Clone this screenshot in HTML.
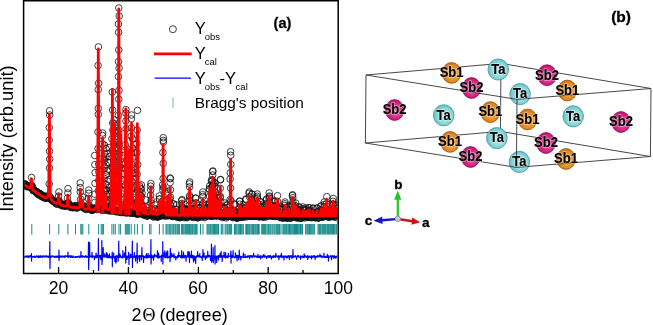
<!DOCTYPE html>
<html><head><meta charset="utf-8"><style>
html,body{margin:0;padding:0;background:#fff;width:653px;height:325px;overflow:hidden}
svg{display:block}
</style></head><body>
<svg width="653" height="325" viewBox="0 0 653 325">
<rect width="653" height="325" fill="#fff"/>
<defs><clipPath id="pc"><rect x="24.3" y="1.3" width="313.2" height="271.5"/></clipPath></defs>
<g style="filter:blur(0.2px)"><g clip-path="url(#pc)">
<g fill="none" stroke="#111" stroke-width="0.8"><circle cx="24.0" cy="184.3" r="3.3"/><circle cx="24.5" cy="183.7" r="3.3"/><circle cx="24.9" cy="184.1" r="3.3"/><circle cx="25.2" cy="184.3" r="3.3"/><circle cx="25.6" cy="185.3" r="3.3"/><circle cx="25.8" cy="185.2" r="3.3"/><circle cx="26.3" cy="186.7" r="3.3"/><circle cx="26.8" cy="185.9" r="3.3"/><circle cx="27.0" cy="185.9" r="3.3"/><circle cx="27.7" cy="186.4" r="3.3"/><circle cx="27.8" cy="186.2" r="3.3"/><circle cx="28.4" cy="186.4" r="3.3"/><circle cx="28.9" cy="186.3" r="3.3"/><circle cx="29.1" cy="186.4" r="3.3"/><circle cx="29.7" cy="186.7" r="3.3"/><circle cx="29.8" cy="187.6" r="3.3"/><circle cx="30.3" cy="186.1" r="3.3"/><circle cx="30.7" cy="185.2" r="3.3"/><circle cx="31.0" cy="186.7" r="3.3"/><circle cx="31.4" cy="186.3" r="3.3"/><circle cx="31.8" cy="185.6" r="3.3"/><circle cx="32.3" cy="186.5" r="3.3"/><circle cx="32.6" cy="188.0" r="3.3"/><circle cx="33.1" cy="190.4" r="3.3"/><circle cx="33.3" cy="190.7" r="3.3"/><circle cx="33.6" cy="189.2" r="3.3"/><circle cx="34.0" cy="190.6" r="3.3"/><circle cx="34.3" cy="190.5" r="3.3"/><circle cx="34.9" cy="191.1" r="3.3"/><circle cx="35.5" cy="191.6" r="3.3"/><circle cx="35.7" cy="191.3" r="3.3"/><circle cx="35.8" cy="191.8" r="3.3"/><circle cx="36.2" cy="192.4" r="3.3"/><circle cx="36.8" cy="191.5" r="3.3"/><circle cx="37.2" cy="192.7" r="3.3"/><circle cx="37.4" cy="193.5" r="3.3"/><circle cx="37.8" cy="194.2" r="3.3"/><circle cx="38.3" cy="194.2" r="3.3"/><circle cx="38.8" cy="193.1" r="3.3"/><circle cx="39.1" cy="193.2" r="3.3"/><circle cx="39.5" cy="195.3" r="3.3"/><circle cx="40.2" cy="193.8" r="3.3"/><circle cx="40.3" cy="194.7" r="3.3"/><circle cx="41.1" cy="194.9" r="3.3"/><circle cx="41.2" cy="194.7" r="3.3"/><circle cx="41.5" cy="196.0" r="3.3"/><circle cx="41.8" cy="196.2" r="3.3"/><circle cx="42.2" cy="196.9" r="3.3"/><circle cx="42.7" cy="196.8" r="3.3"/><circle cx="43.1" cy="195.7" r="3.3"/><circle cx="43.4" cy="196.0" r="3.3"/><circle cx="43.7" cy="197.4" r="3.3"/><circle cx="44.0" cy="196.4" r="3.3"/><circle cx="44.6" cy="197.0" r="3.3"/><circle cx="44.9" cy="198.2" r="3.3"/><circle cx="45.5" cy="196.5" r="3.3"/><circle cx="46.0" cy="197.7" r="3.3"/><circle cx="46.2" cy="198.4" r="3.3"/><circle cx="46.6" cy="197.6" r="3.3"/><circle cx="47.0" cy="197.8" r="3.3"/><circle cx="47.3" cy="196.9" r="3.3"/><circle cx="47.7" cy="195.7" r="3.3"/><circle cx="48.0" cy="197.6" r="3.3"/><circle cx="48.5" cy="197.5" r="3.3"/><circle cx="49.0" cy="196.4" r="3.3"/><circle cx="49.3" cy="197.9" r="3.3"/><circle cx="49.4" cy="197.1" r="3.3"/><circle cx="49.9" cy="197.1" r="3.3"/><circle cx="50.4" cy="198.2" r="3.3"/><circle cx="50.8" cy="197.9" r="3.3"/><circle cx="51.0" cy="199.4" r="3.3"/><circle cx="51.8" cy="200.2" r="3.3"/><circle cx="51.9" cy="199.9" r="3.3"/><circle cx="52.5" cy="200.0" r="3.3"/><circle cx="52.6" cy="200.2" r="3.3"/><circle cx="53.4" cy="201.2" r="3.3"/><circle cx="53.7" cy="201.8" r="3.3"/><circle cx="54.1" cy="201.4" r="3.3"/><circle cx="54.4" cy="201.6" r="3.3"/><circle cx="55.0" cy="201.4" r="3.3"/><circle cx="55.2" cy="201.6" r="3.3"/><circle cx="55.6" cy="202.9" r="3.3"/><circle cx="55.6" cy="202.3" r="3.3"/><circle cx="56.3" cy="203.9" r="3.3"/><circle cx="56.8" cy="203.9" r="3.3"/><circle cx="57.3" cy="203.9" r="3.3"/><circle cx="57.3" cy="202.3" r="3.3"/><circle cx="57.8" cy="201.9" r="3.3"/><circle cx="58.3" cy="200.7" r="3.3"/><circle cx="58.6" cy="201.7" r="3.3"/><circle cx="59.0" cy="201.0" r="3.3"/><circle cx="59.4" cy="201.6" r="3.3"/><circle cx="59.7" cy="204.1" r="3.3"/><circle cx="60.1" cy="204.5" r="3.3"/><circle cx="60.6" cy="204.7" r="3.3"/><circle cx="61.3" cy="205.2" r="3.3"/><circle cx="61.5" cy="204.6" r="3.3"/><circle cx="61.8" cy="204.9" r="3.3"/><circle cx="62.2" cy="205.8" r="3.3"/><circle cx="62.5" cy="205.7" r="3.3"/><circle cx="63.0" cy="204.4" r="3.3"/><circle cx="63.5" cy="204.4" r="3.3"/><circle cx="63.5" cy="204.6" r="3.3"/><circle cx="64.3" cy="205.8" r="3.3"/><circle cx="64.6" cy="205.6" r="3.3"/><circle cx="64.9" cy="205.3" r="3.3"/><circle cx="65.1" cy="205.4" r="3.3"/><circle cx="65.5" cy="206.3" r="3.3"/><circle cx="65.7" cy="205.8" r="3.3"/><circle cx="66.2" cy="206.0" r="3.3"/><circle cx="66.8" cy="205.2" r="3.3"/><circle cx="66.8" cy="203.4" r="3.3"/><circle cx="67.3" cy="203.2" r="3.3"/><circle cx="67.8" cy="203.9" r="3.3"/><circle cx="68.5" cy="202.8" r="3.3"/><circle cx="68.7" cy="204.2" r="3.3"/><circle cx="68.8" cy="204.5" r="3.3"/><circle cx="69.5" cy="205.3" r="3.3"/><circle cx="69.8" cy="206.1" r="3.3"/><circle cx="70.4" cy="207.4" r="3.3"/><circle cx="70.6" cy="205.8" r="3.3"/><circle cx="71.0" cy="206.8" r="3.3"/><circle cx="71.7" cy="207.1" r="3.3"/><circle cx="72.2" cy="206.2" r="3.3"/><circle cx="72.5" cy="207.7" r="3.3"/><circle cx="72.7" cy="207.3" r="3.3"/><circle cx="73.3" cy="207.6" r="3.3"/><circle cx="73.7" cy="206.4" r="3.3"/><circle cx="74.3" cy="206.7" r="3.3"/><circle cx="74.7" cy="206.3" r="3.3"/><circle cx="74.9" cy="206.1" r="3.3"/><circle cx="75.5" cy="206.0" r="3.3"/><circle cx="75.7" cy="205.7" r="3.3"/><circle cx="76.2" cy="207.6" r="3.3"/><circle cx="76.7" cy="208.2" r="3.3"/><circle cx="77.3" cy="206.9" r="3.3"/><circle cx="77.7" cy="207.4" r="3.3"/><circle cx="77.9" cy="206.9" r="3.3"/><circle cx="78.4" cy="206.6" r="3.3"/><circle cx="78.9" cy="206.3" r="3.3"/><circle cx="79.5" cy="205.4" r="3.3"/><circle cx="79.5" cy="204.8" r="3.3"/><circle cx="79.9" cy="206.5" r="3.3"/><circle cx="80.1" cy="205.8" r="3.3"/><circle cx="80.6" cy="205.4" r="3.3"/><circle cx="81.0" cy="206.8" r="3.3"/><circle cx="81.4" cy="205.7" r="3.3"/><circle cx="81.9" cy="205.2" r="3.3"/><circle cx="82.2" cy="205.3" r="3.3"/><circle cx="82.7" cy="206.6" r="3.3"/><circle cx="83.0" cy="206.7" r="3.3"/><circle cx="83.4" cy="206.8" r="3.3"/><circle cx="83.6" cy="208.0" r="3.3"/><circle cx="84.3" cy="208.0" r="3.3"/><circle cx="84.8" cy="208.3" r="3.3"/><circle cx="85.2" cy="207.8" r="3.3"/><circle cx="85.4" cy="208.8" r="3.3"/><circle cx="86.0" cy="209.0" r="3.3"/><circle cx="86.1" cy="209.6" r="3.3"/><circle cx="86.8" cy="208.2" r="3.3"/><circle cx="87.1" cy="207.6" r="3.3"/><circle cx="87.6" cy="208.6" r="3.3"/><circle cx="88.0" cy="207.7" r="3.3"/><circle cx="88.3" cy="206.2" r="3.3"/><circle cx="88.7" cy="208.1" r="3.3"/><circle cx="89.4" cy="208.3" r="3.3"/><circle cx="89.4" cy="207.0" r="3.3"/><circle cx="89.7" cy="208.4" r="3.3"/><circle cx="90.3" cy="208.6" r="3.3"/><circle cx="90.8" cy="208.5" r="3.3"/><circle cx="91.1" cy="209.7" r="3.3"/><circle cx="91.5" cy="210.3" r="3.3"/><circle cx="91.7" cy="209.9" r="3.3"/><circle cx="92.2" cy="209.9" r="3.3"/><circle cx="92.6" cy="210.1" r="3.3"/><circle cx="92.9" cy="209.8" r="3.3"/><circle cx="93.1" cy="209.3" r="3.3"/><circle cx="93.8" cy="208.5" r="3.3"/><circle cx="94.2" cy="209.2" r="3.3"/><circle cx="94.5" cy="209.3" r="3.3"/><circle cx="95.0" cy="208.7" r="3.3"/><circle cx="95.1" cy="208.7" r="3.3"/><circle cx="95.7" cy="208.7" r="3.3"/><circle cx="95.8" cy="207.4" r="3.3"/><circle cx="96.4" cy="208.4" r="3.3"/><circle cx="96.9" cy="208.3" r="3.3"/><circle cx="97.1" cy="209.6" r="3.3"/><circle cx="97.6" cy="208.6" r="3.3"/><circle cx="98.1" cy="209.1" r="3.3"/><circle cx="98.9" cy="208.2" r="3.3"/><circle cx="99.2" cy="209.4" r="3.3"/><circle cx="99.4" cy="208.7" r="3.3"/><circle cx="99.9" cy="207.9" r="3.3"/><circle cx="100.4" cy="209.6" r="3.3"/><circle cx="100.5" cy="209.5" r="3.3"/><circle cx="101.1" cy="208.9" r="3.3"/><circle cx="101.3" cy="209.5" r="3.3"/><circle cx="101.7" cy="209.9" r="3.3"/><circle cx="102.2" cy="209.7" r="3.3"/><circle cx="102.4" cy="208.6" r="3.3"/><circle cx="103.1" cy="209.7" r="3.3"/><circle cx="103.4" cy="209.1" r="3.3"/><circle cx="103.7" cy="208.8" r="3.3"/><circle cx="104.1" cy="210.4" r="3.3"/><circle cx="104.5" cy="208.5" r="3.3"/><circle cx="104.9" cy="209.5" r="3.3"/><circle cx="105.6" cy="209.3" r="3.3"/><circle cx="106.0" cy="208.9" r="3.3"/><circle cx="106.4" cy="209.4" r="3.3"/><circle cx="106.6" cy="208.9" r="3.3"/><circle cx="107.1" cy="209.5" r="3.3"/><circle cx="107.5" cy="210.6" r="3.3"/><circle cx="108.0" cy="209.4" r="3.3"/><circle cx="108.2" cy="209.1" r="3.3"/><circle cx="108.8" cy="209.3" r="3.3"/><circle cx="109.2" cy="209.5" r="3.3"/><circle cx="109.8" cy="210.5" r="3.3"/><circle cx="109.8" cy="211.0" r="3.3"/><circle cx="110.4" cy="210.6" r="3.3"/><circle cx="110.7" cy="210.1" r="3.3"/><circle cx="111.1" cy="209.6" r="3.3"/><circle cx="111.4" cy="210.1" r="3.3"/><circle cx="112.0" cy="210.7" r="3.3"/><circle cx="112.2" cy="211.0" r="3.3"/><circle cx="113.0" cy="210.6" r="3.3"/><circle cx="113.5" cy="210.2" r="3.3"/><circle cx="113.6" cy="209.7" r="3.3"/><circle cx="113.8" cy="209.7" r="3.3"/><circle cx="114.2" cy="210.7" r="3.3"/><circle cx="114.9" cy="209.9" r="3.3"/><circle cx="115.2" cy="211.5" r="3.3"/><circle cx="115.7" cy="210.8" r="3.3"/><circle cx="116.1" cy="211.8" r="3.3"/><circle cx="116.4" cy="210.5" r="3.3"/><circle cx="117.0" cy="210.4" r="3.3"/><circle cx="117.2" cy="210.8" r="3.3"/><circle cx="117.8" cy="210.7" r="3.3"/><circle cx="118.0" cy="210.3" r="3.3"/><circle cx="118.8" cy="211.8" r="3.3"/><circle cx="119.2" cy="212.2" r="3.3"/><circle cx="119.4" cy="211.6" r="3.3"/><circle cx="120.0" cy="211.2" r="3.3"/><circle cx="120.1" cy="210.8" r="3.3"/><circle cx="120.7" cy="211.6" r="3.3"/><circle cx="121.1" cy="211.5" r="3.3"/><circle cx="121.3" cy="212.6" r="3.3"/><circle cx="121.8" cy="211.1" r="3.3"/><circle cx="122.2" cy="211.5" r="3.3"/><circle cx="122.6" cy="212.0" r="3.3"/><circle cx="122.9" cy="212.4" r="3.3"/><circle cx="123.3" cy="212.5" r="3.3"/><circle cx="123.6" cy="211.7" r="3.3"/><circle cx="124.4" cy="211.3" r="3.3"/><circle cx="124.7" cy="211.9" r="3.3"/><circle cx="124.8" cy="211.1" r="3.3"/><circle cx="125.1" cy="212.4" r="3.3"/><circle cx="125.5" cy="212.9" r="3.3"/><circle cx="126.2" cy="211.8" r="3.3"/><circle cx="126.7" cy="212.6" r="3.3"/><circle cx="127.1" cy="212.0" r="3.3"/><circle cx="127.1" cy="211.7" r="3.3"/><circle cx="127.6" cy="213.0" r="3.3"/><circle cx="127.9" cy="211.4" r="3.3"/><circle cx="128.3" cy="212.1" r="3.3"/><circle cx="128.7" cy="212.0" r="3.3"/><circle cx="129.0" cy="211.6" r="3.3"/><circle cx="129.4" cy="212.2" r="3.3"/><circle cx="129.7" cy="212.9" r="3.3"/><circle cx="130.3" cy="212.9" r="3.3"/><circle cx="130.7" cy="211.5" r="3.3"/><circle cx="130.7" cy="212.3" r="3.3"/><circle cx="131.1" cy="212.8" r="3.3"/><circle cx="131.5" cy="212.9" r="3.3"/><circle cx="132.2" cy="212.3" r="3.3"/><circle cx="132.6" cy="213.3" r="3.3"/><circle cx="132.7" cy="212.3" r="3.3"/><circle cx="133.2" cy="212.7" r="3.3"/><circle cx="133.7" cy="212.8" r="3.3"/><circle cx="134.2" cy="212.9" r="3.3"/><circle cx="134.3" cy="213.3" r="3.3"/><circle cx="134.9" cy="212.3" r="3.3"/><circle cx="135.3" cy="213.1" r="3.3"/><circle cx="135.8" cy="213.1" r="3.3"/><circle cx="136.3" cy="213.8" r="3.3"/><circle cx="136.3" cy="212.3" r="3.3"/><circle cx="136.9" cy="214.0" r="3.3"/><circle cx="137.3" cy="213.4" r="3.3"/><circle cx="137.6" cy="214.1" r="3.3"/><circle cx="137.8" cy="212.3" r="3.3"/><circle cx="138.6" cy="213.9" r="3.3"/><circle cx="138.8" cy="213.0" r="3.3"/><circle cx="139.4" cy="212.3" r="3.3"/><circle cx="139.7" cy="213.6" r="3.3"/><circle cx="139.8" cy="212.7" r="3.3"/><circle cx="140.3" cy="212.4" r="3.3"/><circle cx="140.7" cy="213.7" r="3.3"/><circle cx="141.2" cy="212.7" r="3.3"/><circle cx="141.5" cy="213.5" r="3.3"/><circle cx="142.1" cy="213.6" r="3.3"/><circle cx="142.3" cy="213.7" r="3.3"/><circle cx="142.9" cy="213.2" r="3.3"/><circle cx="143.1" cy="213.7" r="3.3"/><circle cx="143.8" cy="214.2" r="3.3"/><circle cx="143.8" cy="215.1" r="3.3"/><circle cx="144.4" cy="215.2" r="3.3"/><circle cx="144.8" cy="214.2" r="3.3"/><circle cx="144.9" cy="213.3" r="3.3"/><circle cx="145.6" cy="212.9" r="3.3"/><circle cx="145.8" cy="213.6" r="3.3"/><circle cx="146.1" cy="213.0" r="3.3"/><circle cx="146.6" cy="214.6" r="3.3"/><circle cx="146.8" cy="216.1" r="3.3"/><circle cx="147.2" cy="216.1" r="3.3"/><circle cx="148.0" cy="215.3" r="3.3"/><circle cx="148.4" cy="215.3" r="3.3"/><circle cx="148.8" cy="215.3" r="3.3"/><circle cx="149.3" cy="214.8" r="3.3"/><circle cx="149.6" cy="213.9" r="3.3"/><circle cx="150.2" cy="214.0" r="3.3"/><circle cx="150.6" cy="215.1" r="3.3"/><circle cx="150.9" cy="214.0" r="3.3"/><circle cx="150.6" cy="186.2" r="3.3"/><circle cx="151.1" cy="214.3" r="3.3"/><circle cx="151.2" cy="200.1" r="3.3"/><circle cx="151.5" cy="213.4" r="3.3"/><circle cx="152.0" cy="215.2" r="3.3"/><circle cx="152.3" cy="215.1" r="3.3"/><circle cx="152.8" cy="216.5" r="3.3"/><circle cx="153.1" cy="215.3" r="3.3"/><circle cx="153.7" cy="215.9" r="3.3"/><circle cx="153.8" cy="217.0" r="3.3"/><circle cx="154.2" cy="215.4" r="3.3"/><circle cx="154.8" cy="214.7" r="3.3"/><circle cx="155.3" cy="215.4" r="3.3"/><circle cx="155.4" cy="209.3" r="3.3"/><circle cx="155.8" cy="215.5" r="3.3"/><circle cx="156.0" cy="216.6" r="3.3"/><circle cx="156.5" cy="215.7" r="3.3"/><circle cx="157.1" cy="216.9" r="3.3"/><circle cx="157.5" cy="217.0" r="3.3"/><circle cx="157.7" cy="216.0" r="3.3"/><circle cx="158.0" cy="217.0" r="3.3"/><circle cx="158.4" cy="215.9" r="3.3"/><circle cx="158.9" cy="215.0" r="3.3"/><circle cx="158.7" cy="211.2" r="3.3"/><circle cx="159.5" cy="213.9" r="3.3"/><circle cx="159.3" cy="199.0" r="3.3"/><circle cx="160.0" cy="215.6" r="3.3"/><circle cx="160.2" cy="215.0" r="3.3"/><circle cx="160.4" cy="216.0" r="3.3"/><circle cx="161.1" cy="215.0" r="3.3"/><circle cx="161.2" cy="215.7" r="3.3"/><circle cx="161.5" cy="215.4" r="3.3"/><circle cx="161.8" cy="211.2" r="3.3"/><circle cx="162.2" cy="214.5" r="3.3"/><circle cx="162.7" cy="214.9" r="3.3"/><circle cx="162.7" cy="189.6" r="3.3"/><circle cx="163.1" cy="215.8" r="3.3"/><circle cx="163.3" cy="140.4" r="3.3"/><circle cx="163.3" cy="215.0" r="3.3"/><circle cx="163.4" cy="187.5" r="3.3"/><circle cx="163.7" cy="214.8" r="3.3"/><circle cx="163.8" cy="204.8" r="3.3"/><circle cx="164.4" cy="215.4" r="3.3"/><circle cx="164.2" cy="209.6" r="3.3"/><circle cx="164.8" cy="215.8" r="3.3"/><circle cx="165.2" cy="215.4" r="3.3"/><circle cx="165.7" cy="214.9" r="3.3"/><circle cx="166.2" cy="216.0" r="3.3"/><circle cx="166.6" cy="215.1" r="3.3"/><circle cx="166.7" cy="211.3" r="3.3"/><circle cx="167.1" cy="214.1" r="3.3"/><circle cx="167.4" cy="214.0" r="3.3"/><circle cx="167.3" cy="194.0" r="3.3"/><circle cx="167.9" cy="215.8" r="3.3"/><circle cx="167.9" cy="208.5" r="3.3"/><circle cx="168.0" cy="214.2" r="3.3"/><circle cx="168.0" cy="211.6" r="3.3"/><circle cx="168.3" cy="214.5" r="3.3"/><circle cx="168.9" cy="215.3" r="3.3"/><circle cx="168.9" cy="212.5" r="3.3"/><circle cx="169.5" cy="215.5" r="3.3"/><circle cx="169.4" cy="209.1" r="3.3"/><circle cx="169.7" cy="214.5" r="3.3"/><circle cx="169.8" cy="198.9" r="3.3"/><circle cx="170.4" cy="215.1" r="3.3"/><circle cx="170.4" cy="178.6" r="3.3"/><circle cx="170.8" cy="215.6" r="3.3"/><circle cx="170.9" cy="205.8" r="3.3"/><circle cx="171.2" cy="214.2" r="3.3"/><circle cx="171.3" cy="210.8" r="3.3"/><circle cx="171.4" cy="215.6" r="3.3"/><circle cx="171.9" cy="216.3" r="3.3"/><circle cx="172.1" cy="216.1" r="3.3"/><circle cx="172.8" cy="216.6" r="3.3"/><circle cx="173.0" cy="215.6" r="3.3"/><circle cx="173.6" cy="215.3" r="3.3"/><circle cx="173.6" cy="204.0" r="3.3"/><circle cx="174.1" cy="214.6" r="3.3"/><circle cx="173.8" cy="211.4" r="3.3"/><circle cx="174.2" cy="215.9" r="3.3"/><circle cx="174.9" cy="215.8" r="3.3"/><circle cx="175.1" cy="216.4" r="3.3"/><circle cx="175.5" cy="216.6" r="3.3"/><circle cx="175.9" cy="214.7" r="3.3"/><circle cx="176.1" cy="215.1" r="3.3"/><circle cx="176.0" cy="209.5" r="3.3"/><circle cx="176.5" cy="215.5" r="3.3"/><circle cx="177.3" cy="216.3" r="3.3"/><circle cx="177.4" cy="215.9" r="3.3"/><circle cx="177.9" cy="217.4" r="3.3"/><circle cx="178.3" cy="217.2" r="3.3"/><circle cx="178.9" cy="216.8" r="3.3"/><circle cx="179.3" cy="216.6" r="3.3"/><circle cx="179.8" cy="217.7" r="3.3"/><circle cx="180.0" cy="216.7" r="3.3"/><circle cx="180.3" cy="216.3" r="3.3"/><circle cx="180.7" cy="217.5" r="3.3"/><circle cx="181.0" cy="215.7" r="3.3"/><circle cx="181.6" cy="216.0" r="3.3"/><circle cx="181.7" cy="210.0" r="3.3"/><circle cx="182.1" cy="215.8" r="3.3"/><circle cx="181.8" cy="200.5" r="3.3"/><circle cx="182.4" cy="214.3" r="3.3"/><circle cx="182.3" cy="208.3" r="3.3"/><circle cx="182.7" cy="215.2" r="3.3"/><circle cx="183.2" cy="216.2" r="3.3"/><circle cx="183.3" cy="216.2" r="3.3"/><circle cx="184.2" cy="217.7" r="3.3"/><circle cx="184.4" cy="216.4" r="3.3"/><circle cx="184.8" cy="216.7" r="3.3"/><circle cx="185.3" cy="214.7" r="3.3"/><circle cx="185.5" cy="208.8" r="3.3"/><circle cx="185.9" cy="215.8" r="3.3"/><circle cx="185.9" cy="209.6" r="3.3"/><circle cx="186.2" cy="216.8" r="3.3"/><circle cx="186.9" cy="216.7" r="3.3"/><circle cx="186.9" cy="217.8" r="3.3"/><circle cx="187.4" cy="216.7" r="3.3"/><circle cx="187.9" cy="216.3" r="3.3"/><circle cx="188.3" cy="216.6" r="3.3"/><circle cx="188.7" cy="214.9" r="3.3"/><circle cx="189.2" cy="214.3" r="3.3"/><circle cx="189.1" cy="205.7" r="3.3"/><circle cx="189.4" cy="215.3" r="3.3"/><circle cx="189.4" cy="183.9" r="3.3"/><circle cx="189.7" cy="214.3" r="3.3"/><circle cx="189.8" cy="197.3" r="3.3"/><circle cx="190.4" cy="215.2" r="3.3"/><circle cx="190.4" cy="209.1" r="3.3"/><circle cx="190.8" cy="215.8" r="3.3"/><circle cx="191.1" cy="216.0" r="3.3"/><circle cx="191.6" cy="217.0" r="3.3"/><circle cx="191.9" cy="215.8" r="3.3"/><circle cx="191.9" cy="211.8" r="3.3"/><circle cx="192.4" cy="215.9" r="3.3"/><circle cx="192.4" cy="206.1" r="3.3"/><circle cx="192.8" cy="214.3" r="3.3"/><circle cx="192.8" cy="209.5" r="3.3"/><circle cx="193.3" cy="215.2" r="3.3"/><circle cx="193.5" cy="217.5" r="3.3"/><circle cx="194.0" cy="217.0" r="3.3"/><circle cx="194.5" cy="215.9" r="3.3"/><circle cx="195.0" cy="216.2" r="3.3"/><circle cx="195.3" cy="212.6" r="3.3"/><circle cx="195.3" cy="215.5" r="3.3"/><circle cx="195.3" cy="208.5" r="3.3"/><circle cx="195.9" cy="215.3" r="3.3"/><circle cx="195.7" cy="198.3" r="3.3"/><circle cx="196.2" cy="215.7" r="3.3"/><circle cx="196.6" cy="215.3" r="3.3"/><circle cx="197.0" cy="216.9" r="3.3"/><circle cx="197.4" cy="217.8" r="3.3"/><circle cx="197.6" cy="217.7" r="3.3"/><circle cx="197.9" cy="216.9" r="3.3"/><circle cx="198.2" cy="217.2" r="3.3"/><circle cx="198.8" cy="216.4" r="3.3"/><circle cx="199.4" cy="214.7" r="3.3"/><circle cx="199.5" cy="207.5" r="3.3"/><circle cx="199.7" cy="214.7" r="3.3"/><circle cx="199.6" cy="208.1" r="3.3"/><circle cx="200.3" cy="216.7" r="3.3"/><circle cx="200.6" cy="216.6" r="3.3"/><circle cx="201.0" cy="216.9" r="3.3"/><circle cx="201.5" cy="215.8" r="3.3"/><circle cx="201.8" cy="215.8" r="3.3"/><circle cx="202.3" cy="214.4" r="3.3"/><circle cx="202.3" cy="210.0" r="3.3"/><circle cx="202.7" cy="215.2" r="3.3"/><circle cx="202.6" cy="194.7" r="3.3"/><circle cx="203.3" cy="215.7" r="3.3"/><circle cx="203.0" cy="203.4" r="3.3"/><circle cx="203.6" cy="215.9" r="3.3"/><circle cx="203.9" cy="215.4" r="3.3"/><circle cx="204.0" cy="216.1" r="3.3"/><circle cx="204.5" cy="217.6" r="3.3"/><circle cx="205.2" cy="216.8" r="3.3"/><circle cx="205.4" cy="214.6" r="3.3"/><circle cx="205.5" cy="213.0" r="3.3"/><circle cx="205.8" cy="214.9" r="3.3"/><circle cx="206.0" cy="207.7" r="3.3"/><circle cx="206.4" cy="215.2" r="3.3"/><circle cx="206.8" cy="215.9" r="3.3"/><circle cx="207.0" cy="215.9" r="3.3"/><circle cx="207.7" cy="215.7" r="3.3"/><circle cx="207.8" cy="215.6" r="3.3"/><circle cx="208.4" cy="215.2" r="3.3"/><circle cx="208.1" cy="213.1" r="3.3"/><circle cx="208.8" cy="215.2" r="3.3"/><circle cx="208.5" cy="211.3" r="3.3"/><circle cx="208.9" cy="215.4" r="3.3"/><circle cx="209.1" cy="204.4" r="3.3"/><circle cx="209.5" cy="215.3" r="3.3"/><circle cx="209.3" cy="188.9" r="3.3"/><circle cx="210.0" cy="216.0" r="3.3"/><circle cx="210.3" cy="215.7" r="3.3"/><circle cx="210.7" cy="215.3" r="3.3"/><circle cx="210.5" cy="206.0" r="3.3"/><circle cx="211.0" cy="216.2" r="3.3"/><circle cx="211.1" cy="201.7" r="3.3"/><circle cx="211.4" cy="215.3" r="3.3"/><circle cx="211.5" cy="181.5" r="3.3"/><circle cx="211.9" cy="216.0" r="3.3"/><circle cx="212.0" cy="216.0" r="3.3"/><circle cx="212.5" cy="214.9" r="3.3"/><circle cx="212.4" cy="186.2" r="3.3"/><circle cx="212.9" cy="215.9" r="3.3"/><circle cx="212.7" cy="171.5" r="3.3"/><circle cx="213.1" cy="215.2" r="3.3"/><circle cx="213.3" cy="183.5" r="3.3"/><circle cx="213.4" cy="215.0" r="3.3"/><circle cx="213.7" cy="196.8" r="3.3"/><circle cx="213.8" cy="215.7" r="3.3"/><circle cx="214.4" cy="214.7" r="3.3"/><circle cx="214.3" cy="204.6" r="3.3"/><circle cx="214.4" cy="215.4" r="3.3"/><circle cx="214.7" cy="199.4" r="3.3"/><circle cx="215.1" cy="214.6" r="3.3"/><circle cx="215.0" cy="183.0" r="3.3"/><circle cx="215.6" cy="215.3" r="3.3"/><circle cx="215.7" cy="201.6" r="3.3"/><circle cx="215.6" cy="215.9" r="3.3"/><circle cx="215.9" cy="208.0" r="3.3"/><circle cx="216.1" cy="215.4" r="3.3"/><circle cx="216.1" cy="209.5" r="3.3"/><circle cx="216.6" cy="216.0" r="3.3"/><circle cx="216.7" cy="209.0" r="3.3"/><circle cx="217.0" cy="215.8" r="3.3"/><circle cx="217.1" cy="204.8" r="3.3"/><circle cx="217.3" cy="215.0" r="3.3"/><circle cx="217.1" cy="198.0" r="3.3"/><circle cx="217.7" cy="214.5" r="3.3"/><circle cx="217.6" cy="196.0" r="3.3"/><circle cx="218.0" cy="215.4" r="3.3"/><circle cx="217.9" cy="205.3" r="3.3"/><circle cx="218.2" cy="215.4" r="3.3"/><circle cx="218.5" cy="209.5" r="3.3"/><circle cx="219.0" cy="215.1" r="3.3"/><circle cx="219.0" cy="211.7" r="3.3"/><circle cx="219.6" cy="214.9" r="3.3"/><circle cx="219.4" cy="211.3" r="3.3"/><circle cx="219.8" cy="214.5" r="3.3"/><circle cx="220.1" cy="216.0" r="3.3"/><circle cx="220.0" cy="197.6" r="3.3"/><circle cx="220.4" cy="216.4" r="3.3"/><circle cx="220.5" cy="179.7" r="3.3"/><circle cx="220.8" cy="216.3" r="3.3"/><circle cx="220.8" cy="201.8" r="3.3"/><circle cx="221.0" cy="216.2" r="3.3"/><circle cx="221.1" cy="210.2" r="3.3"/><circle cx="221.5" cy="216.2" r="3.3"/><circle cx="221.7" cy="216.4" r="3.3"/><circle cx="222.0" cy="215.9" r="3.3"/><circle cx="222.7" cy="217.6" r="3.3"/><circle cx="223.0" cy="216.7" r="3.3"/><circle cx="223.5" cy="216.0" r="3.3"/><circle cx="223.8" cy="215.1" r="3.3"/><circle cx="223.9" cy="212.4" r="3.3"/><circle cx="224.5" cy="216.3" r="3.3"/><circle cx="224.6" cy="216.0" r="3.3"/><circle cx="224.7" cy="208.2" r="3.3"/><circle cx="225.3" cy="216.3" r="3.3"/><circle cx="225.7" cy="216.1" r="3.3"/><circle cx="226.1" cy="217.9" r="3.3"/><circle cx="226.4" cy="216.6" r="3.3"/><circle cx="226.8" cy="216.4" r="3.3"/><circle cx="227.0" cy="215.0" r="3.3"/><circle cx="227.4" cy="215.0" r="3.3"/><circle cx="227.4" cy="204.8" r="3.3"/><circle cx="227.7" cy="215.7" r="3.3"/><circle cx="228.0" cy="211.1" r="3.3"/><circle cx="228.2" cy="215.8" r="3.3"/><circle cx="228.6" cy="216.5" r="3.3"/><circle cx="229.2" cy="215.9" r="3.3"/><circle cx="228.9" cy="212.7" r="3.3"/><circle cx="229.6" cy="214.8" r="3.3"/><circle cx="229.5" cy="210.4" r="3.3"/><circle cx="230.1" cy="214.6" r="3.3"/><circle cx="230.0" cy="205.3" r="3.3"/><circle cx="230.4" cy="216.3" r="3.3"/><circle cx="230.7" cy="214.5" r="3.3"/><circle cx="230.8" cy="164.4" r="3.3"/><circle cx="231.3" cy="216.2" r="3.3"/><circle cx="231.0" cy="200.9" r="3.3"/><circle cx="231.6" cy="216.4" r="3.3"/><circle cx="231.5" cy="210.7" r="3.3"/><circle cx="231.9" cy="215.1" r="3.3"/><circle cx="231.8" cy="212.2" r="3.3"/><circle cx="232.4" cy="216.4" r="3.3"/><circle cx="232.8" cy="217.2" r="3.3"/><circle cx="233.2" cy="217.7" r="3.3"/><circle cx="233.7" cy="215.3" r="3.3"/><circle cx="234.0" cy="214.7" r="3.3"/><circle cx="234.2" cy="211.4" r="3.3"/><circle cx="234.7" cy="216.4" r="3.3"/><circle cx="234.6" cy="204.3" r="3.3"/><circle cx="235.1" cy="215.9" r="3.3"/><circle cx="235.1" cy="212.8" r="3.3"/><circle cx="235.5" cy="216.4" r="3.3"/><circle cx="235.9" cy="216.4" r="3.3"/><circle cx="236.3" cy="217.7" r="3.3"/><circle cx="236.7" cy="217.5" r="3.3"/><circle cx="237.1" cy="218.2" r="3.3"/><circle cx="237.6" cy="217.9" r="3.3"/><circle cx="237.9" cy="217.6" r="3.3"/><circle cx="238.5" cy="217.0" r="3.3"/><circle cx="238.6" cy="216.0" r="3.3"/><circle cx="239.2" cy="215.8" r="3.3"/><circle cx="239.5" cy="214.5" r="3.3"/><circle cx="239.6" cy="201.5" r="3.3"/><circle cx="239.8" cy="214.9" r="3.3"/><circle cx="239.8" cy="207.7" r="3.3"/><circle cx="240.4" cy="214.6" r="3.3"/><circle cx="240.9" cy="216.1" r="3.3"/><circle cx="241.1" cy="217.1" r="3.3"/><circle cx="241.5" cy="216.7" r="3.3"/><circle cx="241.8" cy="217.5" r="3.3"/><circle cx="241.9" cy="216.8" r="3.3"/><circle cx="242.6" cy="214.8" r="3.3"/><circle cx="242.7" cy="215.9" r="3.3"/><circle cx="242.8" cy="207.2" r="3.3"/><circle cx="243.3" cy="215.3" r="3.3"/><circle cx="243.1" cy="208.2" r="3.3"/><circle cx="243.5" cy="216.1" r="3.3"/><circle cx="243.7" cy="212.8" r="3.3"/><circle cx="244.2" cy="216.4" r="3.3"/><circle cx="244.5" cy="215.9" r="3.3"/><circle cx="244.9" cy="217.1" r="3.3"/><circle cx="245.4" cy="215.6" r="3.3"/><circle cx="245.4" cy="212.6" r="3.3"/><circle cx="245.6" cy="216.1" r="3.3"/><circle cx="245.5" cy="208.2" r="3.3"/><circle cx="245.9" cy="214.8" r="3.3"/><circle cx="246.1" cy="199.6" r="3.3"/><circle cx="246.4" cy="215.1" r="3.3"/><circle cx="246.4" cy="210.3" r="3.3"/><circle cx="247.2" cy="215.9" r="3.3"/><circle cx="247.4" cy="216.6" r="3.3"/><circle cx="248.2" cy="214.9" r="3.3"/><circle cx="248.2" cy="212.8" r="3.3"/><circle cx="248.4" cy="216.3" r="3.3"/><circle cx="248.9" cy="215.1" r="3.3"/><circle cx="249.1" cy="216.4" r="3.3"/><circle cx="249.1" cy="193.3" r="3.3"/><circle cx="249.2" cy="215.1" r="3.3"/><circle cx="249.5" cy="205.1" r="3.3"/><circle cx="249.6" cy="214.6" r="3.3"/><circle cx="249.9" cy="211.4" r="3.3"/><circle cx="250.0" cy="215.4" r="3.3"/><circle cx="250.7" cy="216.2" r="3.3"/><circle cx="250.9" cy="214.5" r="3.3"/><circle cx="250.8" cy="213.2" r="3.3"/><circle cx="251.4" cy="215.7" r="3.3"/><circle cx="251.1" cy="211.1" r="3.3"/><circle cx="251.6" cy="215.9" r="3.3"/><circle cx="251.5" cy="205.1" r="3.3"/><circle cx="252.1" cy="215.7" r="3.3"/><circle cx="252.1" cy="194.4" r="3.3"/><circle cx="252.3" cy="216.2" r="3.3"/><circle cx="252.3" cy="202.1" r="3.3"/><circle cx="252.6" cy="215.3" r="3.3"/><circle cx="252.7" cy="210.0" r="3.3"/><circle cx="253.1" cy="216.2" r="3.3"/><circle cx="253.1" cy="212.2" r="3.3"/><circle cx="253.3" cy="215.9" r="3.3"/><circle cx="253.8" cy="215.8" r="3.3"/><circle cx="254.1" cy="216.3" r="3.3"/><circle cx="254.2" cy="211.3" r="3.3"/><circle cx="254.6" cy="214.8" r="3.3"/><circle cx="254.5" cy="205.2" r="3.3"/><circle cx="254.7" cy="215.0" r="3.3"/><circle cx="255.4" cy="216.2" r="3.3"/><circle cx="255.7" cy="214.8" r="3.3"/><circle cx="255.7" cy="212.4" r="3.3"/><circle cx="256.0" cy="216.5" r="3.3"/><circle cx="256.0" cy="212.7" r="3.3"/><circle cx="256.5" cy="215.6" r="3.3"/><circle cx="256.3" cy="212.4" r="3.3"/><circle cx="256.7" cy="215.3" r="3.3"/><circle cx="256.9" cy="209.8" r="3.3"/><circle cx="257.4" cy="215.6" r="3.3"/><circle cx="257.1" cy="196.3" r="3.3"/><circle cx="257.9" cy="216.0" r="3.3"/><circle cx="257.8" cy="203.9" r="3.3"/><circle cx="258.1" cy="215.7" r="3.3"/><circle cx="258.6" cy="216.4" r="3.3"/><circle cx="258.8" cy="216.4" r="3.3"/><circle cx="259.2" cy="217.0" r="3.3"/><circle cx="259.8" cy="216.4" r="3.3"/><circle cx="259.9" cy="215.2" r="3.3"/><circle cx="260.5" cy="215.2" r="3.3"/><circle cx="260.4" cy="201.6" r="3.3"/><circle cx="261.0" cy="216.3" r="3.3"/><circle cx="260.9" cy="208.8" r="3.3"/><circle cx="261.3" cy="215.7" r="3.3"/><circle cx="261.2" cy="212.2" r="3.3"/><circle cx="261.8" cy="216.0" r="3.3"/><circle cx="262.2" cy="217.0" r="3.3"/><circle cx="262.6" cy="216.6" r="3.3"/><circle cx="262.9" cy="214.8" r="3.3"/><circle cx="263.3" cy="215.5" r="3.3"/><circle cx="263.3" cy="206.0" r="3.3"/><circle cx="263.6" cy="216.5" r="3.3"/><circle cx="263.5" cy="205.9" r="3.3"/><circle cx="264.0" cy="216.5" r="3.3"/><circle cx="264.5" cy="217.3" r="3.3"/><circle cx="265.1" cy="216.4" r="3.3"/><circle cx="265.5" cy="215.7" r="3.3"/><circle cx="265.8" cy="215.8" r="3.3"/><circle cx="266.3" cy="216.5" r="3.3"/><circle cx="266.3" cy="206.5" r="3.3"/><circle cx="266.6" cy="215.9" r="3.3"/><circle cx="266.4" cy="200.0" r="3.3"/><circle cx="266.8" cy="214.8" r="3.3"/><circle cx="266.9" cy="208.7" r="3.3"/><circle cx="267.3" cy="215.7" r="3.3"/><circle cx="267.1" cy="212.3" r="3.3"/><circle cx="267.9" cy="215.1" r="3.3"/><circle cx="268.2" cy="215.9" r="3.3"/><circle cx="268.3" cy="215.0" r="3.3"/><circle cx="268.3" cy="212.2" r="3.3"/><circle cx="268.9" cy="214.7" r="3.3"/><circle cx="269.4" cy="215.7" r="3.3"/><circle cx="269.2" cy="198.3" r="3.3"/><circle cx="269.4" cy="215.3" r="3.3"/><circle cx="269.7" cy="196.9" r="3.3"/><circle cx="270.0" cy="214.8" r="3.3"/><circle cx="269.9" cy="208.9" r="3.3"/><circle cx="270.3" cy="215.4" r="3.3"/><circle cx="270.5" cy="212.9" r="3.3"/><circle cx="270.7" cy="216.1" r="3.3"/><circle cx="271.3" cy="215.5" r="3.3"/><circle cx="271.7" cy="215.2" r="3.3"/><circle cx="271.9" cy="212.5" r="3.3"/><circle cx="272.2" cy="215.5" r="3.3"/><circle cx="272.1" cy="208.9" r="3.3"/><circle cx="272.5" cy="215.9" r="3.3"/><circle cx="273.1" cy="215.8" r="3.3"/><circle cx="272.9" cy="210.0" r="3.3"/><circle cx="273.2" cy="216.3" r="3.3"/><circle cx="273.4" cy="213.1" r="3.3"/><circle cx="273.6" cy="215.7" r="3.3"/><circle cx="274.1" cy="214.6" r="3.3"/><circle cx="274.0" cy="213.4" r="3.3"/><circle cx="274.5" cy="215.8" r="3.3"/><circle cx="274.7" cy="209.5" r="3.3"/><circle cx="275.0" cy="215.1" r="3.3"/><circle cx="275.1" cy="201.6" r="3.3"/><circle cx="275.2" cy="215.8" r="3.3"/><circle cx="275.6" cy="216.6" r="3.3"/><circle cx="275.8" cy="215.5" r="3.3"/><circle cx="276.3" cy="216.1" r="3.3"/><circle cx="276.9" cy="216.1" r="3.3"/><circle cx="276.7" cy="212.4" r="3.3"/><circle cx="277.3" cy="214.6" r="3.3"/><circle cx="277.3" cy="208.7" r="3.3"/><circle cx="277.8" cy="214.7" r="3.3"/><circle cx="278.0" cy="215.5" r="3.3"/><circle cx="278.3" cy="215.2" r="3.3"/><circle cx="278.3" cy="211.5" r="3.3"/><circle cx="279.0" cy="215.6" r="3.3"/><circle cx="279.4" cy="216.1" r="3.3"/><circle cx="279.6" cy="216.8" r="3.3"/><circle cx="280.1" cy="217.6" r="3.3"/><circle cx="280.6" cy="214.7" r="3.3"/><circle cx="280.4" cy="212.7" r="3.3"/><circle cx="281.0" cy="215.3" r="3.3"/><circle cx="281.0" cy="208.2" r="3.3"/><circle cx="281.3" cy="214.7" r="3.3"/><circle cx="281.0" cy="209.8" r="3.3"/><circle cx="281.4" cy="215.9" r="3.3"/><circle cx="282.1" cy="217.8" r="3.3"/><circle cx="282.2" cy="217.6" r="3.3"/><circle cx="282.8" cy="218.0" r="3.3"/><circle cx="283.3" cy="216.7" r="3.3"/><circle cx="283.6" cy="217.9" r="3.3"/><circle cx="283.8" cy="217.1" r="3.3"/><circle cx="284.4" cy="215.8" r="3.3"/><circle cx="285.0" cy="215.9" r="3.3"/><circle cx="285.0" cy="203.8" r="3.3"/><circle cx="285.1" cy="215.0" r="3.3"/><circle cx="285.5" cy="207.8" r="3.3"/><circle cx="285.8" cy="215.3" r="3.3"/><circle cx="285.5" cy="213.2" r="3.3"/><circle cx="285.9" cy="217.2" r="3.3"/><circle cx="286.6" cy="218.0" r="3.3"/><circle cx="286.6" cy="217.5" r="3.3"/><circle cx="287.1" cy="218.2" r="3.3"/><circle cx="287.3" cy="217.5" r="3.3"/><circle cx="288.0" cy="216.9" r="3.3"/><circle cx="288.3" cy="215.2" r="3.3"/><circle cx="288.6" cy="214.9" r="3.3"/><circle cx="288.8" cy="207.0" r="3.3"/><circle cx="289.0" cy="215.3" r="3.3"/><circle cx="289.0" cy="213.5" r="3.3"/><circle cx="289.4" cy="216.2" r="3.3"/><circle cx="289.9" cy="218.0" r="3.3"/><circle cx="290.3" cy="218.4" r="3.3"/><circle cx="290.5" cy="216.5" r="3.3"/><circle cx="291.1" cy="217.6" r="3.3"/><circle cx="291.3" cy="217.1" r="3.3"/><circle cx="291.7" cy="216.5" r="3.3"/><circle cx="291.6" cy="212.1" r="3.3"/><circle cx="292.1" cy="215.0" r="3.3"/><circle cx="292.2" cy="205.6" r="3.3"/><circle cx="292.6" cy="215.4" r="3.3"/><circle cx="292.4" cy="195.6" r="3.3"/><circle cx="292.8" cy="216.7" r="3.3"/><circle cx="292.9" cy="202.0" r="3.3"/><circle cx="293.1" cy="214.7" r="3.3"/><circle cx="293.3" cy="211.2" r="3.3"/><circle cx="293.4" cy="216.3" r="3.3"/><circle cx="293.8" cy="217.0" r="3.3"/><circle cx="294.4" cy="216.6" r="3.3"/><circle cx="294.8" cy="216.7" r="3.3"/><circle cx="295.0" cy="216.0" r="3.3"/><circle cx="295.0" cy="210.8" r="3.3"/><circle cx="295.5" cy="215.6" r="3.3"/><circle cx="295.9" cy="214.7" r="3.3"/><circle cx="296.0" cy="209.0" r="3.3"/><circle cx="296.1" cy="216.5" r="3.3"/><circle cx="296.3" cy="212.7" r="3.3"/><circle cx="296.4" cy="217.3" r="3.3"/><circle cx="296.9" cy="216.8" r="3.3"/><circle cx="297.2" cy="218.2" r="3.3"/><circle cx="297.4" cy="217.5" r="3.3"/><circle cx="297.8" cy="216.5" r="3.3"/><circle cx="298.4" cy="216.8" r="3.3"/><circle cx="298.7" cy="215.4" r="3.3"/><circle cx="298.6" cy="209.8" r="3.3"/><circle cx="299.0" cy="215.4" r="3.3"/><circle cx="299.2" cy="207.6" r="3.3"/><circle cx="299.3" cy="215.5" r="3.3"/><circle cx="300.1" cy="217.8" r="3.3"/><circle cx="300.1" cy="217.6" r="3.3"/><circle cx="300.6" cy="218.4" r="3.3"/><circle cx="301.0" cy="218.3" r="3.3"/><circle cx="301.6" cy="217.1" r="3.3"/><circle cx="302.1" cy="216.6" r="3.3"/><circle cx="302.3" cy="215.6" r="3.3"/><circle cx="302.6" cy="213.0" r="3.3"/><circle cx="302.7" cy="216.0" r="3.3"/><circle cx="302.9" cy="209.0" r="3.3"/><circle cx="303.4" cy="215.9" r="3.3"/><circle cx="303.2" cy="209.1" r="3.3"/><circle cx="303.8" cy="215.1" r="3.3"/><circle cx="304.2" cy="216.7" r="3.3"/><circle cx="304.5" cy="217.9" r="3.3"/><circle cx="305.0" cy="216.9" r="3.3"/><circle cx="305.4" cy="216.3" r="3.3"/><circle cx="305.6" cy="215.8" r="3.3"/><circle cx="305.9" cy="210.0" r="3.3"/><circle cx="306.1" cy="215.1" r="3.3"/><circle cx="306.2" cy="209.6" r="3.3"/><circle cx="306.5" cy="215.3" r="3.3"/><circle cx="306.6" cy="213.2" r="3.3"/><circle cx="307.1" cy="216.0" r="3.3"/><circle cx="307.2" cy="217.4" r="3.3"/><circle cx="307.8" cy="217.2" r="3.3"/><circle cx="308.2" cy="217.2" r="3.3"/><circle cx="308.4" cy="215.6" r="3.3"/><circle cx="308.9" cy="215.7" r="3.3"/><circle cx="308.9" cy="211.6" r="3.3"/><circle cx="309.1" cy="216.4" r="3.3"/><circle cx="309.0" cy="207.8" r="3.3"/><circle cx="309.4" cy="216.3" r="3.3"/><circle cx="309.5" cy="210.2" r="3.3"/><circle cx="309.8" cy="216.6" r="3.3"/><circle cx="310.4" cy="217.5" r="3.3"/><circle cx="310.8" cy="216.8" r="3.3"/><circle cx="311.0" cy="217.2" r="3.3"/><circle cx="311.7" cy="216.7" r="3.3"/><circle cx="311.8" cy="217.7" r="3.3"/><circle cx="312.3" cy="216.0" r="3.3"/><circle cx="312.9" cy="216.3" r="3.3"/><circle cx="313.1" cy="208.6" r="3.3"/><circle cx="313.5" cy="215.5" r="3.3"/><circle cx="313.8" cy="215.5" r="3.3"/><circle cx="313.9" cy="217.2" r="3.3"/><circle cx="314.6" cy="217.3" r="3.3"/><circle cx="315.1" cy="217.6" r="3.3"/><circle cx="315.2" cy="217.8" r="3.3"/><circle cx="315.6" cy="217.1" r="3.3"/><circle cx="316.2" cy="216.7" r="3.3"/><circle cx="316.5" cy="215.6" r="3.3"/><circle cx="316.7" cy="212.0" r="3.3"/><circle cx="316.9" cy="215.9" r="3.3"/><circle cx="317.0" cy="208.2" r="3.3"/><circle cx="317.2" cy="215.7" r="3.3"/><circle cx="317.9" cy="216.4" r="3.3"/><circle cx="318.2" cy="218.0" r="3.3"/><circle cx="318.4" cy="218.0" r="3.3"/><circle cx="319.2" cy="217.6" r="3.3"/><circle cx="319.4" cy="217.6" r="3.3"/><circle cx="320.0" cy="217.4" r="3.3"/><circle cx="320.4" cy="214.9" r="3.3"/><circle cx="320.6" cy="215.8" r="3.3"/><circle cx="320.6" cy="209.9" r="3.3"/><circle cx="321.2" cy="215.1" r="3.3"/><circle cx="321.0" cy="206.1" r="3.3"/><circle cx="321.2" cy="216.4" r="3.3"/><circle cx="321.8" cy="215.2" r="3.3"/><circle cx="321.6" cy="213.5" r="3.3"/><circle cx="321.9" cy="216.9" r="3.3"/><circle cx="322.7" cy="217.2" r="3.3"/><circle cx="323.1" cy="216.8" r="3.3"/><circle cx="323.5" cy="214.9" r="3.3"/><circle cx="323.6" cy="211.6" r="3.3"/><circle cx="323.6" cy="216.1" r="3.3"/><circle cx="324.0" cy="215.7" r="3.3"/><circle cx="324.3" cy="204.4" r="3.3"/><circle cx="324.6" cy="215.7" r="3.3"/><circle cx="324.5" cy="211.0" r="3.3"/><circle cx="325.1" cy="216.3" r="3.3"/><circle cx="324.8" cy="213.3" r="3.3"/><circle cx="325.2" cy="215.4" r="3.3"/><circle cx="325.7" cy="215.7" r="3.3"/><circle cx="325.8" cy="212.0" r="3.3"/><circle cx="326.4" cy="214.9" r="3.3"/><circle cx="326.4" cy="206.4" r="3.3"/><circle cx="326.8" cy="215.7" r="3.3"/><circle cx="326.9" cy="215.9" r="3.3"/><circle cx="327.5" cy="216.3" r="3.3"/><circle cx="327.9" cy="216.4" r="3.3"/><circle cx="328.2" cy="216.8" r="3.3"/><circle cx="328.4" cy="217.2" r="3.3"/><circle cx="329.1" cy="216.7" r="3.3"/><circle cx="329.3" cy="216.6" r="3.3"/><circle cx="329.5" cy="215.3" r="3.3"/><circle cx="329.9" cy="216.7" r="3.3"/><circle cx="329.8" cy="204.5" r="3.3"/><circle cx="330.5" cy="215.2" r="3.3"/><circle cx="330.6" cy="216.6" r="3.3"/><circle cx="330.9" cy="215.6" r="3.3"/><circle cx="331.4" cy="216.5" r="3.3"/><circle cx="331.9" cy="216.3" r="3.3"/><circle cx="332.6" cy="216.5" r="3.3"/><circle cx="332.5" cy="212.3" r="3.3"/><circle cx="332.6" cy="216.0" r="3.3"/><circle cx="332.6" cy="208.7" r="3.3"/><circle cx="333.0" cy="215.3" r="3.3"/><circle cx="333.3" cy="215.5" r="3.3"/><circle cx="333.3" cy="204.5" r="3.3"/><circle cx="333.8" cy="215.3" r="3.3"/><circle cx="333.8" cy="212.0" r="3.3"/><circle cx="334.3" cy="217.0" r="3.3"/><circle cx="334.5" cy="215.6" r="3.3"/><circle cx="334.9" cy="215.6" r="3.3"/><circle cx="335.2" cy="216.6" r="3.3"/><circle cx="335.2" cy="212.2" r="3.3"/><circle cx="335.8" cy="214.9" r="3.3"/><circle cx="335.8" cy="205.6" r="3.3"/><circle cx="336.1" cy="215.1" r="3.3"/><circle cx="336.4" cy="208.1" r="3.3"/><circle cx="336.5" cy="215.1" r="3.3"/><circle cx="336.6" cy="212.3" r="3.3"/><circle cx="336.8" cy="217.7" r="3.3"/><circle cx="31.6" cy="177.5" r="3.3"/><circle cx="30.9" cy="185.2" r="3.3"/><circle cx="49.5" cy="110.8" r="3.3"/><circle cx="49.7" cy="115.0" r="3.3"/><circle cx="49.3" cy="127.6" r="3.3"/><circle cx="49.2" cy="140.2" r="3.3"/><circle cx="49.5" cy="151.2" r="3.3"/><circle cx="49.7" cy="159.1" r="3.3"/><circle cx="49.5" cy="168.1" r="3.3"/><circle cx="49.2" cy="184.0" r="3.3"/><circle cx="58.9" cy="192.0" r="3.3"/><circle cx="58.6" cy="196.1" r="3.3"/><circle cx="68.0" cy="188.6" r="3.3"/><circle cx="67.9" cy="193.0" r="3.3"/><circle cx="67.5" cy="198.1" r="3.3"/><circle cx="80.2" cy="183.0" r="3.3"/><circle cx="80.2" cy="187.6" r="3.3"/><circle cx="80.3" cy="192.0" r="3.3"/><circle cx="80.7" cy="199.3" r="3.3"/><circle cx="82.6" cy="197.0" r="3.3"/><circle cx="88.8" cy="190.0" r="3.3"/><circle cx="88.8" cy="193.3" r="3.3"/><circle cx="88.3" cy="198.4" r="3.3"/><circle cx="88.3" cy="204.7" r="3.3"/><circle cx="98.4" cy="46.9" r="3.3"/><circle cx="98.1" cy="65.5" r="3.3"/><circle cx="98.6" cy="83.3" r="3.3"/><circle cx="98.3" cy="89.6" r="3.3"/><circle cx="98.3" cy="108.4" r="3.3"/><circle cx="98.3" cy="114.4" r="3.3"/><circle cx="98.0" cy="131.9" r="3.3"/><circle cx="98.1" cy="148.5" r="3.3"/><circle cx="98.7" cy="164.2" r="3.3"/><circle cx="98.8" cy="171.7" r="3.3"/><circle cx="98.7" cy="180.5" r="3.3"/><circle cx="98.3" cy="190.7" r="3.3"/><circle cx="102.7" cy="133.0" r="3.3"/><circle cx="102.5" cy="135.5" r="3.3"/><circle cx="102.6" cy="144.0" r="3.3"/><circle cx="102.3" cy="158.7" r="3.3"/><circle cx="102.8" cy="169.7" r="3.3"/><circle cx="102.7" cy="182.4" r="3.3"/><circle cx="102.5" cy="198.6" r="3.3"/><circle cx="102.7" cy="204.0" r="3.3"/><circle cx="106.1" cy="190.0" r="3.3"/><circle cx="106.2" cy="194.3" r="3.3"/><circle cx="106.4" cy="202.4" r="3.3"/><circle cx="106.3" cy="206.3" r="3.3"/><circle cx="112.3" cy="92.0" r="3.3"/><circle cx="112.6" cy="110.1" r="3.3"/><circle cx="112.7" cy="123.2" r="3.3"/><circle cx="112.9" cy="130.1" r="3.3"/><circle cx="111.9" cy="138.8" r="3.3"/><circle cx="112.3" cy="150.6" r="3.3"/><circle cx="112.6" cy="167.3" r="3.3"/><circle cx="112.4" cy="173.9" r="3.3"/><circle cx="112.5" cy="188.6" r="3.3"/><circle cx="112.5" cy="196.9" r="3.3"/><circle cx="112.3" cy="203.7" r="3.3"/><circle cx="114.4" cy="120.0" r="3.3"/><circle cx="114.0" cy="123.1" r="3.3"/><circle cx="114.3" cy="131.7" r="3.3"/><circle cx="114.0" cy="143.5" r="3.3"/><circle cx="114.3" cy="148.5" r="3.3"/><circle cx="113.9" cy="160.3" r="3.3"/><circle cx="113.9" cy="170.0" r="3.3"/><circle cx="114.0" cy="175.8" r="3.3"/><circle cx="114.0" cy="190.9" r="3.3"/><circle cx="118.8" cy="8.0" r="3.3"/><circle cx="119.2" cy="16.0" r="3.3"/><circle cx="118.4" cy="24.0" r="3.3"/><circle cx="118.6" cy="32.3" r="3.3"/><circle cx="118.8" cy="50.0" r="3.3"/><circle cx="118.5" cy="61.6" r="3.3"/><circle cx="119.1" cy="68.1" r="3.3"/><circle cx="118.4" cy="76.6" r="3.3"/><circle cx="119.0" cy="90.3" r="3.3"/><circle cx="118.8" cy="99.2" r="3.3"/><circle cx="118.4" cy="115.4" r="3.3"/><circle cx="118.6" cy="130.3" r="3.3"/><circle cx="118.8" cy="141.4" r="3.3"/><circle cx="119.2" cy="153.3" r="3.3"/><circle cx="118.3" cy="159.5" r="3.3"/><circle cx="118.9" cy="166.3" r="3.3"/><circle cx="118.7" cy="174.9" r="3.3"/><circle cx="118.9" cy="187.7" r="3.3"/><circle cx="118.4" cy="197.2" r="3.3"/><circle cx="125.9" cy="109.6" r="3.3"/><circle cx="125.9" cy="113.0" r="3.3"/><circle cx="125.9" cy="121.0" r="3.3"/><circle cx="126.1" cy="128.8" r="3.3"/><circle cx="125.4" cy="144.9" r="3.3"/><circle cx="125.5" cy="163.4" r="3.3"/><circle cx="125.6" cy="169.2" r="3.3"/><circle cx="125.4" cy="185.3" r="3.3"/><circle cx="125.7" cy="203.7" r="3.3"/><circle cx="131.5" cy="115.0" r="3.3"/><circle cx="131.4" cy="118.9" r="3.3"/><circle cx="131.3" cy="127.8" r="3.3"/><circle cx="131.3" cy="136.2" r="3.3"/><circle cx="131.4" cy="153.0" r="3.3"/><circle cx="131.8" cy="170.1" r="3.3"/><circle cx="132.0" cy="181.3" r="3.3"/><circle cx="131.4" cy="188.6" r="3.3"/><circle cx="131.0" cy="199.7" r="3.3"/><circle cx="132.0" cy="205.3" r="3.3"/><circle cx="137.5" cy="110.4" r="3.3"/><circle cx="137.2" cy="130.2" r="3.3"/><circle cx="136.8" cy="143.6" r="3.3"/><circle cx="136.9" cy="152.5" r="3.3"/><circle cx="137.7" cy="164.7" r="3.3"/><circle cx="137.2" cy="174.3" r="3.3"/><circle cx="137.4" cy="190.5" r="3.3"/><circle cx="137.2" cy="202.7" r="3.3"/><circle cx="141.4" cy="185.0" r="3.3"/><circle cx="141.3" cy="189.2" r="3.3"/><circle cx="142.0" cy="193.0" r="3.3"/><circle cx="141.6" cy="197.0" r="3.3"/><circle cx="141.1" cy="204.5" r="3.3"/><circle cx="145.6" cy="200.0" r="3.3"/><circle cx="145.5" cy="206.7" r="3.3"/><circle cx="145.6" cy="210.3" r="3.3"/><circle cx="150.9" cy="183.5" r="3.3"/><circle cx="150.7" cy="189.9" r="3.3"/><circle cx="150.6" cy="195.1" r="3.3"/><circle cx="151.0" cy="202.8" r="3.3"/><circle cx="155.0" cy="205.0" r="3.3"/><circle cx="155.2" cy="208.9" r="3.3"/><circle cx="159.3" cy="196.0" r="3.3"/><circle cx="159.6" cy="199.0" r="3.3"/><circle cx="159.7" cy="207.4" r="3.3"/><circle cx="163.3" cy="137.7" r="3.3"/><circle cx="163.4" cy="142.2" r="3.3"/><circle cx="162.9" cy="152.6" r="3.3"/><circle cx="163.3" cy="163.4" r="3.3"/><circle cx="163.1" cy="178.6" r="3.3"/><circle cx="162.6" cy="185.0" r="3.3"/><circle cx="163.3" cy="200.5" r="3.3"/><circle cx="163.5" cy="209.6" r="3.3"/><circle cx="167.4" cy="192.0" r="3.3"/><circle cx="167.5" cy="195.7" r="3.3"/><circle cx="167.6" cy="200.7" r="3.3"/><circle cx="167.1" cy="207.4" r="3.3"/><circle cx="170.1" cy="178.0" r="3.3"/><circle cx="170.1" cy="182.6" r="3.3"/><circle cx="170.5" cy="189.8" r="3.3"/><circle cx="170.5" cy="197.2" r="3.3"/><circle cx="169.9" cy="204.1" r="3.3"/><circle cx="170.6" cy="208.8" r="3.3"/><circle cx="173.6" cy="204.0" r="3.3"/><circle cx="176.6" cy="205.0" r="3.3"/><circle cx="177.0" cy="209.2" r="3.3"/><circle cx="182.0" cy="199.6" r="3.3"/><circle cx="181.7" cy="203.6" r="3.3"/><circle cx="182.1" cy="207.3" r="3.3"/><circle cx="185.5" cy="205.0" r="3.3"/><circle cx="185.2" cy="209.5" r="3.3"/><circle cx="189.7" cy="182.0" r="3.3"/><circle cx="189.6" cy="186.9" r="3.3"/><circle cx="189.6" cy="195.7" r="3.3"/><circle cx="189.6" cy="199.9" r="3.3"/><circle cx="189.3" cy="208.3" r="3.3"/><circle cx="192.3" cy="204.0" r="3.3"/><circle cx="192.5" cy="208.7" r="3.3"/><circle cx="195.7" cy="198.0" r="3.3"/><circle cx="196.1" cy="202.7" r="3.3"/><circle cx="195.9" cy="210.3" r="3.3"/><circle cx="199.4" cy="205.0" r="3.3"/><circle cx="199.5" cy="208.8" r="3.3"/><circle cx="202.8" cy="192.0" r="3.3"/><circle cx="202.9" cy="196.5" r="3.3"/><circle cx="202.5" cy="205.3" r="3.3"/><circle cx="206.2" cy="205.0" r="3.3"/><circle cx="206.1" cy="208.5" r="3.3"/><circle cx="209.6" cy="186.0" r="3.3"/><circle cx="209.5" cy="189.4" r="3.3"/><circle cx="209.5" cy="196.3" r="3.3"/><circle cx="209.3" cy="202.7" r="3.3"/><circle cx="209.7" cy="207.0" r="3.3"/><circle cx="211.5" cy="180.0" r="3.3"/><circle cx="211.8" cy="186.8" r="3.3"/><circle cx="211.4" cy="194.3" r="3.3"/><circle cx="212.0" cy="201.6" r="3.3"/><circle cx="211.9" cy="209.6" r="3.3"/><circle cx="212.9" cy="171.0" r="3.3"/><circle cx="212.7" cy="175.0" r="3.3"/><circle cx="212.5" cy="180.4" r="3.3"/><circle cx="212.7" cy="185.3" r="3.3"/><circle cx="213.1" cy="193.3" r="3.3"/><circle cx="213.3" cy="199.4" r="3.3"/><circle cx="213.0" cy="207.0" r="3.3"/><circle cx="213.1" cy="210.7" r="3.3"/><circle cx="214.9" cy="183.0" r="3.3"/><circle cx="215.0" cy="186.3" r="3.3"/><circle cx="215.2" cy="192.4" r="3.3"/><circle cx="215.2" cy="201.3" r="3.3"/><circle cx="215.3" cy="206.4" r="3.3"/><circle cx="215.3" cy="210.6" r="3.3"/><circle cx="217.3" cy="195.0" r="3.3"/><circle cx="217.2" cy="197.6" r="3.3"/><circle cx="217.0" cy="206.4" r="3.3"/><circle cx="218.0" cy="210.1" r="3.3"/><circle cx="220.5" cy="179.6" r="3.3"/><circle cx="220.3" cy="188.4" r="3.3"/><circle cx="220.4" cy="196.5" r="3.3"/><circle cx="219.9" cy="204.8" r="3.3"/><circle cx="224.6" cy="203.0" r="3.3"/><circle cx="224.3" cy="207.9" r="3.3"/><circle cx="227.5" cy="205.0" r="3.3"/><circle cx="227.7" cy="207.5" r="3.3"/><circle cx="230.6" cy="151.7" r="3.3"/><circle cx="230.7" cy="155.3" r="3.3"/><circle cx="230.3" cy="172.8" r="3.3"/><circle cx="230.1" cy="179.1" r="3.3"/><circle cx="230.6" cy="188.2" r="3.3"/><circle cx="230.1" cy="199.6" r="3.3"/><circle cx="234.7" cy="204.0" r="3.3"/><circle cx="234.1" cy="211.1" r="3.3"/><circle cx="239.8" cy="201.0" r="3.3"/><circle cx="239.8" cy="204.2" r="3.3"/><circle cx="239.8" cy="211.0" r="3.3"/><circle cx="242.9" cy="205.0" r="3.3"/><circle cx="243.2" cy="208.6" r="3.3"/><circle cx="245.8" cy="199.0" r="3.3"/><circle cx="246.0" cy="207.9" r="3.3"/><circle cx="249.2" cy="192.0" r="3.3"/><circle cx="249.4" cy="196.7" r="3.3"/><circle cx="249.2" cy="205.3" r="3.3"/><circle cx="252.0" cy="194.0" r="3.3"/><circle cx="251.5" cy="199.9" r="3.3"/><circle cx="252.4" cy="204.8" r="3.3"/><circle cx="251.6" cy="211.3" r="3.3"/><circle cx="254.8" cy="198.0" r="3.3"/><circle cx="254.6" cy="201.1" r="3.3"/><circle cx="254.5" cy="207.3" r="3.3"/><circle cx="257.3" cy="194.0" r="3.3"/><circle cx="257.4" cy="198.0" r="3.3"/><circle cx="257.5" cy="203.5" r="3.3"/><circle cx="257.4" cy="210.6" r="3.3"/><circle cx="260.4" cy="202.0" r="3.3"/><circle cx="260.4" cy="206.9" r="3.3"/><circle cx="263.4" cy="204.0" r="3.3"/><circle cx="263.6" cy="207.5" r="3.3"/><circle cx="263.2" cy="211.9" r="3.3"/><circle cx="266.5" cy="199.0" r="3.3"/><circle cx="266.2" cy="203.3" r="3.3"/><circle cx="266.2" cy="207.6" r="3.3"/><circle cx="269.2" cy="193.0" r="3.3"/><circle cx="269.3" cy="196.1" r="3.3"/><circle cx="269.4" cy="202.6" r="3.3"/><circle cx="269.0" cy="207.1" r="3.3"/><circle cx="272.7" cy="201.0" r="3.3"/><circle cx="272.1" cy="205.7" r="3.3"/><circle cx="272.7" cy="211.5" r="3.3"/><circle cx="275.2" cy="201.0" r="3.3"/><circle cx="274.9" cy="205.9" r="3.3"/><circle cx="275.4" cy="211.6" r="3.3"/><circle cx="277.5" cy="195.7" r="3.3"/><circle cx="277.5" cy="201.5" r="3.3"/><circle cx="278.0" cy="207.4" r="3.3"/><circle cx="280.8" cy="207.0" r="3.3"/><circle cx="280.8" cy="209.6" r="3.3"/><circle cx="285.0" cy="202.0" r="3.3"/><circle cx="284.9" cy="205.5" r="3.3"/><circle cx="284.7" cy="212.0" r="3.3"/><circle cx="288.5" cy="206.0" r="3.3"/><circle cx="288.4" cy="210.2" r="3.3"/><circle cx="292.6" cy="194.8" r="3.3"/><circle cx="292.8" cy="197.7" r="3.3"/><circle cx="292.5" cy="204.4" r="3.3"/><circle cx="292.1" cy="208.8" r="3.3"/><circle cx="295.6" cy="203.0" r="3.3"/><circle cx="295.4" cy="205.9" r="3.3"/><circle cx="295.3" cy="212.2" r="3.3"/><circle cx="299.0" cy="206.8" r="3.3"/><circle cx="299.3" cy="210.4" r="3.3"/><circle cx="302.9" cy="207.0" r="3.3"/><circle cx="303.0" cy="210.5" r="3.3"/><circle cx="306.0" cy="208.0" r="3.3"/><circle cx="306.3" cy="212.9" r="3.3"/><circle cx="309.1" cy="207.7" r="3.3"/><circle cx="309.4" cy="211.1" r="3.3"/><circle cx="313.0" cy="208.0" r="3.3"/><circle cx="313.2" cy="213.0" r="3.3"/><circle cx="317.1" cy="208.0" r="3.3"/><circle cx="316.8" cy="212.0" r="3.3"/><circle cx="321.0" cy="206.0" r="3.3"/><circle cx="320.9" cy="210.8" r="3.3"/><circle cx="324.2" cy="202.0" r="3.3"/><circle cx="324.0" cy="207.0" r="3.3"/><circle cx="326.8" cy="196.6" r="3.3"/><circle cx="326.5" cy="203.9" r="3.3"/><circle cx="327.1" cy="211.0" r="3.3"/><circle cx="329.8" cy="204.0" r="3.3"/><circle cx="330.1" cy="210.0" r="3.3"/><circle cx="333.3" cy="198.5" r="3.3"/><circle cx="333.0" cy="201.3" r="3.3"/><circle cx="333.0" cy="205.4" r="3.3"/><circle cx="333.3" cy="209.8" r="3.3"/><circle cx="335.9" cy="205.0" r="3.3"/><circle cx="336.0" cy="208.6" r="3.3"/><circle cx="94.7" cy="155.5" r="3.3"/><circle cx="94.8" cy="164.7" r="3.3"/><circle cx="95.1" cy="172.7" r="3.3"/><circle cx="95.0" cy="183.4" r="3.3"/><circle cx="94.8" cy="194.2" r="3.3"/><circle cx="94.8" cy="202.5" r="3.3"/><circle cx="104.5" cy="145.1" r="3.3"/><circle cx="104.5" cy="153.8" r="3.3"/><circle cx="104.6" cy="160.7" r="3.3"/><circle cx="104.4" cy="168.4" r="3.3"/><circle cx="104.4" cy="178.4" r="3.3"/><circle cx="104.5" cy="188.7" r="3.3"/><circle cx="104.5" cy="198.2" r="3.3"/><circle cx="104.1" cy="207.9" r="3.3"/><circle cx="106.0" cy="148.5" r="3.3"/><circle cx="106.0" cy="157.0" r="3.3"/><circle cx="106.2" cy="164.9" r="3.3"/><circle cx="105.9" cy="174.6" r="3.3"/><circle cx="105.8" cy="184.1" r="3.3"/><circle cx="105.9" cy="190.5" r="3.3"/><circle cx="105.9" cy="200.9" r="3.3"/><circle cx="106.2" cy="207.4" r="3.3"/><circle cx="107.7" cy="153.6" r="3.3"/><circle cx="107.7" cy="162.1" r="3.3"/><circle cx="107.2" cy="171.0" r="3.3"/><circle cx="107.3" cy="181.1" r="3.3"/><circle cx="107.6" cy="191.0" r="3.3"/><circle cx="107.7" cy="200.6" r="3.3"/><circle cx="107.3" cy="207.2" r="3.3"/><circle cx="109.1" cy="147.5" r="3.3"/><circle cx="109.4" cy="156.6" r="3.3"/><circle cx="109.0" cy="162.7" r="3.3"/><circle cx="109.1" cy="169.9" r="3.3"/><circle cx="109.1" cy="179.7" r="3.3"/><circle cx="109.2" cy="187.7" r="3.3"/><circle cx="109.5" cy="194.0" r="3.3"/><circle cx="109.2" cy="203.1" r="3.3"/><circle cx="122.5" cy="152.2" r="3.3"/><circle cx="122.1" cy="162.6" r="3.3"/><circle cx="122.7" cy="173.5" r="3.3"/><circle cx="122.6" cy="184.1" r="3.3"/><circle cx="122.1" cy="193.9" r="3.3"/><circle cx="122.7" cy="203.2" r="3.3"/><circle cx="124.2" cy="155.4" r="3.3"/><circle cx="123.9" cy="164.5" r="3.3"/><circle cx="123.8" cy="173.8" r="3.3"/><circle cx="124.2" cy="181.0" r="3.3"/><circle cx="124.0" cy="191.1" r="3.3"/><circle cx="124.2" cy="199.0" r="3.3"/><circle cx="124.2" cy="208.0" r="3.3"/><circle cx="132.6" cy="138.9" r="3.3"/><circle cx="132.3" cy="148.4" r="3.3"/><circle cx="132.4" cy="158.4" r="3.3"/><circle cx="132.2" cy="164.6" r="3.3"/><circle cx="132.6" cy="173.5" r="3.3"/><circle cx="132.2" cy="182.5" r="3.3"/><circle cx="132.6" cy="188.6" r="3.3"/><circle cx="132.3" cy="198.8" r="3.3"/><circle cx="132.7" cy="205.7" r="3.3"/><circle cx="134.5" cy="144.6" r="3.3"/><circle cx="134.2" cy="152.3" r="3.3"/><circle cx="134.2" cy="162.2" r="3.3"/><circle cx="134.6" cy="172.7" r="3.3"/><circle cx="134.6" cy="179.6" r="3.3"/><circle cx="134.3" cy="187.6" r="3.3"/><circle cx="134.1" cy="197.9" r="3.3"/><circle cx="134.0" cy="207.2" r="3.3"/><circle cx="139.6" cy="185.8" r="3.3"/><circle cx="139.6" cy="191.9" r="3.3"/><circle cx="139.7" cy="199.4" r="3.3"/><circle cx="139.4" cy="208.1" r="3.3"/><circle cx="140.7" cy="188.2" r="3.3"/><circle cx="140.7" cy="195.5" r="3.3"/><circle cx="140.9" cy="202.2" r="3.3"/><circle cx="141.2" cy="209.7" r="3.3"/><circle cx="116.0" cy="131.1" r="3.3"/><circle cx="116.3" cy="139.9" r="3.3"/><circle cx="116.1" cy="147.4" r="3.3"/><circle cx="116.0" cy="156.5" r="3.3"/><circle cx="116.1" cy="163.4" r="3.3"/><circle cx="116.1" cy="171.1" r="3.3"/><circle cx="116.3" cy="177.8" r="3.3"/><circle cx="115.9" cy="186.9" r="3.3"/><circle cx="115.8" cy="193.1" r="3.3"/><circle cx="115.9" cy="199.2" r="3.3"/><circle cx="115.9" cy="207.0" r="3.3"/><circle cx="117.1" cy="132.7" r="3.3"/><circle cx="117.5" cy="142.4" r="3.3"/><circle cx="117.0" cy="150.7" r="3.3"/><circle cx="117.1" cy="161.2" r="3.3"/><circle cx="117.6" cy="168.0" r="3.3"/><circle cx="117.2" cy="178.9" r="3.3"/><circle cx="117.2" cy="186.4" r="3.3"/><circle cx="117.0" cy="193.3" r="3.3"/><circle cx="117.6" cy="201.4" r="3.3"/></g>
<g fill="#f00"><polygon points="165.04,213.2 165.12,213.3 165.20,213.3 165.28,213.4 165.36,213.5 165.44,213.5 165.52,213.5 165.60,213.6 165.68,213.6 165.76,213.5 165.84,213.5 165.92,213.5 166.00,213.4 166.08,213.3 166.16,213.2 166.24,213.1 166.32,212.9 166.40,212.7 166.48,212.4 166.56,212.0 166.64,211.4 166.72,210.7 166.80,209.8 166.88,208.5 166.96,206.7 167.04,204.3 167.12,201.3 167.20,200.1 167.28,200.0 167.36,200.1 167.44,200.1 167.52,202.8 167.60,205.5 167.68,207.6 167.76,209.2 167.84,210.3 167.92,211.1 168.00,211.7 168.08,212.1 168.16,212.5 168.24,212.7 168.32,212.9 168.40,213.0 168.48,213.1 168.56,213.2 168.64,213.2 168.72,213.2 168.80,213.2 168.88,213.1 168.96,213.0 169.04,212.8 169.12,212.6 169.20,212.4 169.28,212.0 169.36,211.6 169.44,211.0 169.52,210.3 169.60,209.3 169.68,207.9 169.76,206.1 169.84,203.5 169.92,200.1 170.00,195.8 170.08,192.0 170.16,192.0 170.24,192.0 170.32,192.0 170.40,195.8 170.48,200.2 170.56,203.6 170.64,206.2 170.72,208.1 170.80,209.5 170.88,210.5 170.96,211.3 171.04,211.9 171.12,212.3 171.20,212.7 171.28,213.0 171.36,213.3 171.44,213.5 171.52,213.6 171.60,213.8 171.68,213.9 171.76,214.0 171.84,214.0 171.92,214.1 172.00,214.1 172.08,214.2 172.16,214.2 172.24,214.2 172.32,214.2 172.40,214.2 172.48,214.2 172.56,214.1 172.64,214.0 172.72,213.9 172.80,213.7 172.88,213.5 172.96,213.2 173.04,212.8 173.12,212.2 173.20,211.4 173.28,210.4 173.36,209.6 173.44,209.6 173.52,209.6 173.60,209.6 173.68,209.9 173.76,211.0 173.84,212.0 173.92,212.7 174.00,213.2 174.08,213.5 174.16,213.8 174.24,214.0 174.32,214.2 174.40,214.3 174.48,214.4 174.56,214.5 174.64,214.6 174.72,214.6 174.80,214.6 174.88,214.7 174.96,214.7 175.04,214.7 175.12,214.7 175.20,214.7 175.28,214.7 175.36,214.6 175.44,214.6 175.52,214.5 175.60,214.5 175.68,214.4 175.76,214.2 175.84,214.1 175.92,213.8 176.00,213.5 176.08,213.1 176.16,212.4 176.24,211.6 176.32,210.6 176.40,210.3 176.48,210.3 176.56,210.3 176.64,210.3 176.72,211.2 176.80,212.1 176.88,212.8 176.96,213.4 177.04,213.8 177.12,214.0 177.20,214.3 177.28,214.4 177.36,214.5 177.44,214.6 177.52,214.7 177.60,214.8 177.68,214.8 177.76,214.9 177.84,214.9 177.92,215.0 178.00,215.0 178.08,215.0 178.16,215.0 178.24,215.0 178.32,215.1 178.40,215.1 178.48,215.1 178.56,215.1 178.64,215.1 178.72,215.1 178.80,215.1 178.88,215.1 178.96,215.1 179.04,215.1 179.12,215.1 179.20,215.1 179.28,215.1 179.36,215.1 179.44,215.1 179.52,215.1 179.60,215.1 179.68,215.1 179.76,215.0 179.84,215.0 179.92,215.0 180.00,215.0 180.08,215.0 180.16,214.9 180.24,214.9 180.32,214.9 180.40,214.8 180.48,214.8 180.56,214.7 180.64,214.7 180.72,214.6 180.80,214.5 180.88,214.4 180.96,214.2 181.04,214.1 181.12,213.8 181.20,213.6 181.28,213.2 181.36,212.8 181.44,212.1 181.52,211.3 181.60,210.2 181.68,208.6 181.76,206.6 181.84,204.2 181.92,203.4 182.00,203.4 182.08,203.4 182.16,204.2 182.24,206.6 182.32,208.6 182.40,210.2 182.48,211.3 182.56,212.1 182.64,212.7 182.72,213.2 182.80,213.5 182.88,213.8 182.96,214.0 183.04,214.2 183.12,214.3 183.20,214.4 183.28,214.5 183.36,214.6 183.44,214.7 183.52,214.7 183.60,214.7 183.68,214.8 183.76,214.8 183.84,214.8 183.92,214.8 184.00,214.8 184.08,214.8 184.16,214.8 184.24,214.8 184.32,214.8 184.40,214.7 184.48,214.7 184.56,214.6 184.64,214.5 184.72,214.4 184.80,214.2 184.88,214.0 184.96,213.7 185.04,213.4 185.12,212.8 185.20,212.1 185.28,211.2 185.36,210.4 185.44,210.3 185.52,210.3 185.60,210.4 185.68,210.6 185.76,211.7 185.84,212.5 185.92,213.1 186.00,213.6 186.08,213.9 186.16,214.1 186.24,214.3 186.32,214.4 186.40,214.6 186.48,214.6 186.56,214.7 186.64,214.7 186.72,214.8 186.80,214.8 186.88,214.8 186.96,214.8 187.04,214.8 187.12,214.8 187.20,214.8 187.28,214.8 187.36,214.8 187.44,214.8 187.52,214.7 187.60,214.7 187.68,214.7 187.76,214.6 187.84,214.6 187.92,214.5 188.00,214.4 188.08,214.3 188.16,214.2 188.24,214.1 188.32,213.9 188.40,213.8 188.48,213.5 188.56,213.3 188.64,212.9 188.72,212.5 188.80,212.0 188.88,211.3 188.96,210.5 189.04,209.3 189.12,207.7 189.20,205.5 189.28,202.6 189.36,198.7 189.44,194.1 189.52,192.4 189.60,192.4 189.68,192.4 189.76,194.1 189.84,198.7 189.92,202.6 190.00,205.5 190.08,207.7 190.16,209.2 190.24,210.4 190.32,211.3 190.40,211.9 190.48,212.5 190.56,212.9 190.64,213.2 190.72,213.4 190.80,213.6 190.88,213.8 190.96,213.9 191.04,214.0 191.12,214.1 191.20,214.2 191.28,214.2 191.36,214.2 191.44,214.2 191.52,214.2 191.60,214.1 191.68,214.1 191.76,213.9 191.84,213.7 191.92,213.5 192.00,213.1 192.08,212.6 192.16,211.9 192.24,211.0 192.32,209.9 192.40,209.7 192.48,209.7 192.56,209.7 192.64,209.7 192.72,210.5 192.80,211.6 192.88,212.4 192.96,213.0 193.04,213.5 193.12,213.8 193.20,214.1 193.28,214.2 193.36,214.4 193.44,214.5 193.52,214.6 193.60,214.6 193.68,214.7 193.76,214.7 193.84,214.7 193.92,214.8 194.00,214.8 194.08,214.8 194.16,214.7 194.24,214.7 194.32,214.7 194.40,214.6 194.48,214.6 194.56,214.5 194.64,214.4 194.72,214.3 194.80,214.2 194.88,214.0 194.96,213.7 195.04,213.4 195.12,213.0 195.20,212.5 195.28,211.8 195.36,210.9 195.44,209.6 195.52,207.8 195.60,205.6 195.68,203.7 195.76,203.7 195.84,203.7 195.92,203.7 196.00,205.6 196.08,207.8 196.16,209.6 196.24,210.9 196.32,211.9 196.40,212.6 196.48,213.1 196.56,213.5 196.64,213.8 196.72,214.0 196.80,214.2 196.88,214.4 196.96,214.5 197.04,214.6 197.12,214.7 197.20,214.7 197.28,214.8 197.36,214.9 197.44,214.9 197.52,214.9 197.60,214.9 197.68,215.0 197.76,215.0 197.84,215.0 197.92,215.0 198.00,215.0 198.08,215.0 198.16,214.9 198.24,214.9 198.32,214.9 198.40,214.8 198.48,214.8 198.56,214.7 198.64,214.6 198.72,214.5 198.80,214.3 198.88,214.1 198.96,213.8 199.04,213.4 199.12,212.9 199.20,212.2 199.28,211.2 199.36,210.4 199.44,210.4 199.52,210.4 199.60,210.4 199.68,210.7 199.76,211.7 199.84,212.5 199.92,213.2 200.00,213.6 200.08,213.9 200.16,214.2 200.24,214.4 200.32,214.5 200.40,214.6 200.48,214.7 200.56,214.7 200.64,214.8 200.72,214.8 200.80,214.8 200.88,214.8 200.96,214.8 201.04,214.8 201.12,214.8 201.20,214.7 201.28,214.7 201.36,214.6 201.44,214.6 201.52,214.5 201.60,214.4 201.68,214.2 201.76,214.1 201.84,213.9 201.92,213.6 202.00,213.3 202.08,212.9 202.16,212.4 202.24,211.7 202.32,210.7 202.40,209.4 202.48,207.6 202.56,205.3 202.64,202.5 202.72,201.8 202.80,201.7 202.88,201.8 202.96,202.5 203.04,205.3 203.12,207.6 203.20,209.4 203.28,210.7 203.36,211.6 203.44,212.3 203.52,212.9 203.60,213.3 203.68,213.6 203.76,213.8 203.84,214.0 203.92,214.1 204.00,214.3 204.08,214.4 204.16,214.4 204.24,214.5 204.32,214.5 204.40,214.6 204.48,214.6 204.56,214.6 204.64,214.6 204.72,214.6 204.80,214.6 204.88,214.6 204.96,214.5 205.04,214.5 205.12,214.4 205.20,214.3 205.28,214.1 205.36,213.9 205.44,213.7 205.52,213.3 205.60,212.9 205.68,212.2 205.76,211.4 205.84,210.8 205.92,210.7 206.00,210.7 206.08,210.7 206.16,210.8 206.24,211.3 206.32,212.1 206.40,212.8 206.48,213.2 206.56,213.5 206.64,213.8 206.72,213.9 206.80,214.1 206.88,214.1 206.96,214.2 207.04,214.2 207.12,214.3 207.20,214.3 207.28,214.3 207.36,214.2 207.44,214.2 207.52,214.2 207.60,214.1 207.68,214.1 207.76,214.0 207.84,213.9 207.92,213.8 208.00,213.7 208.08,213.6 208.16,213.5 208.24,213.3 208.32,213.1 208.40,212.8 208.48,212.6 208.56,212.2 208.64,211.8 208.72,211.3 208.80,210.7 208.88,209.9 208.96,209.0 209.04,207.7 209.12,206.1 209.20,203.9 209.28,201.2 209.36,197.9 209.44,195.7 209.52,195.6 209.60,195.6 209.68,195.6 209.76,195.7 209.84,197.2 209.92,200.3 210.00,202.8 210.08,204.6 210.16,206.0 210.24,206.9 210.32,207.5 210.40,207.9 210.48,208.0 210.56,208.0 210.64,207.7 210.72,207.2 210.80,206.5 210.88,205.5 210.96,204.2 211.04,202.3 211.12,199.9 211.20,196.7 211.28,194.4 211.36,194.3 211.44,194.2 211.52,194.2 211.60,193.8 211.68,192.9 211.76,192.4 211.84,195.0 211.92,196.8 212.00,197.9 212.08,198.2 212.16,197.9 212.24,196.9 212.32,195.4 212.40,193.4 212.48,190.7 212.56,187.5 212.64,185.6 212.72,185.4 212.80,185.2 212.88,185.2 212.96,185.2 213.04,185.3 213.12,185.5 213.20,186.8 213.28,190.5 213.36,193.8 213.44,196.6 213.52,199.0 213.60,200.9 213.68,202.5 213.76,203.7 213.84,204.7 213.92,205.4 214.00,205.9 214.08,206.1 214.16,206.2 214.24,206.1 214.32,205.6 214.40,204.9 214.48,203.8 214.56,202.2 214.64,200.0 214.72,197.1 214.80,194.9 214.88,194.8 214.96,194.8 215.04,194.8 215.12,194.8 215.20,194.9 215.28,198.0 215.36,201.1 215.44,203.6 215.52,205.5 215.60,206.9 215.68,208.0 215.76,208.9 215.84,209.5 215.92,210.0 216.00,210.3 216.08,210.6 216.16,210.7 216.24,210.8 216.32,210.8 216.40,210.8 216.48,210.6 216.56,210.4 216.64,210.0 216.72,209.6 216.80,209.0 216.88,208.3 216.96,207.4 217.04,206.3 217.12,205.1 217.20,203.8 217.28,203.7 217.36,203.7 217.44,203.6 217.52,203.6 217.60,203.6 217.68,203.7 217.76,203.8 217.84,204.6 217.92,206.1 218.00,207.3 218.08,208.4 218.16,209.3 218.24,210.0 218.32,210.6 218.40,211.1 218.48,211.5 218.56,211.8 218.64,212.0 218.72,212.2 218.80,212.4 218.88,212.5 218.96,212.5 219.04,212.5 219.12,212.5 219.20,212.4 219.28,212.3 219.36,212.1 219.44,211.9 219.52,211.5 219.60,211.0 219.68,210.4 219.76,209.5 219.84,208.4 219.92,206.8 220.00,204.6 220.08,201.5 220.16,197.5 220.24,192.7 220.32,191.7 220.40,191.7 220.48,191.7 220.56,192.9 220.64,197.7 220.72,201.7 220.80,204.8 220.88,207.1 220.96,208.8 221.04,210.0 221.12,210.9 221.20,211.6 221.28,212.2 221.36,212.6 221.44,213.0 221.52,213.3 221.60,213.5 221.68,213.7 221.76,213.9 221.84,214.0 221.92,214.2 222.00,214.3 222.08,214.3 222.16,214.4 222.24,214.5 222.32,214.5 222.40,214.6 222.48,214.6 222.56,214.7 222.64,214.7 222.72,214.7 222.80,214.7 222.88,214.7 222.96,214.7 223.04,214.7 223.12,214.7 223.20,214.7 223.28,214.6 223.36,214.6 223.44,214.5 223.52,214.5 223.60,214.4 223.68,214.2 223.76,214.0 223.84,213.8 223.92,213.5 224.00,213.1 224.08,212.5 224.16,211.6 224.24,210.5 224.32,209.2 224.40,208.9 224.48,208.9 224.56,208.9 224.64,208.9 224.72,209.9 224.80,211.1 224.88,212.1 224.96,212.8 225.04,213.3 225.12,213.7 225.20,214.0 225.28,214.2 225.36,214.4 225.44,214.5 225.52,214.6 225.60,214.6 225.68,214.7 225.76,214.7 225.84,214.8 225.92,214.8 226.00,214.8 226.08,214.8 226.16,214.8 226.24,214.8 226.32,214.7 226.40,214.7 226.48,214.7 226.56,214.6 226.64,214.5 226.72,214.4 226.80,214.2 226.88,214.0 226.96,213.7 227.04,213.3 227.12,212.8 227.20,212.1 227.28,211.2 227.36,210.1 227.44,209.2 227.52,209.0 227.60,209.6 227.68,210.5 227.76,211.5 227.84,212.3 227.92,212.9 228.00,213.3 228.08,213.5 228.16,213.7 228.24,213.9 228.32,213.9 228.40,214.0 228.48,214.0 228.56,214.0 228.64,213.9 228.72,213.9 228.80,213.8 228.88,213.7 228.96,213.5 229.04,213.4 229.12,213.2 229.20,212.9 229.28,212.7 229.36,212.3 229.44,211.9 229.52,211.4 229.60,210.8 229.68,210.0 229.76,209.0 229.84,207.8 229.92,206.2 230.00,204.1 230.08,201.2 230.16,197.3 230.24,192.0 230.32,184.8 230.40,175.7 230.48,167.1 230.56,167.0 230.64,167.0 230.72,167.1 230.80,175.7 230.88,184.8 230.96,192.0 231.04,197.3 231.12,201.2 231.20,204.1 231.28,206.2 231.36,207.9 231.44,209.1 231.52,210.1 231.60,210.9 231.68,211.5 231.76,212.0 231.84,212.4 231.92,212.8 232.00,213.1 232.08,213.3 232.16,213.5 232.24,213.7 232.32,213.9 232.40,214.0 232.48,214.1 232.56,214.2 232.64,214.3 232.72,214.4 232.80,214.4 232.88,214.5 232.96,214.5 233.04,214.6 233.12,214.6 233.20,214.6 233.28,214.6 233.36,214.6 233.44,214.5 233.52,214.5 233.60,214.4 233.68,214.3 233.76,214.2 233.84,214.0 233.92,213.7 234.00,213.3 234.08,212.8 234.16,212.1 234.24,211.1 234.32,209.9 234.40,209.7 234.48,209.7 234.56,209.7 234.64,209.7 234.72,210.6 234.80,211.7 234.88,212.6 234.96,213.2 235.04,213.7 235.12,214.1 235.20,214.3 235.28,214.5 235.36,214.7 235.44,214.8 235.52,214.9 235.60,215.0 235.68,215.0 235.76,215.1 235.84,215.1 235.92,215.2 236.00,215.2 236.08,215.2 236.16,215.3 236.24,215.3 236.32,215.3 236.40,215.3 236.48,215.3 236.56,215.3 236.64,215.3 236.72,215.4 236.80,215.4 236.88,215.4 236.96,215.4 237.04,215.4 237.12,215.3 237.20,215.3 237.28,215.3 237.36,215.3 237.44,215.3 237.52,215.3 237.60,215.3 237.68,215.3 237.76,215.2 237.84,215.2 237.92,215.2 238.00,215.1 238.08,215.1 238.16,215.0 238.24,215.0 238.32,214.9 238.40,214.8 238.48,214.7 238.56,214.6 238.64,214.4 238.72,214.2 238.80,213.9 238.88,213.6 238.96,213.2 239.04,212.7 239.12,211.9 239.20,211.0 239.28,209.8 239.36,208.4 239.44,207.0 239.52,206.9 239.60,206.9 239.68,206.9 239.76,207.0 239.84,208.4 239.92,209.8 240.00,211.0 240.08,211.9 240.16,212.6 240.24,213.1 240.32,213.6 240.40,213.9 240.48,214.1 240.56,214.3 240.64,214.5 240.72,214.6 240.80,214.7 240.88,214.8 240.96,214.8 241.04,214.9 241.12,214.9 241.20,215.0 241.28,215.0 241.36,215.0 241.44,215.0 241.52,215.0 241.60,215.0 241.68,215.0 241.76,214.9 241.84,214.9 241.92,214.8 242.00,214.7 242.08,214.6 242.16,214.5 242.24,214.3 242.32,214.1 242.40,213.8 242.48,213.5 242.56,213.0 242.64,212.3 242.72,211.5 242.80,210.6 242.88,210.5 242.96,210.5 243.04,210.5 243.12,210.5 243.20,210.6 243.28,211.5 243.36,212.3 243.44,212.9 243.52,213.4 243.60,213.7 243.68,214.0 243.76,214.2 243.84,214.4 243.92,214.5 244.00,214.6 244.08,214.6 244.16,214.7 244.24,214.7 244.32,214.7 244.40,214.7 244.48,214.7 244.56,214.6 244.64,214.6 244.72,214.5 244.80,214.4 244.88,214.3 244.96,214.2 245.04,214.0 245.12,213.7 245.20,213.4 245.28,213.1 245.36,212.6 245.44,212.0 245.52,211.1 245.60,210.1 245.68,208.7 245.76,207.0 245.84,205.5 245.92,205.4 246.00,205.4 246.08,205.4 246.16,205.5 246.24,206.9 246.32,208.6 246.40,210.0 246.48,211.0 246.56,211.8 246.64,212.4 246.72,212.9 246.80,213.2 246.88,213.5 246.96,213.7 247.04,213.8 247.12,213.9 247.20,214.0 247.28,214.1 247.36,214.1 247.44,214.1 247.52,214.0 247.60,214.0 247.68,213.9 247.76,213.8 247.84,213.6 247.92,213.4 248.00,213.2 248.08,212.9 248.16,212.5 248.24,212.0 248.32,211.3 248.40,210.4 248.48,209.3 248.56,207.9 248.64,206.0 248.72,203.6 248.80,200.8 248.88,199.6 248.96,199.5 249.04,199.5 249.12,199.6 249.20,200.8 249.28,203.5 249.36,205.9 249.44,207.8 249.52,209.3 249.60,210.4 249.68,211.2 249.76,211.9 249.84,212.4 249.92,212.7 250.00,213.0 250.08,213.3 250.16,213.5 250.24,213.6 250.32,213.7 250.40,213.7 250.48,213.8 250.56,213.8 250.64,213.8 250.72,213.7 250.80,213.6 250.88,213.5 250.96,213.3 251.04,213.1 251.12,212.8 251.20,212.4 251.28,211.9 251.36,211.2 251.44,210.4 251.52,209.3 251.60,207.8 251.68,205.9 251.76,203.5 251.84,201.4 251.92,201.3 252.00,201.3 252.08,201.3 252.16,201.4 252.24,203.5 252.32,205.9 252.40,207.8 252.48,209.3 252.56,210.4 252.64,211.3 252.72,211.9 252.80,212.4 252.88,212.8 252.96,213.1 253.04,213.3 253.12,213.5 253.20,213.6 253.28,213.7 253.36,213.8 253.44,213.8 253.52,213.8 253.60,213.8 253.68,213.7 253.76,213.6 253.84,213.4 253.92,213.2 254.00,212.9 254.08,212.6 254.16,212.1 254.24,211.4 254.32,210.6 254.40,209.5 254.48,208.0 254.56,206.2 254.64,204.8 254.72,204.8 254.80,204.8 254.88,204.8 254.96,204.8 255.04,206.2 255.12,208.0 255.20,209.4 255.28,210.5 255.36,211.4 255.44,212.0 255.52,212.5 255.60,212.9 255.68,213.1 255.76,213.3 255.84,213.5 255.92,213.6 256.00,213.6 256.08,213.6 256.16,213.6 256.24,213.5 256.32,213.4 256.40,213.2 256.48,212.9 256.56,212.6 256.64,212.2 256.72,211.6 256.80,210.9 256.88,209.9 256.96,208.6 257.04,206.9 257.12,204.8 257.20,202.3 257.28,201.3 257.36,201.2 257.44,201.2 257.52,201.3 257.60,202.3 257.68,204.8 257.76,207.0 257.84,208.7 257.92,210.0 258.00,211.0 258.08,211.8 258.16,212.4 258.24,212.9 258.32,213.2 258.40,213.5 258.48,213.7 258.56,213.9 258.64,214.1 258.72,214.2 258.80,214.3 258.88,214.4 258.96,214.4 259.04,214.4 259.12,214.4 259.20,214.4 259.28,214.4 259.36,214.4 259.44,214.3 259.52,214.2 259.60,214.0 259.68,213.9 259.76,213.6 259.84,213.3 259.92,212.9 260.00,212.3 260.08,211.5 260.16,210.6 260.24,209.3 260.32,208.0 260.40,208.0 260.48,208.0 260.56,208.0 260.64,208.0 260.72,208.7 260.80,210.0 260.88,211.1 260.96,212.0 261.04,212.7 261.12,213.2 261.20,213.6 261.28,213.9 261.36,214.1 261.44,214.3 261.52,214.4 261.60,214.6 261.68,214.6 261.76,214.7 261.84,214.8 261.92,214.8 262.00,214.8 262.08,214.8 262.16,214.8 262.24,214.8 262.32,214.7 262.40,214.7 262.48,214.6 262.56,214.5 262.64,214.4 262.72,214.2 262.80,214.0 262.88,213.7 262.96,213.3 263.04,212.7 263.12,212.1 263.20,211.2 263.28,210.1 263.36,209.7 263.44,209.7 263.52,209.7 263.60,209.7 263.68,209.7 263.76,210.7 263.84,211.6 263.92,212.4 264.00,213.0 264.08,213.4 264.16,213.8 264.24,214.0 264.32,214.2 264.40,214.4 264.48,214.5 264.56,214.6 264.64,214.6 264.72,214.7 264.80,214.7 264.88,214.7 264.96,214.7 265.04,214.7 265.12,214.6 265.20,214.6 265.28,214.5 265.36,214.4 265.44,214.2 265.52,214.1 265.60,213.8 265.68,213.6 265.76,213.2 265.84,212.8 265.92,212.2 266.00,211.4 266.08,210.4 266.16,209.1 266.24,207.5 266.32,205.6 266.40,205.5 266.48,205.5 266.56,205.5 266.64,205.5 266.72,206.5 266.80,208.2 266.88,209.7 266.96,210.8 267.04,211.7 267.12,212.3 267.20,212.8 267.28,213.2 267.36,213.5 267.44,213.7 267.52,213.9 267.60,214.0 267.68,214.1 267.76,214.1 267.84,214.1 267.92,214.1 268.00,214.1 268.08,214.0 268.16,213.9 268.24,213.8 268.32,213.6 268.40,213.4 268.48,213.1 268.56,212.7 268.64,212.2 268.72,211.6 268.80,210.8 268.88,209.7 268.96,208.3 269.04,206.5 269.12,204.2 269.20,201.6 269.28,200.3 269.36,200.3 269.44,200.3 269.52,200.3 269.60,201.6 269.68,204.2 269.76,206.5 269.84,208.4 269.92,209.8 270.00,210.8 270.08,211.7 270.16,212.3 270.24,212.8 270.32,213.2 270.40,213.5 270.48,213.7 270.56,213.9 270.64,214.0 270.72,214.2 270.80,214.3 270.88,214.3 270.96,214.4 271.04,214.4 271.12,214.4 271.20,214.4 271.28,214.4 271.36,214.3 271.44,214.2 271.52,214.1 271.60,213.9 271.68,213.7 271.76,213.4 271.84,213.1 271.92,212.6 272.00,212.0 272.08,211.1 272.16,210.1 272.24,208.7 272.32,207.3 272.40,207.2 272.48,207.2 272.56,207.2 272.64,207.3 272.72,207.9 272.80,209.4 272.88,210.6 272.96,211.6 273.04,212.3 273.12,212.8 273.20,213.2 273.28,213.5 273.36,213.8 273.44,213.9 273.52,214.1 273.60,214.1 273.68,214.2 273.76,214.2 273.84,214.2 273.92,214.1 274.00,214.0 274.08,213.9 274.16,213.7 274.24,213.5 274.32,213.1 274.40,212.7 274.48,212.1 274.56,211.3 274.64,210.3 274.72,209.1 274.80,207.6 274.88,207.3 274.96,207.2 275.04,207.2 275.12,207.3 275.20,207.6 275.28,209.0 275.36,210.3 275.44,211.3 275.52,212.1 275.60,212.7 275.68,213.1 275.76,213.4 275.84,213.7 275.92,213.9 276.00,214.0 276.08,214.1 276.16,214.1 276.24,214.1 276.32,214.1 276.40,214.1 276.48,214.0 276.56,213.9 276.64,213.7 276.72,213.5 276.80,213.3 276.88,212.9 276.96,212.5 277.04,211.9 277.12,211.1 277.20,210.1 277.28,208.8 277.36,207.0 277.44,204.9 277.52,202.5 277.60,202.0 277.68,201.9 277.76,201.9 277.84,202.0 277.92,203.7 278.00,206.1 278.08,208.1 278.16,209.6 278.24,210.8 278.32,211.7 278.40,212.4 278.48,212.9 278.56,213.3 278.64,213.7 278.72,214.0 278.80,214.2 278.88,214.4 278.96,214.5 279.04,214.6 279.12,214.7 279.20,214.8 279.28,214.9 279.36,214.9 279.44,215.0 279.52,215.0 279.60,215.0 279.68,215.0 279.76,215.0 279.84,215.0 279.92,214.9 280.00,214.9 280.08,214.8 280.16,214.7 280.24,214.6 280.32,214.4 280.40,214.2 280.48,213.8 280.56,213.4 280.64,212.9 280.72,212.2 280.80,211.4 280.88,211.3 280.96,211.3 281.04,211.3 281.12,211.3 281.20,211.4 281.28,212.2 281.36,212.9 281.44,213.5 281.52,213.9 281.60,214.3 281.68,214.5 281.76,214.7 281.84,214.9 281.92,215.0 282.00,215.1 282.08,215.2 282.16,215.2 282.24,215.3 282.32,215.3 282.40,215.4 282.48,215.4 282.56,215.4 282.64,215.4 282.72,215.4 282.80,215.4 282.88,215.4 282.96,215.4 283.04,215.4 283.12,215.4 283.20,215.4 283.28,215.3 283.36,215.3 283.44,215.3 283.52,215.2 283.60,215.2 283.68,215.1 283.76,215.0 283.84,214.9 283.92,214.8 284.00,214.7 284.08,214.5 284.16,214.2 284.24,213.9 284.32,213.6 284.40,213.1 284.48,212.5 284.56,211.6 284.64,210.6 284.72,209.2 284.80,207.7 284.88,206.9 284.96,206.9 285.04,206.9 285.12,206.9 285.20,207.7 285.28,209.2 285.36,210.6 285.44,211.6 285.52,212.5 285.60,213.1 285.68,213.6 285.76,213.9 285.84,214.2 285.92,214.4 286.00,214.6 286.08,214.8 286.16,214.9 286.24,215.0 286.32,215.1 286.40,215.1 286.48,215.2 286.56,215.2 286.64,215.2 286.72,215.3 286.80,215.3 286.88,215.3 286.96,215.3 287.04,215.3 287.12,215.2 287.20,215.2 287.28,215.2 287.36,215.1 287.44,215.0 287.52,215.0 287.60,214.8 287.68,214.7 287.76,214.5 287.84,214.3 287.92,214.0 288.00,213.5 288.08,213.0 288.16,212.3 288.24,211.4 288.32,210.4 288.40,210.4 288.48,210.4 288.56,210.4 288.64,210.4 288.72,210.9 288.80,211.9 288.88,212.7 288.96,213.3 289.04,213.8 289.12,214.1 289.20,214.4 289.28,214.6 289.36,214.8 289.44,214.9 289.52,215.0 289.60,215.1 289.68,215.1 289.76,215.2 289.84,215.2 289.92,215.2 290.00,215.3 290.08,215.3 290.16,215.3 290.24,215.3 290.32,215.3 290.40,215.2 290.48,215.2 290.56,215.2 290.64,215.2 290.72,215.1 290.80,215.1 290.88,215.0 290.96,214.9 291.04,214.8 291.12,214.7 291.20,214.6 291.28,214.4 291.36,214.2 291.44,214.0 291.52,213.7 291.60,213.4 291.68,213.0 291.76,212.4 291.84,211.7 291.92,210.8 292.00,209.7 292.08,208.1 292.16,206.2 292.24,203.7 292.32,201.0 292.40,200.2 292.48,200.1 292.56,200.1 292.64,200.2 292.72,202.3 292.80,205.0 292.88,207.2 292.96,208.9 293.04,210.2 293.12,211.2 293.20,212.0 293.28,212.6 293.36,213.1 293.44,213.4 293.52,213.7 293.60,214.0 293.68,214.1 293.76,214.3 293.84,214.4 293.92,214.5 294.00,214.5 294.08,214.6 294.16,214.6 294.24,214.6 294.32,214.6 294.40,214.5 294.48,214.4 294.56,214.3 294.64,214.1 294.72,213.9 294.80,213.6 294.88,213.3 294.96,212.8 295.04,212.1 295.12,211.2 295.20,210.1 295.28,208.7 295.36,207.9 295.44,207.9 295.52,207.9 295.60,207.9 295.68,208.1 295.76,209.5 295.84,210.8 295.92,211.8 296.00,212.6 296.08,213.2 296.16,213.7 296.24,214.0 296.32,214.3 296.40,214.5 296.48,214.7 296.56,214.8 296.64,215.0 296.72,215.0 296.80,215.1 296.88,215.2 296.96,215.2 297.04,215.3 297.12,215.3 297.20,215.3 297.28,215.3 297.36,215.3 297.44,215.3 297.52,215.3 297.60,215.3 297.68,215.3 297.76,215.2 297.84,215.2 297.92,215.1 298.00,215.0 298.08,214.9 298.16,214.8 298.24,214.6 298.32,214.4 298.40,214.1 298.48,213.7 298.56,213.2 298.64,212.5 298.72,211.7 298.80,210.7 298.88,210.4 298.96,210.3 299.04,210.3 299.12,210.4 299.20,210.7 299.28,211.7 299.36,212.6 299.44,213.2 299.52,213.8 299.60,214.2 299.68,214.5 299.76,214.7 299.84,214.9 299.92,215.0 300.00,215.1 300.08,215.2 300.16,215.3 300.24,215.4 300.32,215.4 300.40,215.5 300.48,215.5 300.56,215.5 300.64,215.6 300.72,215.6 300.80,215.6 300.88,215.6 300.96,215.6 301.04,215.6 301.12,215.6 301.20,215.6 301.28,215.6 301.36,215.5 301.44,215.5 301.52,215.5 301.60,215.5 301.68,215.4 301.76,215.4 301.84,215.3 301.92,215.2 302.00,215.1 302.08,215.0 302.16,214.8 302.24,214.6 302.32,214.4 302.40,214.1 302.48,213.7 302.56,213.3 302.64,212.7 302.72,212.0 302.80,211.2 302.88,211.2 302.96,211.2 303.04,211.2 303.12,211.2 303.20,211.2 303.28,211.9 303.36,212.6 303.44,213.2 303.52,213.7 303.60,214.1 303.68,214.4 303.76,214.6 303.84,214.8 303.92,214.9 304.00,215.0 304.08,215.1 304.16,215.2 304.24,215.2 304.32,215.3 304.40,215.3 304.48,215.3 304.56,215.3 304.64,215.3 304.72,215.3 304.80,215.3 304.88,215.2 304.96,215.2 305.04,215.1 305.12,215.0 305.20,214.9 305.28,214.7 305.36,214.5 305.44,214.2 305.52,213.9 305.60,213.4 305.68,212.9 305.76,212.3 305.84,212.1 305.92,212.1 306.00,212.0 306.08,212.1 306.16,212.1 306.24,212.3 306.32,212.9 306.40,213.4 306.48,213.9 306.56,214.2 306.64,214.5 306.72,214.7 306.80,214.9 306.88,215.0 306.96,215.1 307.04,215.2 307.12,215.3 307.20,215.3 307.28,215.4 307.36,215.4 307.44,215.4 307.52,215.4 307.60,215.4 307.68,215.4 307.76,215.4 307.84,215.4 307.92,215.3 308.00,215.3 308.08,215.2 308.16,215.1 308.24,215.0 308.32,214.9 308.40,214.7 308.48,214.5 308.56,214.3 308.64,213.9 308.72,213.5 308.80,213.0 308.88,212.3 308.96,211.6 309.04,211.2 309.12,211.2 309.20,211.1 309.28,211.2 309.36,211.2 309.44,211.6 309.52,212.3 309.60,213.0 309.68,213.5 309.76,214.0 309.84,214.3 309.92,214.6 310.00,214.8 310.08,214.9 310.16,215.1 310.24,215.2 310.32,215.3 310.40,215.4 310.48,215.4 310.56,215.5 310.64,215.5 310.72,215.5 310.80,215.6 310.88,215.6 310.96,215.6 311.04,215.6 311.12,215.6 311.20,215.6 311.28,215.6 311.36,215.6 311.44,215.6 311.52,215.6 311.60,215.5 311.68,215.5 311.76,215.5 311.84,215.4 311.92,215.3 312.00,215.3 312.08,215.2 312.16,215.0 312.24,214.9 312.32,214.7 312.40,214.4 312.48,214.1 312.56,213.7 312.64,213.2 312.72,212.6 312.80,212.0 312.88,212.0 312.96,212.0 313.04,212.0 313.12,212.0 313.20,212.0 313.28,212.6 313.36,213.2 313.44,213.7 313.52,214.1 313.60,214.5 313.68,214.7 313.76,214.9 313.84,215.1 313.92,215.2 314.00,215.3 314.08,215.4 314.16,215.4 314.24,215.5 314.32,215.5 314.40,215.6 314.48,215.6 314.56,215.6 314.64,215.7 314.72,215.7 314.80,215.7 314.88,215.7 314.96,215.7 315.04,215.7 315.12,215.7 315.20,215.7 315.28,215.7 315.36,215.7 315.44,215.6 315.52,215.6 315.60,215.6 315.68,215.5 315.76,215.5 315.84,215.4 315.92,215.4 316.00,215.3 316.08,215.2 316.16,215.1 316.24,214.9 316.32,214.7 316.40,214.5 316.48,214.1 316.56,213.7 316.64,213.2 316.72,212.6 316.80,212.0 316.88,212.0 316.96,212.0 317.04,212.0 317.12,212.0 317.20,212.0 317.28,212.6 317.36,213.2 317.44,213.7 317.52,214.1 317.60,214.4 317.68,214.7 317.76,214.9 317.84,215.0 317.92,215.2 318.00,215.3 318.08,215.3 318.16,215.4 318.24,215.4 318.32,215.5 318.40,215.5 318.48,215.5 318.56,215.6 318.64,215.6 318.72,215.6 318.80,215.6 318.88,215.6 318.96,215.6 319.04,215.6 319.12,215.6 319.20,215.6 319.28,215.5 319.36,215.5 319.44,215.5 319.52,215.4 319.60,215.4 319.68,215.3 319.76,215.3 319.84,215.2 319.92,215.1 320.00,215.0 320.08,214.8 320.16,214.6 320.24,214.4 320.32,214.1 320.40,213.8 320.48,213.3 320.56,212.8 320.64,212.1 320.72,211.3 320.80,210.5 320.88,210.4 320.96,210.4 321.04,210.4 321.12,210.4 321.20,210.5 321.28,211.2 321.36,212.0 321.44,212.7 321.52,213.2 321.60,213.6 321.68,214.0 321.76,214.2 321.84,214.4 321.92,214.5 322.00,214.7 322.08,214.7 322.16,214.8 322.24,214.8 322.32,214.8 322.40,214.8 322.48,214.8 322.56,214.8 322.64,214.7 322.72,214.7 322.80,214.6 322.88,214.5 322.96,214.3 323.04,214.1 323.12,213.9 323.20,213.6 323.28,213.2 323.36,212.7 323.44,212.1 323.52,211.3 323.60,210.4 323.68,209.2 323.76,207.9 323.84,207.3 323.92,207.2 324.00,207.2 324.08,207.2 324.16,207.3 324.24,207.8 324.32,209.1 324.40,210.2 324.48,211.1 324.56,211.9 324.64,212.4 324.72,212.9 324.80,213.2 324.88,213.4 324.96,213.6 325.04,213.8 325.12,213.8 325.20,213.9 325.28,213.9 325.36,213.8 325.44,213.7 325.52,213.6 325.60,213.5 325.68,213.2 325.76,212.9 325.84,212.6 325.92,212.1 326.00,211.5 326.08,210.7 326.16,209.7 326.24,208.5 326.32,206.9 326.40,205.0 326.48,202.9 326.56,202.1 326.64,202.0 326.72,202.0 326.80,202.0 326.88,202.1 326.96,204.0 327.04,206.0 327.12,207.8 327.20,209.2 327.28,210.4 327.36,211.3 327.44,212.0 327.52,212.5 327.60,213.0 327.68,213.3 327.76,213.6 327.84,213.9 327.92,214.1 328.00,214.2 328.08,214.3 328.16,214.4 328.24,214.5 328.32,214.6 328.40,214.6 328.48,214.6 328.56,214.6 328.64,214.6 328.72,214.6 328.80,214.5 328.88,214.5 328.96,214.4 329.04,214.2 329.12,214.1 329.20,213.8 329.28,213.5 329.36,213.2 329.44,212.7 329.52,212.1 329.60,211.3 329.68,210.4 329.76,209.3 329.84,208.9 329.92,208.9 330.00,208.9 330.08,208.9 330.16,208.9 330.24,209.3 330.32,210.4 330.40,211.3 330.48,212.1 330.56,212.7 330.64,213.2 330.72,213.6 330.80,213.9 330.88,214.1 330.96,214.3 331.04,214.4 331.12,214.5 331.20,214.6 331.28,214.6 331.36,214.7 331.44,214.7 331.52,214.7 331.60,214.7 331.68,214.6 331.76,214.5 331.84,214.5 331.92,214.4 332.00,214.2 332.08,214.1 332.16,213.8 332.24,213.6 332.32,213.2 332.40,212.8 332.48,212.3 332.56,211.7 332.64,210.8 332.72,209.8 332.80,208.4 332.88,206.8 332.96,204.9 333.04,203.7 333.12,203.7 333.20,203.6 333.28,203.7 333.36,203.7 333.44,204.9 333.52,206.8 333.60,208.4 333.68,209.8 333.76,210.8 333.84,211.7 333.92,212.3 334.00,212.8 334.08,213.2 334.16,213.6 334.24,213.8 334.32,214.0 334.40,214.2 334.48,214.3 334.56,214.4 334.64,214.4 334.72,214.5 334.80,214.5 334.88,214.5 334.96,214.4 335.04,214.3 335.12,214.2 335.20,214.0 335.28,213.8 335.36,213.5 335.44,213.0 335.52,212.5 335.60,211.8 335.68,211.0 335.76,210.0 335.84,209.6 335.92,209.6 336.00,209.6 336.08,209.6 336.16,209.6 336.24,210.1 336.32,211.1 336.40,212.0 336.48,212.7 336.56,213.3 336.64,213.8 336.72,214.1 336.80,214.4 336.88,214.7 336.96,214.9 337.04,215.0 337.12,215.2 337.20,215.3 337.28,215.4 337.36,215.4 337.44,215.5 337.44,217.3 337.36,217.3 337.28,217.3 337.20,217.3 337.12,217.3 337.04,217.3 336.96,217.3 336.88,217.3 336.80,217.3 336.72,217.3 336.64,217.3 336.56,217.3 336.48,217.3 336.40,217.3 336.32,217.3 336.24,217.3 336.16,217.3 336.08,217.3 336.00,217.3 335.92,217.3 335.84,217.3 335.76,217.3 335.68,217.3 335.60,217.3 335.52,217.3 335.44,217.3 335.36,217.3 335.28,217.3 335.20,217.3 335.12,217.3 335.04,217.3 334.96,217.3 334.88,217.3 334.80,217.3 334.72,217.3 334.64,217.3 334.56,217.3 334.48,217.3 334.40,217.3 334.32,217.3 334.24,217.3 334.16,217.3 334.08,217.3 334.00,217.3 333.92,217.3 333.84,217.3 333.76,217.3 333.68,217.3 333.60,217.3 333.52,217.3 333.44,217.3 333.36,217.3 333.28,217.3 333.20,217.3 333.12,217.3 333.04,217.3 332.96,217.3 332.88,217.3 332.80,217.3 332.72,217.3 332.64,217.3 332.56,217.3 332.48,217.3 332.40,217.3 332.32,217.3 332.24,217.3 332.16,217.3 332.08,217.3 332.00,217.3 331.92,217.3 331.84,217.3 331.76,217.3 331.68,217.3 331.60,217.3 331.52,217.3 331.44,217.3 331.36,217.3 331.28,217.3 331.20,217.3 331.12,217.3 331.04,217.3 330.96,217.3 330.88,217.3 330.80,217.3 330.72,217.3 330.64,217.3 330.56,217.3 330.48,217.3 330.40,217.3 330.32,217.3 330.24,217.3 330.16,217.3 330.08,217.3 330.00,217.3 329.92,217.3 329.84,217.3 329.76,217.3 329.68,217.3 329.60,217.3 329.52,217.3 329.44,217.3 329.36,217.3 329.28,217.3 329.20,217.3 329.12,217.3 329.04,217.3 328.96,217.3 328.88,217.3 328.80,217.3 328.72,217.3 328.64,217.3 328.56,217.3 328.48,217.3 328.40,217.3 328.32,217.3 328.24,217.3 328.16,217.3 328.08,217.3 328.00,217.3 327.92,217.3 327.84,217.3 327.76,217.3 327.68,217.3 327.60,217.3 327.52,217.3 327.44,217.3 327.36,217.3 327.28,217.3 327.20,217.3 327.12,217.3 327.04,217.3 326.96,217.3 326.88,217.3 326.80,217.3 326.72,217.3 326.64,217.3 326.56,217.3 326.48,217.3 326.40,217.3 326.32,217.3 326.24,217.3 326.16,217.3 326.08,217.3 326.00,217.3 325.92,217.3 325.84,217.3 325.76,217.3 325.68,217.3 325.60,217.3 325.52,217.3 325.44,217.3 325.36,217.3 325.28,217.3 325.20,217.3 325.12,217.3 325.04,217.3 324.96,217.3 324.88,217.3 324.80,217.3 324.72,217.3 324.64,217.3 324.56,217.3 324.48,217.3 324.40,217.3 324.32,217.3 324.24,217.3 324.16,217.3 324.08,217.3 324.00,217.3 323.92,217.3 323.84,217.3 323.76,217.3 323.68,217.3 323.60,217.3 323.52,217.3 323.44,217.3 323.36,217.3 323.28,217.3 323.20,217.3 323.12,217.3 323.04,217.3 322.96,217.3 322.88,217.3 322.80,217.3 322.72,217.3 322.64,217.3 322.56,217.3 322.48,217.3 322.40,217.3 322.32,217.3 322.24,217.3 322.16,217.3 322.08,217.3 322.00,217.3 321.92,217.3 321.84,217.3 321.76,217.3 321.68,217.3 321.60,217.3 321.52,217.3 321.44,217.3 321.36,217.3 321.28,217.3 321.20,217.3 321.12,217.3 321.04,217.3 320.96,217.3 320.88,217.3 320.80,217.3 320.72,217.3 320.64,217.3 320.56,217.3 320.48,217.3 320.40,217.3 320.32,217.3 320.24,217.3 320.16,217.3 320.08,217.3 320.00,217.2 319.92,217.2 319.84,217.2 319.76,217.2 319.68,217.2 319.60,217.2 319.52,217.2 319.44,217.2 319.36,217.2 319.28,217.2 319.20,217.2 319.12,217.2 319.04,217.2 318.96,217.2 318.88,217.2 318.80,217.2 318.72,217.2 318.64,217.2 318.56,217.2 318.48,217.2 318.40,217.2 318.32,217.2 318.24,217.2 318.16,217.2 318.08,217.2 318.00,217.2 317.92,217.2 317.84,217.2 317.76,217.2 317.68,217.2 317.60,217.2 317.52,217.2 317.44,217.2 317.36,217.2 317.28,217.2 317.20,217.2 317.12,217.2 317.04,217.2 316.96,217.2 316.88,217.2 316.80,217.2 316.72,217.2 316.64,217.2 316.56,217.2 316.48,217.2 316.40,217.2 316.32,217.2 316.24,217.2 316.16,217.2 316.08,217.2 316.00,217.2 315.92,217.2 315.84,217.2 315.76,217.2 315.68,217.2 315.60,217.2 315.52,217.2 315.44,217.2 315.36,217.2 315.28,217.2 315.20,217.2 315.12,217.2 315.04,217.2 314.96,217.2 314.88,217.2 314.80,217.2 314.72,217.2 314.64,217.2 314.56,217.2 314.48,217.2 314.40,217.2 314.32,217.2 314.24,217.2 314.16,217.2 314.08,217.2 314.00,217.2 313.92,217.2 313.84,217.2 313.76,217.2 313.68,217.2 313.60,217.2 313.52,217.2 313.44,217.2 313.36,217.2 313.28,217.2 313.20,217.2 313.12,217.2 313.04,217.2 312.96,217.2 312.88,217.2 312.80,217.2 312.72,217.2 312.64,217.2 312.56,217.2 312.48,217.2 312.40,217.2 312.32,217.2 312.24,217.2 312.16,217.2 312.08,217.2 312.00,217.2 311.92,217.2 311.84,217.2 311.76,217.2 311.68,217.2 311.60,217.2 311.52,217.2 311.44,217.2 311.36,217.2 311.28,217.2 311.20,217.2 311.12,217.2 311.04,217.2 310.96,217.2 310.88,217.2 310.80,217.2 310.72,217.2 310.64,217.2 310.56,217.2 310.48,217.2 310.40,217.2 310.32,217.2 310.24,217.2 310.16,217.2 310.08,217.2 310.00,217.2 309.92,217.2 309.84,217.2 309.76,217.2 309.68,217.2 309.60,217.2 309.52,217.2 309.44,217.2 309.36,217.2 309.28,217.2 309.20,217.2 309.12,217.2 309.04,217.2 308.96,217.2 308.88,217.2 308.80,217.2 308.72,217.2 308.64,217.2 308.56,217.2 308.48,217.2 308.40,217.2 308.32,217.2 308.24,217.2 308.16,217.2 308.08,217.2 308.00,217.2 307.92,217.2 307.84,217.2 307.76,217.2 307.68,217.2 307.60,217.2 307.52,217.2 307.44,217.2 307.36,217.2 307.28,217.2 307.20,217.2 307.12,217.2 307.04,217.2 306.96,217.2 306.88,217.2 306.80,217.2 306.72,217.2 306.64,217.2 306.56,217.2 306.48,217.2 306.40,217.2 306.32,217.2 306.24,217.2 306.16,217.2 306.08,217.2 306.00,217.2 305.92,217.2 305.84,217.2 305.76,217.2 305.68,217.2 305.60,217.2 305.52,217.2 305.44,217.2 305.36,217.2 305.28,217.2 305.20,217.2 305.12,217.2 305.04,217.2 304.96,217.2 304.88,217.2 304.80,217.2 304.72,217.2 304.64,217.2 304.56,217.2 304.48,217.2 304.40,217.2 304.32,217.2 304.24,217.2 304.16,217.2 304.08,217.2 304.00,217.2 303.92,217.2 303.84,217.2 303.76,217.2 303.68,217.2 303.60,217.2 303.52,217.2 303.44,217.2 303.36,217.2 303.28,217.2 303.20,217.2 303.12,217.2 303.04,217.2 302.96,217.2 302.88,217.2 302.80,217.2 302.72,217.2 302.64,217.2 302.56,217.2 302.48,217.2 302.40,217.2 302.32,217.2 302.24,217.2 302.16,217.2 302.08,217.2 302.00,217.2 301.92,217.2 301.84,217.2 301.76,217.2 301.68,217.2 301.60,217.2 301.52,217.2 301.44,217.2 301.36,217.2 301.28,217.2 301.20,217.2 301.12,217.2 301.04,217.2 300.96,217.2 300.88,217.2 300.80,217.2 300.72,217.2 300.64,217.2 300.56,217.2 300.48,217.2 300.40,217.2 300.32,217.2 300.24,217.2 300.16,217.2 300.08,217.2 300.00,217.2 299.92,217.2 299.84,217.2 299.76,217.2 299.68,217.2 299.60,217.2 299.52,217.2 299.44,217.2 299.36,217.2 299.28,217.2 299.20,217.2 299.12,217.2 299.04,217.2 298.96,217.2 298.88,217.2 298.80,217.2 298.72,217.2 298.64,217.2 298.56,217.2 298.48,217.2 298.40,217.2 298.32,217.2 298.24,217.2 298.16,217.2 298.08,217.2 298.00,217.2 297.92,217.2 297.84,217.2 297.76,217.2 297.68,217.2 297.60,217.2 297.52,217.2 297.44,217.2 297.36,217.2 297.28,217.2 297.20,217.2 297.12,217.2 297.04,217.2 296.96,217.2 296.88,217.2 296.80,217.2 296.72,217.2 296.64,217.2 296.56,217.2 296.48,217.2 296.40,217.2 296.32,217.2 296.24,217.2 296.16,217.2 296.08,217.2 296.00,217.2 295.92,217.2 295.84,217.2 295.76,217.2 295.68,217.2 295.60,217.2 295.52,217.2 295.44,217.2 295.36,217.2 295.28,217.2 295.20,217.2 295.12,217.2 295.04,217.2 294.96,217.2 294.88,217.2 294.80,217.2 294.72,217.2 294.64,217.2 294.56,217.2 294.48,217.2 294.40,217.2 294.32,217.2 294.24,217.2 294.16,217.2 294.08,217.2 294.00,217.2 293.92,217.2 293.84,217.2 293.76,217.2 293.68,217.2 293.60,217.2 293.52,217.2 293.44,217.2 293.36,217.2 293.28,217.2 293.20,217.2 293.12,217.2 293.04,217.2 292.96,217.2 292.88,217.2 292.80,217.2 292.72,217.2 292.64,217.2 292.56,217.2 292.48,217.2 292.40,217.2 292.32,217.2 292.24,217.2 292.16,217.2 292.08,217.2 292.00,217.2 291.92,217.2 291.84,217.2 291.76,217.2 291.68,217.2 291.60,217.2 291.52,217.2 291.44,217.2 291.36,217.2 291.28,217.2 291.20,217.2 291.12,217.2 291.04,217.2 290.96,217.2 290.88,217.2 290.80,217.2 290.72,217.2 290.64,217.2 290.56,217.2 290.48,217.2 290.40,217.2 290.32,217.2 290.24,217.2 290.16,217.2 290.08,217.2 290.00,217.2 289.92,217.2 289.84,217.2 289.76,217.2 289.68,217.2 289.60,217.2 289.52,217.2 289.44,217.2 289.36,217.2 289.28,217.2 289.20,217.2 289.12,217.2 289.04,217.2 288.96,217.2 288.88,217.2 288.80,217.2 288.72,217.2 288.64,217.2 288.56,217.2 288.48,217.2 288.40,217.2 288.32,217.2 288.24,217.2 288.16,217.2 288.08,217.2 288.00,217.2 287.92,217.2 287.84,217.2 287.76,217.2 287.68,217.2 287.60,217.2 287.52,217.2 287.44,217.1 287.36,217.1 287.28,217.1 287.20,217.1 287.12,217.1 287.04,217.1 286.96,217.1 286.88,217.1 286.80,217.1 286.72,217.1 286.64,217.1 286.56,217.1 286.48,217.1 286.40,217.1 286.32,217.1 286.24,217.1 286.16,217.1 286.08,217.1 286.00,217.1 285.92,217.1 285.84,217.1 285.76,217.1 285.68,217.1 285.60,217.1 285.52,217.1 285.44,217.1 285.36,217.1 285.28,217.1 285.20,217.1 285.12,217.1 285.04,217.1 284.96,217.1 284.88,217.1 284.80,217.1 284.72,217.1 284.64,217.1 284.56,217.1 284.48,217.1 284.40,217.1 284.32,217.1 284.24,217.1 284.16,217.1 284.08,217.1 284.00,217.1 283.92,217.1 283.84,217.1 283.76,217.1 283.68,217.1 283.60,217.1 283.52,217.1 283.44,217.1 283.36,217.1 283.28,217.1 283.20,217.1 283.12,217.1 283.04,217.1 282.96,217.1 282.88,217.1 282.80,217.1 282.72,217.1 282.64,217.1 282.56,217.1 282.48,217.1 282.40,217.1 282.32,217.1 282.24,217.1 282.16,217.1 282.08,217.1 282.00,217.1 281.92,217.1 281.84,217.1 281.76,217.1 281.68,217.1 281.60,217.1 281.52,217.1 281.44,217.1 281.36,217.1 281.28,217.1 281.20,217.1 281.12,217.1 281.04,217.1 280.96,217.1 280.88,217.1 280.80,217.1 280.72,217.1 280.64,217.1 280.56,217.1 280.48,217.1 280.40,217.1 280.32,217.1 280.24,217.1 280.16,217.1 280.08,217.1 280.00,217.1 279.92,217.1 279.84,217.1 279.76,217.1 279.68,217.1 279.60,217.1 279.52,217.1 279.44,217.1 279.36,217.1 279.28,217.1 279.20,217.1 279.12,217.1 279.04,217.1 278.96,217.1 278.88,217.1 278.80,217.1 278.72,217.1 278.64,217.1 278.56,217.1 278.48,217.1 278.40,217.1 278.32,217.1 278.24,217.1 278.16,217.1 278.08,217.1 278.00,217.1 277.92,217.1 277.84,217.1 277.76,217.1 277.68,217.1 277.60,217.1 277.52,217.1 277.44,217.1 277.36,217.1 277.28,217.1 277.20,217.1 277.12,217.1 277.04,217.1 276.96,217.1 276.88,217.1 276.80,217.1 276.72,217.1 276.64,217.1 276.56,217.1 276.48,217.1 276.40,217.1 276.32,217.1 276.24,217.1 276.16,217.1 276.08,217.1 276.00,217.1 275.92,217.1 275.84,217.1 275.76,217.1 275.68,217.1 275.60,217.1 275.52,217.1 275.44,217.1 275.36,217.1 275.28,217.1 275.20,217.1 275.12,217.1 275.04,217.1 274.96,217.1 274.88,217.1 274.80,217.1 274.72,217.1 274.64,217.1 274.56,217.1 274.48,217.1 274.40,217.1 274.32,217.1 274.24,217.1 274.16,217.1 274.08,217.1 274.00,217.1 273.92,217.1 273.84,217.1 273.76,217.1 273.68,217.1 273.60,217.1 273.52,217.1 273.44,217.1 273.36,217.1 273.28,217.1 273.20,217.1 273.12,217.1 273.04,217.1 272.96,217.1 272.88,217.1 272.80,217.1 272.72,217.1 272.64,217.1 272.56,217.1 272.48,217.1 272.40,217.1 272.32,217.1 272.24,217.1 272.16,217.1 272.08,217.1 272.00,217.1 271.92,217.1 271.84,217.1 271.76,217.1 271.68,217.1 271.60,217.1 271.52,217.1 271.44,217.1 271.36,217.1 271.28,217.1 271.20,217.1 271.12,217.1 271.04,217.1 270.96,217.1 270.88,217.1 270.80,217.1 270.72,217.1 270.64,217.1 270.56,217.1 270.48,217.1 270.40,217.1 270.32,217.1 270.24,217.1 270.16,217.1 270.08,217.1 270.00,217.1 269.92,217.1 269.84,217.1 269.76,217.1 269.68,217.1 269.60,217.1 269.52,217.1 269.44,217.1 269.36,217.1 269.28,217.1 269.20,217.1 269.12,217.1 269.04,217.1 268.96,217.1 268.88,217.1 268.80,217.1 268.72,217.1 268.64,217.1 268.56,217.1 268.48,217.1 268.40,217.1 268.32,217.1 268.24,217.1 268.16,217.1 268.08,217.1 268.00,217.1 267.92,217.1 267.84,217.1 267.76,217.1 267.68,217.1 267.60,217.1 267.52,217.1 267.44,217.1 267.36,217.1 267.28,217.1 267.20,217.1 267.12,217.1 267.04,217.1 266.96,217.1 266.88,217.1 266.80,217.1 266.72,217.1 266.64,217.1 266.56,217.1 266.48,217.1 266.40,217.1 266.32,217.1 266.24,217.1 266.16,217.1 266.08,217.1 266.00,217.1 265.92,217.1 265.84,217.1 265.76,217.1 265.68,217.1 265.60,217.1 265.52,217.1 265.44,217.1 265.36,217.1 265.28,217.1 265.20,217.1 265.12,217.1 265.04,217.1 264.96,217.1 264.88,217.1 264.80,217.1 264.72,217.1 264.64,217.1 264.56,217.1 264.48,217.1 264.40,217.1 264.32,217.1 264.24,217.1 264.16,217.1 264.08,217.1 264.00,217.1 263.92,217.1 263.84,217.1 263.76,217.1 263.68,217.1 263.60,217.1 263.52,217.1 263.44,217.1 263.36,217.1 263.28,217.1 263.20,217.1 263.12,217.1 263.04,217.1 262.96,217.1 262.88,217.1 262.80,217.1 262.72,217.1 262.64,217.1 262.56,217.1 262.48,217.0 262.40,217.0 262.32,217.0 262.24,217.0 262.16,217.0 262.08,217.0 262.00,217.0 261.92,217.0 261.84,217.0 261.76,217.0 261.68,217.0 261.60,217.0 261.52,217.0 261.44,217.0 261.36,217.0 261.28,217.0 261.20,217.0 261.12,217.0 261.04,217.0 260.96,217.0 260.88,217.0 260.80,217.0 260.72,217.0 260.64,217.0 260.56,217.0 260.48,217.0 260.40,217.0 260.32,217.0 260.24,217.0 260.16,217.0 260.08,217.0 260.00,217.0 259.92,217.0 259.84,217.0 259.76,217.0 259.68,217.0 259.60,217.0 259.52,217.0 259.44,217.0 259.36,217.0 259.28,217.0 259.20,217.0 259.12,217.0 259.04,217.0 258.96,217.0 258.88,217.0 258.80,217.0 258.72,217.0 258.64,217.0 258.56,217.0 258.48,217.0 258.40,217.0 258.32,217.0 258.24,217.0 258.16,217.0 258.08,217.0 258.00,217.0 257.92,217.0 257.84,217.0 257.76,217.0 257.68,217.0 257.60,217.0 257.52,217.0 257.44,217.0 257.36,217.0 257.28,217.0 257.20,217.0 257.12,217.0 257.04,217.0 256.96,217.0 256.88,217.0 256.80,217.0 256.72,217.0 256.64,217.0 256.56,217.0 256.48,217.0 256.40,217.0 256.32,217.0 256.24,217.0 256.16,217.0 256.08,217.0 256.00,217.0 255.92,217.0 255.84,217.0 255.76,217.0 255.68,217.0 255.60,217.0 255.52,217.0 255.44,217.0 255.36,217.0 255.28,217.0 255.20,217.0 255.12,217.0 255.04,217.0 254.96,217.0 254.88,217.0 254.80,217.0 254.72,217.0 254.64,217.0 254.56,217.0 254.48,217.0 254.40,217.0 254.32,217.0 254.24,217.0 254.16,217.0 254.08,217.0 254.00,217.0 253.92,217.0 253.84,217.0 253.76,217.0 253.68,217.0 253.60,217.0 253.52,217.0 253.44,217.0 253.36,217.0 253.28,217.0 253.20,217.0 253.12,217.0 253.04,217.0 252.96,217.0 252.88,217.0 252.80,217.0 252.72,217.0 252.64,217.0 252.56,217.0 252.48,217.0 252.40,217.0 252.32,217.0 252.24,217.0 252.16,217.0 252.08,217.0 252.00,217.0 251.92,217.0 251.84,217.0 251.76,217.0 251.68,217.0 251.60,217.0 251.52,217.0 251.44,217.0 251.36,217.0 251.28,217.0 251.20,217.0 251.12,217.0 251.04,217.0 250.96,217.0 250.88,217.0 250.80,217.0 250.72,217.0 250.64,217.0 250.56,217.0 250.48,217.0 250.40,217.0 250.32,217.0 250.24,217.0 250.16,217.0 250.08,217.0 250.00,217.0 249.92,217.0 249.84,217.0 249.76,217.0 249.68,217.0 249.60,217.0 249.52,217.0 249.44,217.0 249.36,217.0 249.28,217.0 249.20,217.0 249.12,217.0 249.04,217.0 248.96,217.0 248.88,217.0 248.80,217.0 248.72,217.0 248.64,217.0 248.56,217.0 248.48,217.0 248.40,217.0 248.32,217.0 248.24,217.0 248.16,217.0 248.08,217.0 248.00,217.0 247.92,217.0 247.84,217.0 247.76,217.0 247.68,217.0 247.60,217.0 247.52,217.0 247.44,217.0 247.36,217.0 247.28,217.0 247.20,217.0 247.12,217.0 247.04,217.0 246.96,217.0 246.88,217.0 246.80,217.0 246.72,217.0 246.64,217.0 246.56,217.0 246.48,217.0 246.40,217.0 246.32,217.0 246.24,217.0 246.16,217.0 246.08,217.0 246.00,217.0 245.92,217.0 245.84,217.0 245.76,217.0 245.68,217.0 245.60,217.0 245.52,217.0 245.44,217.0 245.36,217.0 245.28,217.0 245.20,217.0 245.12,217.0 245.04,217.0 244.96,217.0 244.88,217.0 244.80,217.0 244.72,217.0 244.64,217.0 244.56,217.0 244.48,217.0 244.40,217.0 244.32,217.0 244.24,217.0 244.16,217.0 244.08,217.0 244.00,217.0 243.92,217.0 243.84,217.0 243.76,217.0 243.68,217.0 243.60,217.0 243.52,217.0 243.44,217.0 243.36,217.0 243.28,217.0 243.20,217.0 243.12,217.0 243.04,217.0 242.96,217.0 242.88,217.0 242.80,217.0 242.72,217.0 242.64,217.0 242.56,217.0 242.48,217.0 242.40,217.0 242.32,217.0 242.24,217.0 242.16,217.0 242.08,217.0 242.00,217.0 241.92,217.0 241.84,217.0 241.76,217.0 241.68,217.0 241.60,217.0 241.52,217.0 241.44,217.0 241.36,217.0 241.28,217.0 241.20,217.0 241.12,217.0 241.04,217.0 240.96,217.0 240.88,217.0 240.80,217.0 240.72,217.0 240.64,217.0 240.56,217.0 240.48,217.0 240.40,217.0 240.32,217.0 240.24,217.0 240.16,217.0 240.08,217.0 240.00,217.0 239.92,217.0 239.84,217.0 239.76,217.0 239.68,217.0 239.60,217.0 239.52,217.0 239.44,217.0 239.36,217.0 239.28,217.0 239.20,217.0 239.12,217.0 239.04,217.0 238.96,217.0 238.88,217.0 238.80,217.0 238.72,217.0 238.64,217.0 238.56,217.0 238.48,217.0 238.40,217.0 238.32,217.0 238.24,217.0 238.16,217.0 238.08,217.0 238.00,217.0 237.92,217.0 237.84,217.0 237.76,217.0 237.68,217.0 237.60,217.0 237.52,217.0 237.44,216.9 237.36,216.9 237.28,216.9 237.20,216.9 237.12,216.9 237.04,216.9 236.96,216.9 236.88,216.9 236.80,216.9 236.72,216.9 236.64,216.9 236.56,216.9 236.48,216.9 236.40,216.9 236.32,216.9 236.24,216.9 236.16,216.9 236.08,216.9 236.00,216.9 235.92,216.9 235.84,216.9 235.76,216.9 235.68,216.9 235.60,216.9 235.52,216.9 235.44,216.9 235.36,216.9 235.28,216.9 235.20,216.9 235.12,216.9 235.04,216.9 234.96,216.9 234.88,216.9 234.80,216.9 234.72,216.9 234.64,216.9 234.56,216.9 234.48,216.9 234.40,216.9 234.32,216.9 234.24,216.9 234.16,216.9 234.08,216.9 234.00,216.9 233.92,216.9 233.84,216.9 233.76,216.9 233.68,216.9 233.60,216.9 233.52,216.9 233.44,216.9 233.36,216.9 233.28,216.9 233.20,216.9 233.12,216.9 233.04,216.9 232.96,216.9 232.88,216.9 232.80,216.9 232.72,216.9 232.64,216.9 232.56,216.9 232.48,216.9 232.40,216.9 232.32,216.9 232.24,216.9 232.16,216.9 232.08,216.9 232.00,216.9 231.92,216.9 231.84,216.9 231.76,216.9 231.68,216.9 231.60,216.9 231.52,216.9 231.44,216.9 231.36,216.9 231.28,216.9 231.20,216.9 231.12,216.9 231.04,216.9 230.96,216.9 230.88,216.9 230.80,216.9 230.72,216.9 230.64,216.9 230.56,216.9 230.48,216.9 230.40,216.9 230.32,216.9 230.24,216.9 230.16,216.9 230.08,216.9 230.00,216.9 229.92,216.9 229.84,216.9 229.76,216.9 229.68,216.9 229.60,216.9 229.52,216.9 229.44,216.9 229.36,216.9 229.28,216.9 229.20,216.9 229.12,216.9 229.04,216.9 228.96,216.9 228.88,216.9 228.80,216.9 228.72,216.9 228.64,216.9 228.56,216.9 228.48,216.9 228.40,216.9 228.32,216.9 228.24,216.9 228.16,216.9 228.08,216.9 228.00,216.9 227.92,216.9 227.84,216.9 227.76,216.9 227.68,216.9 227.60,216.9 227.52,216.9 227.44,216.9 227.36,216.9 227.28,216.9 227.20,216.9 227.12,216.9 227.04,216.9 226.96,216.9 226.88,216.9 226.80,216.9 226.72,216.9 226.64,216.9 226.56,216.9 226.48,216.9 226.40,216.9 226.32,216.9 226.24,216.9 226.16,216.9 226.08,216.9 226.00,216.9 225.92,216.9 225.84,216.9 225.76,216.9 225.68,216.9 225.60,216.9 225.52,216.9 225.44,216.9 225.36,216.9 225.28,216.9 225.20,216.9 225.12,216.9 225.04,216.9 224.96,216.9 224.88,216.9 224.80,216.9 224.72,216.9 224.64,216.9 224.56,216.9 224.48,216.9 224.40,216.9 224.32,216.9 224.24,216.9 224.16,216.9 224.08,216.9 224.00,216.9 223.92,216.9 223.84,216.9 223.76,216.9 223.68,216.9 223.60,216.9 223.52,216.9 223.44,216.9 223.36,216.9 223.28,216.9 223.20,216.9 223.12,216.9 223.04,216.9 222.96,216.9 222.88,216.9 222.80,216.9 222.72,216.9 222.64,216.9 222.56,216.9 222.48,216.9 222.40,216.9 222.32,216.9 222.24,216.9 222.16,216.9 222.08,216.9 222.00,216.9 221.92,216.9 221.84,216.9 221.76,216.9 221.68,216.9 221.60,216.9 221.52,216.9 221.44,216.9 221.36,216.9 221.28,216.9 221.20,216.9 221.12,216.9 221.04,216.9 220.96,216.9 220.88,216.9 220.80,216.9 220.72,216.9 220.64,216.9 220.56,216.9 220.48,216.9 220.40,216.9 220.32,216.9 220.24,216.9 220.16,216.9 220.08,216.9 220.00,216.9 219.92,216.9 219.84,216.9 219.76,216.9 219.68,216.9 219.60,216.9 219.52,216.9 219.44,216.9 219.36,216.9 219.28,216.9 219.20,216.9 219.12,216.9 219.04,216.9 218.96,216.9 218.88,216.9 218.80,216.9 218.72,216.9 218.64,216.9 218.56,216.9 218.48,216.9 218.40,216.9 218.32,216.9 218.24,216.9 218.16,216.9 218.08,216.9 218.00,216.9 217.92,216.9 217.84,216.9 217.76,216.9 217.68,216.9 217.60,216.9 217.52,216.9 217.44,216.9 217.36,216.9 217.28,216.9 217.20,216.9 217.12,216.9 217.04,216.9 216.96,216.9 216.88,216.9 216.80,216.9 216.72,216.9 216.64,216.9 216.56,216.9 216.48,216.9 216.40,216.9 216.32,216.9 216.24,216.9 216.16,216.9 216.08,216.9 216.00,216.9 215.92,216.9 215.84,216.9 215.76,216.9 215.68,216.9 215.60,216.9 215.52,216.9 215.44,216.9 215.36,216.9 215.28,216.9 215.20,216.9 215.12,216.9 215.04,216.9 214.96,216.9 214.88,216.9 214.80,216.9 214.72,216.9 214.64,216.9 214.56,216.9 214.48,216.9 214.40,216.9 214.32,216.9 214.24,216.9 214.16,216.9 214.08,216.9 214.00,216.9 213.92,216.9 213.84,216.9 213.76,216.9 213.68,216.9 213.60,216.9 213.52,216.9 213.44,216.9 213.36,216.9 213.28,216.9 213.20,216.9 213.12,216.9 213.04,216.9 212.96,216.9 212.88,216.9 212.80,216.9 212.72,216.9 212.64,216.9 212.56,216.9 212.48,216.8 212.40,216.8 212.32,216.8 212.24,216.8 212.16,216.8 212.08,216.8 212.00,216.8 211.92,216.8 211.84,216.8 211.76,216.8 211.68,216.8 211.60,216.8 211.52,216.8 211.44,216.8 211.36,216.8 211.28,216.8 211.20,216.8 211.12,216.8 211.04,216.8 210.96,216.8 210.88,216.8 210.80,216.8 210.72,216.8 210.64,216.8 210.56,216.8 210.48,216.8 210.40,216.8 210.32,216.8 210.24,216.8 210.16,216.8 210.08,216.8 210.00,216.8 209.92,216.8 209.84,216.8 209.76,216.8 209.68,216.8 209.60,216.8 209.52,216.8 209.44,216.8 209.36,216.8 209.28,216.8 209.20,216.8 209.12,216.8 209.04,216.8 208.96,216.8 208.88,216.8 208.80,216.8 208.72,216.8 208.64,216.8 208.56,216.8 208.48,216.8 208.40,216.8 208.32,216.8 208.24,216.8 208.16,216.8 208.08,216.8 208.00,216.8 207.92,216.8 207.84,216.8 207.76,216.8 207.68,216.8 207.60,216.8 207.52,216.8 207.44,216.8 207.36,216.8 207.28,216.8 207.20,216.8 207.12,216.8 207.04,216.8 206.96,216.8 206.88,216.8 206.80,216.8 206.72,216.8 206.64,216.8 206.56,216.8 206.48,216.8 206.40,216.8 206.32,216.8 206.24,216.8 206.16,216.8 206.08,216.8 206.00,216.8 205.92,216.8 205.84,216.8 205.76,216.8 205.68,216.8 205.60,216.8 205.52,216.8 205.44,216.8 205.36,216.8 205.28,216.8 205.20,216.8 205.12,216.8 205.04,216.8 204.96,216.8 204.88,216.8 204.80,216.8 204.72,216.8 204.64,216.8 204.56,216.8 204.48,216.8 204.40,216.8 204.32,216.8 204.24,216.8 204.16,216.8 204.08,216.8 204.00,216.8 203.92,216.8 203.84,216.8 203.76,216.8 203.68,216.8 203.60,216.8 203.52,216.8 203.44,216.8 203.36,216.8 203.28,216.8 203.20,216.8 203.12,216.8 203.04,216.8 202.96,216.8 202.88,216.8 202.80,216.8 202.72,216.8 202.64,216.8 202.56,216.8 202.48,216.8 202.40,216.8 202.32,216.8 202.24,216.8 202.16,216.8 202.08,216.8 202.00,216.8 201.92,216.8 201.84,216.8 201.76,216.8 201.68,216.8 201.60,216.8 201.52,216.8 201.44,216.8 201.36,216.8 201.28,216.8 201.20,216.8 201.12,216.8 201.04,216.8 200.96,216.8 200.88,216.8 200.80,216.8 200.72,216.8 200.64,216.8 200.56,216.8 200.48,216.8 200.40,216.8 200.32,216.8 200.24,216.8 200.16,216.8 200.08,216.8 200.00,216.8 199.92,216.8 199.84,216.8 199.76,216.8 199.68,216.8 199.60,216.8 199.52,216.8 199.44,216.8 199.36,216.8 199.28,216.8 199.20,216.8 199.12,216.8 199.04,216.8 198.96,216.8 198.88,216.8 198.80,216.8 198.72,216.8 198.64,216.8 198.56,216.8 198.48,216.8 198.40,216.8 198.32,216.8 198.24,216.8 198.16,216.8 198.08,216.8 198.00,216.8 197.92,216.8 197.84,216.8 197.76,216.8 197.68,216.8 197.60,216.8 197.52,216.8 197.44,216.8 197.36,216.8 197.28,216.8 197.20,216.8 197.12,216.8 197.04,216.8 196.96,216.8 196.88,216.8 196.80,216.8 196.72,216.8 196.64,216.8 196.56,216.8 196.48,216.8 196.40,216.8 196.32,216.8 196.24,216.8 196.16,216.8 196.08,216.8 196.00,216.8 195.92,216.8 195.84,216.8 195.76,216.8 195.68,216.8 195.60,216.7 195.52,216.7 195.44,216.7 195.36,216.7 195.28,216.7 195.20,216.7 195.12,216.7 195.04,216.7 194.96,216.7 194.88,216.7 194.80,216.7 194.72,216.7 194.64,216.7 194.56,216.7 194.48,216.7 194.40,216.7 194.32,216.7 194.24,216.7 194.16,216.7 194.08,216.7 194.00,216.7 193.92,216.7 193.84,216.7 193.76,216.7 193.68,216.7 193.60,216.7 193.52,216.7 193.44,216.7 193.36,216.7 193.28,216.7 193.20,216.7 193.12,216.7 193.04,216.7 192.96,216.7 192.88,216.7 192.80,216.7 192.72,216.7 192.64,216.7 192.56,216.7 192.48,216.7 192.40,216.7 192.32,216.7 192.24,216.7 192.16,216.7 192.08,216.7 192.00,216.7 191.92,216.7 191.84,216.7 191.76,216.7 191.68,216.7 191.60,216.7 191.52,216.7 191.44,216.7 191.36,216.7 191.28,216.7 191.20,216.7 191.12,216.7 191.04,216.7 190.96,216.7 190.88,216.7 190.80,216.7 190.72,216.7 190.64,216.7 190.56,216.7 190.48,216.7 190.40,216.7 190.32,216.7 190.24,216.7 190.16,216.7 190.08,216.7 190.00,216.7 189.92,216.7 189.84,216.7 189.76,216.7 189.68,216.7 189.60,216.7 189.52,216.7 189.44,216.7 189.36,216.7 189.28,216.7 189.20,216.7 189.12,216.7 189.04,216.7 188.96,216.7 188.88,216.7 188.80,216.7 188.72,216.7 188.64,216.7 188.56,216.7 188.48,216.7 188.40,216.7 188.32,216.7 188.24,216.7 188.16,216.7 188.08,216.7 188.00,216.7 187.92,216.7 187.84,216.7 187.76,216.7 187.68,216.7 187.60,216.7 187.52,216.7 187.44,216.7 187.36,216.7 187.28,216.7 187.20,216.7 187.12,216.7 187.04,216.7 186.96,216.7 186.88,216.7 186.80,216.6 186.72,216.6 186.64,216.6 186.56,216.6 186.48,216.6 186.40,216.6 186.32,216.6 186.24,216.6 186.16,216.6 186.08,216.6 186.00,216.6 185.92,216.6 185.84,216.6 185.76,216.6 185.68,216.6 185.60,216.6 185.52,216.6 185.44,216.6 185.36,216.6 185.28,216.6 185.20,216.6 185.12,216.6 185.04,216.6 184.96,216.6 184.88,216.6 184.80,216.6 184.72,216.6 184.64,216.6 184.56,216.6 184.48,216.6 184.40,216.6 184.32,216.6 184.24,216.6 184.16,216.6 184.08,216.6 184.00,216.6 183.92,216.6 183.84,216.6 183.76,216.6 183.68,216.6 183.60,216.6 183.52,216.6 183.44,216.6 183.36,216.6 183.28,216.6 183.20,216.6 183.12,216.6 183.04,216.6 182.96,216.6 182.88,216.6 182.80,216.6 182.72,216.6 182.64,216.6 182.56,216.6 182.48,216.6 182.40,216.6 182.32,216.6 182.24,216.6 182.16,216.6 182.08,216.6 182.00,216.6 181.92,216.6 181.84,216.6 181.76,216.6 181.68,216.6 181.60,216.6 181.52,216.6 181.44,216.6 181.36,216.6 181.28,216.6 181.20,216.6 181.12,216.6 181.04,216.6 180.96,216.6 180.88,216.6 180.80,216.6 180.72,216.6 180.64,216.6 180.56,216.6 180.48,216.6 180.40,216.6 180.32,216.6 180.24,216.6 180.16,216.6 180.08,216.6 180.00,216.6 179.92,216.6 179.84,216.6 179.76,216.6 179.68,216.6 179.60,216.6 179.52,216.6 179.44,216.6 179.36,216.6 179.28,216.6 179.20,216.6 179.12,216.6 179.04,216.6 178.96,216.6 178.88,216.6 178.80,216.6 178.72,216.6 178.64,216.6 178.56,216.6 178.48,216.6 178.40,216.6 178.32,216.6 178.24,216.6 178.16,216.6 178.08,216.5 178.00,216.5 177.92,216.5 177.84,216.5 177.76,216.5 177.68,216.5 177.60,216.5 177.52,216.5 177.44,216.5 177.36,216.5 177.28,216.5 177.20,216.5 177.12,216.5 177.04,216.5 176.96,216.5 176.88,216.5 176.80,216.5 176.72,216.5 176.64,216.5 176.56,216.5 176.48,216.5 176.40,216.5 176.32,216.5 176.24,216.5 176.16,216.5 176.08,216.5 176.00,216.5 175.92,216.5 175.84,216.5 175.76,216.5 175.68,216.5 175.60,216.5 175.52,216.5 175.44,216.5 175.36,216.5 175.28,216.5 175.20,216.5 175.12,216.5 175.04,216.5 174.96,216.5 174.88,216.5 174.80,216.5 174.72,216.5 174.64,216.5 174.56,216.5 174.48,216.5 174.40,216.5 174.32,216.5 174.24,216.5 174.16,216.5 174.08,216.5 174.00,216.5 173.92,216.5 173.84,216.5 173.76,216.5 173.68,216.5 173.60,216.5 173.52,216.5 173.44,216.5 173.36,216.5 173.28,216.5 173.20,216.5 173.12,216.5 173.04,216.5 172.96,216.5 172.88,216.5 172.80,216.5 172.72,216.5 172.64,216.5 172.56,216.5 172.48,216.5 172.40,216.5 172.32,216.5 172.24,216.5 172.16,216.5 172.08,216.5 172.00,216.5 171.92,216.5 171.84,216.5 171.76,216.5 171.68,216.5 171.60,216.5 171.52,216.5 171.44,216.5 171.36,216.5 171.28,216.5 171.20,216.5 171.12,216.5 171.04,216.5 170.96,216.5 170.88,216.5 170.80,216.5 170.72,216.5 170.64,216.5 170.56,216.5 170.48,216.5 170.40,216.5 170.32,216.5 170.24,216.5 170.16,216.5 170.08,216.5 170.00,216.5 169.92,216.5 169.84,216.5 169.76,216.5 169.68,216.5 169.60,216.5 169.52,216.5 169.44,216.5 169.36,216.4 169.28,216.4 169.20,216.4 169.12,216.4 169.04,216.4 168.96,216.4 168.88,216.4 168.80,216.4 168.72,216.4 168.64,216.4 168.56,216.4 168.48,216.4 168.40,216.4 168.32,216.4 168.24,216.4 168.16,216.4 168.08,216.4 168.00,216.4 167.92,216.4 167.84,216.4 167.76,216.4 167.68,216.4 167.60,216.4 167.52,216.4 167.44,216.4 167.36,216.4 167.28,216.4 167.20,216.4 167.12,216.4 167.04,216.4 166.96,216.4 166.88,216.4 166.80,216.4 166.72,216.4 166.64,216.4 166.56,216.4 166.48,216.4 166.40,216.4 166.32,216.4 166.24,216.4 166.16,216.4 166.08,216.4 166.00,216.4 165.92,216.4 165.84,216.4 165.76,216.4 165.68,216.4 165.60,216.4 165.52,216.4 165.44,216.4 165.36,216.4 165.28,216.4 165.20,216.4 165.12,216.4 165.04,216.4"/><polygon points="96.48,152.8 96.72,150.0 96.96,149.4 97.20,152.9 97.44,148.7 97.68,150.9 97.92,125.7 98.16,66.3 98.40,58.0 98.64,116.6 98.88,151.0 99.12,153.1 99.36,148.2 99.60,153.7 99.84,149.0 100.08,152.9 100.10,150.0 100.10,213.0 96.40,212.7"/><polygon points="100.64,154.0 100.88,156.0 101.12,152.1 101.36,152.9 101.60,151.5 101.70,153.0 101.70,213.2 100.60,213.1"/><polygon points="101.84,142.7 102.08,141.2 102.32,139.2 102.56,137.9 102.80,138.5 103.04,139.2 103.28,141.4 103.52,140.6 103.76,142.2 104.00,138.5 104.24,143.0 104.30,140.0 104.30,213.4 101.80,213.2"/><polygon points="110.32,127.9 110.56,126.4 110.80,126.5 111.04,127.1 111.28,122.6 111.52,124.8 111.76,122.5 112.00,126.7 112.24,106.3 112.48,93.4 112.72,124.7 112.96,126.7 113.20,125.3 113.44,122.7 113.68,127.6 113.92,122.3 114.16,123.1 114.40,127.8 114.64,126.5 114.88,127.7 115.12,125.2 115.36,123.3 115.60,124.8 115.84,126.4 115.90,124.0 115.90,214.3 110.30,213.8"/><polygon points="116.32,167.6 116.56,165.3 116.80,168.7 117.04,163.2 117.28,166.0 117.50,165.0 117.50,214.4 116.30,214.3"/><polygon points="117.92,128.2 118.16,130.1 118.40,110.0 118.64,36.7 118.88,16.6 119.12,88.0 119.36,132.1 119.60,128.3 119.84,130.8 120.08,132.2 120.32,128.6 120.56,129.8 120.80,128.6 121.04,133.1 121.28,133.5 121.52,133.5 121.76,132.5 122.00,131.5 122.24,128.4 122.30,130.0 122.30,214.7 117.90,214.4"/><polygon points="124.24,125.9 124.48,127.6 124.72,127.5 124.96,123.2 125.20,123.0 125.44,123.5 125.68,114.9 125.92,114.9 126.16,125.3 126.40,125.9 126.64,128.3 126.88,123.8 127.12,124.6 127.30,125.0 127.30,214.9 124.20,214.8"/><polygon points="127.36,149.6 127.60,145.5 127.84,146.0 128.08,145.2 128.32,150.7 128.56,146.4 128.80,148.0 129.04,147.3 129.28,150.9 129.52,149.3 129.76,148.6 130.00,147.9 130.24,146.6 130.40,147.0 130.40,215.0 127.30,214.9"/><polygon points="130.48,131.0 130.72,126.6 130.96,129.7 131.20,127.8 131.44,124.3 131.60,126.9 131.60,215.1 130.40,215.0"/><polygon points="136.08,128.7 136.32,127.1 136.56,129.6 136.80,126.4 137.04,126.1 137.28,123.7 137.52,126.5 137.76,131.3 138.00,129.1 138.24,130.1 138.48,130.7 138.72,127.0 138.96,131.7 139.20,128.3 139.40,128.0 139.40,215.4 136.00,215.2"/><polygon points="139.44,180.8 139.68,180.9 139.92,182.2 140.16,182.6 140.40,179.2 140.40,180.0 140.40,215.4 139.40,215.4"/></g>
<polyline points="23.60,184.5 23.68,184.6 23.76,184.6 23.84,184.7 23.92,184.7 24.00,184.7 24.08,184.8 24.16,184.8 24.24,184.9 24.32,184.9 24.40,185.0 24.48,185.0 24.56,185.1 24.64,185.1 24.72,185.2 24.80,185.2 24.88,185.3 24.96,185.3 25.04,185.3 25.12,185.4 25.20,185.4 25.28,185.5 25.36,185.5 25.44,185.6 25.52,185.6 25.60,185.7 25.68,185.7 25.76,185.8 25.84,185.8 25.92,185.9 26.00,185.9 26.08,186.0 26.16,186.0 26.24,186.0 26.32,186.1 26.40,186.1 26.48,186.2 26.56,186.2 26.64,186.3 26.72,186.3 26.80,186.4 26.88,186.4 26.96,186.5 27.04,186.5 27.12,186.6 27.20,186.6 27.28,186.6 27.36,186.7 27.44,186.7 27.52,186.8 27.60,186.8 27.68,186.9 27.76,186.9 27.84,187.0 27.92,187.0 28.00,187.0 28.08,187.1 28.16,187.1 28.24,187.2 28.32,187.2 28.40,187.2 28.48,187.3 28.56,187.3 28.64,187.4 28.72,187.4 28.80,187.4 28.88,187.5 28.96,187.5 29.04,187.5 29.12,187.6 29.20,187.6 29.28,187.6 29.36,187.7 29.44,187.7 29.52,187.7 29.60,187.7 29.68,187.7 29.76,187.7 29.84,187.7 29.92,187.7 30.00,187.7 30.08,187.7 30.16,187.6 30.24,187.6 30.32,187.5 30.40,187.4 30.48,187.3 30.56,187.1 30.64,186.9 30.72,186.5 30.80,186.1 30.88,185.5 30.96,184.8 31.04,183.8 31.12,182.5 31.20,181.0 31.28,179.6 31.36,178.6 31.44,178.7 31.52,179.7 31.60,181.2 31.68,182.8 31.76,184.2 31.84,185.3 31.92,186.2 32.00,186.8 32.08,187.4 32.16,187.8 32.24,188.1 32.32,188.4 32.40,188.6 32.48,188.8 32.56,189.0 32.64,189.2 32.72,189.3 32.80,189.4 32.88,189.6 32.96,189.7 33.04,189.8 33.12,189.9 33.20,190.0 33.28,190.0 33.36,190.1 33.44,190.2 33.52,190.3 33.60,190.3 33.68,190.4 33.76,190.5 33.84,190.6 33.92,190.6 34.00,190.7 34.08,190.8 34.16,190.8 34.24,190.9 34.32,190.9 34.40,191.0 34.48,191.1 34.56,191.1 34.64,191.2 34.72,191.2 34.80,191.3 34.88,191.4 34.96,191.4 35.04,191.5 35.12,191.5 35.20,191.6 35.28,191.7 35.36,191.7 35.44,191.8 35.52,191.8 35.60,191.9 35.68,191.9 35.76,192.0 35.84,192.1 35.92,192.1 36.00,192.2 36.08,192.2 36.16,192.3 36.24,192.3 36.32,192.4 36.40,192.4 36.48,192.5 36.56,192.6 36.64,192.6 36.72,192.7 36.80,192.7 36.88,192.8 36.96,192.8 37.04,192.9 37.12,192.9 37.20,193.0 37.28,193.0 37.36,193.1 37.44,193.2 37.52,193.2 37.60,193.3 37.68,193.3 37.76,193.4 37.84,193.4 37.92,193.5 38.00,193.5 38.08,193.6 38.16,193.6 38.24,193.7 38.32,193.7 38.40,193.8 38.48,193.9 38.56,193.9 38.64,194.0 38.72,194.0 38.80,194.1 38.88,194.1 38.96,194.2 39.04,194.2 39.12,194.3 39.20,194.3 39.28,194.4 39.36,194.4 39.44,194.5 39.52,194.5 39.60,194.6 39.68,194.6 39.76,194.7 39.84,194.8 39.92,194.8 40.00,194.9 40.08,194.9 40.16,195.0 40.24,195.0 40.32,195.1 40.40,195.1 40.48,195.2 40.56,195.2 40.64,195.3 40.72,195.3 40.80,195.4 40.88,195.4 40.96,195.5 41.04,195.5 41.12,195.6 41.20,195.6 41.28,195.7 41.36,195.7 41.44,195.8 41.52,195.8 41.60,195.9 41.68,195.9 41.76,196.0 41.84,196.0 41.92,196.1 42.00,196.1 42.08,196.2 42.16,196.2 42.24,196.3 42.32,196.3 42.40,196.4 42.48,196.4 42.56,196.5 42.64,196.5 42.72,196.5 42.80,196.6 42.88,196.6 42.96,196.7 43.04,196.7 43.12,196.7 43.20,196.8 43.28,196.8 43.36,196.9 43.44,196.9 43.52,196.9 43.60,197.0 43.68,197.0 43.76,197.1 43.84,197.1 43.92,197.1 44.00,197.2 44.08,197.2 44.16,197.2 44.24,197.3 44.32,197.3 44.40,197.4 44.48,197.4 44.56,197.4 44.64,197.5 44.72,197.5 44.80,197.5 44.88,197.5 44.96,197.6 45.04,197.6 45.12,197.6 45.20,197.7 45.28,197.7 45.36,197.7 45.44,197.7 45.52,197.7 45.60,197.8 45.68,197.8 45.76,197.8 45.84,197.8 45.92,197.8 46.00,197.8 46.08,197.8 46.16,197.8 46.24,197.8 46.32,197.8 46.40,197.8 46.48,197.8 46.56,197.8 46.64,197.7 46.72,197.7 46.80,197.7 46.88,197.6 46.96,197.5 47.04,197.5 47.12,197.4 47.20,197.3 47.28,197.2 47.36,197.0 47.44,196.9 47.52,196.7 47.60,196.5 47.68,196.3 47.76,196.0 47.84,195.6 47.92,195.2 48.00,194.8 48.08,194.2 48.16,193.6 48.24,192.8 48.32,191.8 48.40,190.6 48.48,189.1 48.56,187.3 48.64,185.0 48.72,182.0 48.80,178.1 48.88,173.1 48.96,166.5 49.04,157.9 49.12,147.1 49.20,134.5 49.28,122.2 49.36,114.1 49.44,114.2 49.52,122.3 49.60,134.7 49.68,147.4 49.76,158.3 49.84,167.0 49.92,173.7 50.00,178.8 50.08,182.8 50.16,185.8 50.24,188.2 50.32,190.2 50.40,191.7 50.48,193.0 50.56,194.0 50.64,194.9 50.72,195.6 50.80,196.3 50.88,196.8 50.96,197.3 51.04,197.7 51.12,198.1 51.20,198.4 51.28,198.7 51.36,198.9 51.44,199.2 51.52,199.4 51.60,199.6 51.68,199.8 51.76,199.9 51.84,200.1 51.92,200.2 52.00,200.3 52.08,200.5 52.16,200.6 52.24,200.7 52.32,200.8 52.40,200.9 52.48,201.0 52.56,201.1 52.64,201.1 52.72,201.2 52.80,201.3 52.88,201.4 52.96,201.4 53.04,201.5 53.12,201.6 53.20,201.6 53.28,201.7 53.36,201.8 53.44,201.8 53.52,201.9 53.60,201.9 53.68,202.0 53.76,202.0 53.84,202.1 53.92,202.1 54.00,202.2 54.08,202.2 54.16,202.3 54.24,202.3 54.32,202.4 54.40,202.4 54.48,202.4 54.56,202.5 54.64,202.5 54.72,202.6 54.80,202.6 54.88,202.6 54.96,202.7 55.04,202.7 55.12,202.8 55.20,202.8 55.28,202.8 55.36,202.9 55.44,202.9 55.52,202.9 55.60,203.0 55.68,203.0 55.76,203.0 55.84,203.1 55.92,203.1 56.00,203.1 56.08,203.1 56.16,203.2 56.24,203.2 56.32,203.2 56.40,203.2 56.48,203.2 56.56,203.3 56.64,203.3 56.72,203.3 56.80,203.3 56.88,203.3 56.96,203.3 57.04,203.3 57.12,203.3 57.20,203.3 57.28,203.3 57.36,203.2 57.44,203.2 57.52,203.1 57.60,203.0 57.68,202.9 57.76,202.8 57.84,202.6 57.92,202.4 58.00,202.1 58.08,201.7 58.16,201.1 58.24,200.4 58.32,199.5 58.40,198.3 58.48,196.9 58.56,195.4 58.64,194.3 58.72,194.0 58.80,194.8 58.88,196.3 58.96,197.8 59.04,199.2 59.12,200.4 59.20,201.2 59.28,201.9 59.36,202.4 59.44,202.9 59.52,203.2 59.60,203.5 59.68,203.7 59.76,203.9 59.84,204.0 59.92,204.2 60.00,204.3 60.08,204.4 60.16,204.5 60.24,204.5 60.32,204.6 60.40,204.7 60.48,204.7 60.56,204.8 60.64,204.8 60.72,204.9 60.80,204.9 60.88,204.9 60.96,205.0 61.04,205.0 61.12,205.0 61.20,205.1 61.28,205.1 61.36,205.1 61.44,205.1 61.52,205.2 61.60,205.2 61.68,205.2 61.76,205.2 61.84,205.3 61.92,205.3 62.00,205.3 62.08,205.3 62.16,205.4 62.24,205.4 62.32,205.4 62.40,205.4 62.48,205.4 62.56,205.5 62.64,205.5 62.72,205.5 62.80,205.5 62.88,205.5 62.96,205.5 63.04,205.6 63.12,205.6 63.20,205.6 63.28,205.6 63.36,205.6 63.44,205.6 63.52,205.7 63.60,205.7 63.68,205.7 63.76,205.7 63.84,205.7 63.92,205.7 64.00,205.8 64.08,205.8 64.16,205.8 64.24,205.8 64.32,205.8 64.40,205.8 64.48,205.8 64.56,205.8 64.64,205.9 64.72,205.9 64.80,205.9 64.88,205.9 64.96,205.9 65.04,205.9 65.12,205.9 65.20,205.9 65.28,205.9 65.36,205.9 65.44,205.9 65.52,205.9 65.60,205.9 65.68,205.9 65.76,205.9 65.84,205.9 65.92,205.9 66.00,205.9 66.08,205.8 66.16,205.8 66.24,205.8 66.32,205.7 66.40,205.7 66.48,205.6 66.56,205.6 66.64,205.5 66.72,205.3 66.80,205.2 66.88,205.0 66.96,204.8 67.04,204.5 67.12,204.1 67.20,203.6 67.28,202.9 67.36,202.1 67.44,200.9 67.52,199.5 67.60,197.8 67.68,196.2 67.76,195.1 67.84,195.2 67.92,196.3 68.00,197.9 68.08,199.6 68.16,201.1 68.24,202.2 68.32,203.1 68.40,203.8 68.48,204.4 68.56,204.8 68.64,205.1 68.72,205.4 68.80,205.6 68.88,205.8 68.96,205.9 69.04,206.1 69.12,206.2 69.20,206.3 69.28,206.4 69.36,206.4 69.44,206.5 69.52,206.6 69.60,206.6 69.68,206.7 69.76,206.7 69.84,206.8 69.92,206.8 70.00,206.8 70.08,206.9 70.16,206.9 70.24,206.9 70.32,207.0 70.40,207.0 70.48,207.0 70.56,207.0 70.64,207.1 70.72,207.1 70.80,207.1 70.88,207.1 70.96,207.1 71.04,207.2 71.12,207.2 71.20,207.2 71.28,207.2 71.36,207.2 71.44,207.3 71.52,207.3 71.60,207.3 71.68,207.3 71.76,207.3 71.84,207.3 71.92,207.3 72.00,207.4 72.08,207.4 72.16,207.4 72.24,207.4 72.32,207.4 72.40,207.4 72.48,207.5 72.56,207.5 72.64,207.5 72.72,207.5 72.80,207.5 72.88,207.5 72.96,207.5 73.04,207.5 73.12,207.6 73.20,207.6 73.28,207.6 73.36,207.6 73.44,207.6 73.52,207.6 73.60,207.6 73.68,207.6 73.76,207.6 73.84,207.7 73.92,207.7 74.00,207.7 74.08,207.7 74.16,207.7 74.24,207.7 74.32,207.7 74.40,207.7 74.48,207.7 74.56,207.7 74.64,207.7 74.72,207.7 74.80,207.6 74.88,207.6 74.96,207.6 75.04,207.5 75.12,207.5 75.20,207.4 75.28,207.2 75.36,207.1 75.44,207.0 75.52,207.0 75.60,207.1 75.68,207.2 75.76,207.4 75.84,207.5 75.92,207.6 76.00,207.7 76.08,207.7 76.16,207.8 76.24,207.8 76.32,207.9 76.40,207.9 76.48,207.9 76.56,207.9 76.64,208.0 76.72,208.0 76.80,208.0 76.88,208.0 76.96,208.0 77.04,208.0 77.12,208.0 77.20,208.0 77.28,208.0 77.36,208.0 77.44,208.0 77.52,208.0 77.60,208.0 77.68,208.0 77.76,208.0 77.84,208.0 77.92,208.0 78.00,207.9 78.08,207.9 78.16,207.9 78.24,207.9 78.32,207.8 78.40,207.8 78.48,207.8 78.56,207.7 78.64,207.6 78.72,207.6 78.80,207.5 78.88,207.4 78.96,207.3 79.04,207.1 79.12,207.0 79.20,206.7 79.28,206.5 79.36,206.2 79.44,205.8 79.52,205.3 79.60,204.7 79.68,203.9 79.76,202.8 79.84,201.4 79.92,199.6 80.00,197.3 80.08,194.6 80.16,191.7 80.24,189.6 80.32,189.1 80.40,190.5 80.48,193.1 80.56,196.0 80.64,198.5 80.72,200.5 80.80,202.1 80.88,203.3 80.96,204.2 81.04,204.9 81.12,205.4 81.20,205.9 81.28,206.2 81.36,206.4 81.44,206.6 81.52,206.7 81.60,206.7 81.68,206.7 81.76,206.7 81.84,206.5 81.92,206.3 82.00,206.1 82.08,205.6 82.16,205.0 82.24,204.2 82.32,203.2 82.40,202.0 82.48,200.8 82.56,200.1 82.64,200.1 82.72,201.0 82.80,202.2 82.88,203.5 82.96,204.6 83.04,205.5 83.12,206.2 83.20,206.7 83.28,207.1 83.36,207.5 83.44,207.7 83.52,207.9 83.60,208.1 83.68,208.2 83.76,208.4 83.84,208.5 83.92,208.5 84.00,208.6 84.08,208.7 84.16,208.7 84.24,208.8 84.32,208.8 84.40,208.9 84.48,208.9 84.56,209.0 84.64,209.0 84.72,209.0 84.80,209.0 84.88,209.1 84.96,209.1 85.04,209.1 85.12,209.1 85.20,209.2 85.28,209.2 85.36,209.2 85.44,209.2 85.52,209.2 85.60,209.2 85.68,209.2 85.76,209.2 85.84,209.2 85.92,209.3 86.00,209.3 86.08,209.3 86.16,209.3 86.24,209.3 86.32,209.3 86.40,209.2 86.48,209.2 86.56,209.2 86.64,209.2 86.72,209.2 86.80,209.2 86.88,209.1 86.96,209.1 87.04,209.1 87.12,209.0 87.20,209.0 87.28,208.9 87.36,208.8 87.44,208.7 87.52,208.6 87.60,208.5 87.68,208.3 87.76,208.1 87.84,207.8 87.92,207.5 88.00,207.0 88.08,206.5 88.16,205.7 88.24,204.7 88.32,203.5 88.40,201.8 88.48,199.9 88.56,197.9 88.64,196.4 88.72,196.0 88.80,197.1 88.88,198.9 88.96,201.0 89.04,202.8 89.12,204.2 89.20,205.4 89.28,206.2 89.36,206.9 89.44,207.4 89.52,207.8 89.60,208.1 89.68,208.4 89.76,208.6 89.84,208.8 89.92,208.9 90.00,209.1 90.08,209.2 90.16,209.3 90.24,209.3 90.32,209.4 90.40,209.5 90.48,209.5 90.56,209.6 90.64,209.6 90.72,209.6 90.80,209.7 90.88,209.7 90.96,209.7 91.04,209.7 91.12,209.8 91.20,209.8 91.28,209.8 91.36,209.8 91.44,209.8 91.52,209.8 91.60,209.8 91.68,209.8 91.76,209.9 91.84,209.9 91.92,209.9 92.00,209.9 92.08,209.9 92.16,209.9 92.24,209.9 92.32,209.9 92.40,209.9 92.48,209.9 92.56,209.9 92.64,209.8 92.72,209.8 92.80,209.8 92.88,209.8 92.96,209.8 93.04,209.8 93.12,209.8 93.20,209.8 93.28,209.7 93.36,209.7 93.44,209.7 93.52,209.7 93.60,209.7 93.68,209.6 93.76,209.6 93.84,209.6 93.92,209.5 94.00,209.5 94.08,209.4 94.16,209.4 94.24,209.4 94.32,209.3 94.40,209.2 94.48,209.2 94.56,209.1 94.64,209.0 94.72,209.0 94.80,208.9 94.88,208.8 94.96,208.7 95.04,208.6 95.12,208.5 95.20,208.4 95.28,208.2 95.36,208.1 95.44,207.9 95.52,207.8 95.60,207.6 95.68,207.4 95.76,207.2 95.84,206.9 95.92,206.6 96.00,206.3 96.08,206.0 96.16,205.6 96.24,205.2 96.32,204.8 96.40,204.2 96.48,203.7 96.56,203.0 96.64,202.2 96.72,201.4 96.80,200.4 96.88,199.2 96.96,197.9 97.04,196.3 97.12,194.4 97.20,192.2 97.28,189.5 97.36,186.2 97.44,182.2 97.52,177.3 97.60,171.1 97.68,163.4 97.76,153.5 97.84,141.1 97.92,125.7 98.00,107.1 98.08,86.3 98.16,66.3 98.24,52.1 98.32,48.9 98.40,58.0 98.48,75.8 98.56,96.7 98.64,116.6 98.72,133.6 98.80,147.5 98.88,158.5 98.96,167.2 99.04,174.1 99.12,179.6 99.20,184.0 99.28,187.5 99.36,190.5 99.44,192.9 99.52,194.9 99.60,196.5 99.68,197.9 99.76,199.1 99.84,200.1 99.92,201.0 100.00,201.8 100.08,202.4 100.16,202.9 100.24,203.4 100.32,203.8 100.40,204.1 100.48,204.4 100.56,204.6 100.64,204.7 100.72,204.8 100.80,204.9 100.88,204.9 100.96,204.8 101.04,204.7 101.12,204.5 101.20,204.3 101.28,203.9 101.36,203.5 101.44,202.9 101.52,202.2 101.60,201.2 101.68,200.1 101.76,198.6 101.84,196.7 101.92,194.3 102.00,191.1 102.08,187.0 102.16,181.5 102.24,174.4 102.32,165.4 102.40,154.9 102.48,144.6 102.56,137.9 102.64,138.0 102.72,144.8 102.80,155.1 102.88,165.7 102.96,174.8 103.04,182.0 103.12,187.5 103.20,191.8 103.28,195.1 103.36,197.6 103.44,199.6 103.52,201.2 103.60,202.5 103.68,203.5 103.76,204.3 103.84,205.0 103.92,205.6 104.00,206.1 104.08,206.5 104.16,206.9 104.24,207.1 104.32,207.4 104.40,207.6 104.48,207.7 104.56,207.9 104.64,207.9 104.72,208.0 104.80,208.0 104.88,208.0 104.96,207.9 105.04,207.8 105.12,207.6 105.20,207.3 105.28,206.9 105.36,206.4 105.44,205.7 105.52,204.7 105.60,203.4 105.68,201.8 105.76,199.8 105.84,197.6 105.92,195.7 106.00,195.0 106.08,195.8 106.16,197.7 106.24,200.0 106.32,202.1 106.40,203.8 106.48,205.1 106.56,206.1 106.64,206.9 106.72,207.5 106.80,208.0 106.88,208.4 106.96,208.7 107.04,208.9 107.12,209.1 107.20,209.2 107.28,209.4 107.36,209.5 107.44,209.6 107.52,209.6 107.60,209.7 107.68,209.7 107.76,209.8 107.84,209.8 107.92,209.8 108.00,209.8 108.08,209.8 108.16,209.8 108.24,209.8 108.32,209.8 108.40,209.7 108.48,209.7 108.56,209.7 108.64,209.6 108.72,209.6 108.80,209.5 108.88,209.5 108.96,209.4 109.04,209.3 109.12,209.3 109.20,209.2 109.28,209.1 109.36,209.0 109.44,208.8 109.52,208.7 109.60,208.6 109.68,208.4 109.76,208.2 109.84,208.1 109.92,207.9 110.00,207.6 110.08,207.4 110.16,207.1 110.24,206.8 110.32,206.5 110.40,206.1 110.48,205.7 110.56,205.2 110.64,204.7 110.72,204.1 110.80,203.5 110.88,202.7 110.96,201.8 111.04,200.8 111.12,199.6 111.20,198.2 111.28,196.6 111.36,194.6 111.44,192.3 111.52,189.4 111.60,185.9 111.68,181.5 111.76,176.0 111.84,169.2 111.92,160.5 112.00,149.7 112.08,136.5 112.16,121.5 112.24,106.3 112.32,94.2 112.40,89.3 112.48,93.4 112.56,104.6 112.64,118.9 112.72,133.0 112.80,145.1 112.88,154.8 112.96,162.3 113.04,167.7 113.12,171.6 113.20,174.1 113.28,175.4 113.36,175.6 113.44,174.8 113.52,172.9 113.60,169.8 113.68,165.4 113.76,159.6 113.84,152.4 113.92,143.9 114.00,135.1 114.08,127.5 114.16,123.1 114.24,123.6 114.32,128.8 114.40,137.3 114.48,147.0 114.56,156.5 114.64,164.8 114.72,171.9 114.80,177.7 114.88,182.4 114.96,186.2 115.04,189.3 115.12,191.9 115.20,193.9 115.28,195.7 115.36,197.1 115.44,198.3 115.52,199.2 115.60,200.1 115.68,200.7 115.76,201.3 115.84,201.8 115.92,202.1 116.00,202.4 116.08,202.6 116.16,202.8 116.24,202.8 116.32,202.9 116.40,202.8 116.48,202.7 116.56,202.5 116.64,202.3 116.72,202.0 116.80,201.6 116.88,201.2 116.96,200.6 117.04,199.9 117.12,199.2 117.20,198.2 117.28,197.2 117.36,195.9 117.44,194.4 117.52,192.6 117.60,190.4 117.68,187.8 117.76,184.7 117.84,180.9 117.92,176.3 118.00,170.5 118.08,163.3 118.16,154.2 118.24,142.7 118.32,128.2 118.40,110.0 118.48,87.8 118.56,62.4 118.64,36.7 118.72,16.6 118.80,8.8 118.88,16.6 118.96,36.8 119.04,62.6 119.12,88.0 119.20,110.3 119.28,128.6 119.36,143.2 119.44,154.8 119.52,163.9 119.60,171.2 119.68,177.1 119.76,181.8 119.84,185.7 119.92,188.9 120.00,191.6 120.08,193.8 120.16,195.7 120.24,197.3 120.32,198.7 120.40,199.9 120.48,201.0 120.56,201.9 120.64,202.7 120.72,203.4 120.80,204.0 120.88,204.6 120.96,205.1 121.04,205.5 121.12,205.9 121.20,206.2 121.28,206.6 121.36,206.8 121.44,207.1 121.52,207.3 121.60,207.5 121.68,207.7 121.76,207.9 121.84,208.0 121.92,208.1 122.00,208.3 122.08,208.4 122.16,208.4 122.24,208.5 122.32,208.5 122.40,208.6 122.48,208.6 122.56,208.6 122.64,208.6 122.72,208.6 122.80,208.6 122.88,208.5 122.96,208.5 123.04,208.4 123.12,208.3 123.20,208.2 123.28,208.1 123.36,207.9 123.44,207.8 123.52,207.6 123.60,207.3 123.68,207.1 123.76,206.8 123.84,206.4 123.92,206.0 124.00,205.6 124.08,205.1 124.16,204.5 124.24,203.8 124.32,203.0 124.40,202.1 124.48,201.1 124.56,199.8 124.64,198.3 124.72,196.6 124.80,194.5 124.88,191.9 124.96,188.8 125.04,185.0 125.12,180.4 125.20,174.6 125.28,167.5 125.36,158.9 125.44,148.6 125.52,137.0 125.60,125.2 125.68,114.9 125.76,108.8 125.84,108.8 125.92,114.9 126.00,125.2 126.08,137.1 126.16,148.7 126.24,158.9 126.32,167.6 126.40,174.7 126.48,180.4 126.56,185.1 126.64,188.9 126.72,192.0 126.80,194.6 126.88,196.7 126.96,198.4 127.04,199.9 127.12,201.2 127.20,202.3 127.28,203.2 127.36,204.0 127.44,204.6 127.52,205.2 127.60,205.7 127.68,206.2 127.76,206.6 127.84,206.9 127.92,207.2 128.00,207.4 128.08,207.7 128.16,207.8 128.24,208.0 128.32,208.1 128.40,208.2 128.48,208.3 128.56,208.4 128.64,208.4 128.72,208.4 128.80,208.4 128.88,208.4 128.96,208.3 129.04,208.3 129.12,208.2 129.20,208.1 129.28,207.9 129.36,207.7 129.44,207.5 129.52,207.3 129.60,207.0 129.68,206.6 129.76,206.2 129.84,205.8 129.92,205.2 130.00,204.6 130.08,203.9 130.16,203.0 130.24,202.0 130.32,200.8 130.40,199.3 130.48,197.6 130.56,195.5 130.64,193.0 130.72,189.9 130.80,186.1 130.88,181.4 130.96,175.6 131.04,168.5 131.12,160.0 131.20,150.3 131.28,140.0 131.36,130.6 131.44,124.3 131.52,122.9 131.60,126.9 131.68,135.1 131.76,145.2 131.84,155.4 131.92,164.5 132.00,172.3 132.08,178.8 132.16,184.0 132.24,188.3 132.32,191.7 132.40,194.5 132.48,196.9 132.56,198.8 132.64,200.4 132.72,201.7 132.80,202.8 132.88,203.8 132.96,204.6 133.04,205.3 133.12,205.9 133.20,206.5 133.28,206.9 133.36,207.3 133.44,207.7 133.52,208.0 133.60,208.2 133.68,208.4 133.76,208.6 133.84,208.8 133.92,208.9 134.00,209.1 134.08,209.2 134.16,209.2 134.24,209.3 134.32,209.3 134.40,209.3 134.48,209.3 134.56,209.3 134.64,209.3 134.72,209.2 134.80,209.2 134.88,209.1 134.96,208.9 135.04,208.8 135.12,208.6 135.20,208.4 135.28,208.2 135.36,207.9 135.44,207.6 135.52,207.2 135.60,206.7 135.68,206.2 135.76,205.7 135.84,205.0 135.92,204.2 136.00,203.2 136.08,202.1 136.16,200.8 136.24,199.2 136.32,197.3 136.40,195.1 136.48,192.3 136.56,188.8 136.64,184.6 136.72,179.4 136.80,173.0 136.88,165.2 136.96,156.0 137.04,145.9 137.12,135.8 137.20,127.7 137.28,123.7 137.36,125.1 137.44,131.5 137.52,140.9 137.60,151.2 137.68,160.9 137.76,169.5 137.84,176.6 137.92,182.4 138.00,187.1 138.08,191.0 138.16,194.1 138.24,196.7 138.32,198.8 138.40,200.6 138.48,202.0 138.56,203.3 138.64,204.3 138.72,205.2 138.80,206.0 138.88,206.7 138.96,207.3 139.04,207.8 139.12,208.3 139.20,208.6 139.28,209.0 139.36,209.3 139.44,209.6 139.52,209.8 139.60,210.0 139.68,210.2 139.76,210.4 139.84,210.5 139.92,210.6 140.00,210.7 140.08,210.8 140.16,210.8 140.24,210.8 140.32,210.8 140.40,210.8 140.48,210.7 140.56,210.5 140.64,210.3 140.72,210.0 140.80,209.7 140.88,209.1 140.96,208.3 141.04,207.3 141.12,205.8 141.20,203.8 141.28,201.1 141.36,198.1 141.44,195.7 141.52,195.1 141.60,196.8 141.68,199.8 141.76,202.8 141.84,205.2 141.92,207.1 142.00,208.4 142.08,209.4 142.16,210.1 142.24,210.7 142.32,211.1 142.40,211.5 142.48,211.8 142.56,212.0 142.64,212.2 142.72,212.4 142.80,212.5 142.88,212.6 142.96,212.7 143.04,212.8 143.12,212.8 143.20,212.9 143.28,213.0 143.36,213.0 143.44,213.1 143.52,213.1 143.60,213.1 143.68,213.1 143.76,213.2 143.84,213.2 143.92,213.2 144.00,213.2 144.08,213.2 144.16,213.1 144.24,213.1 144.32,213.1 144.40,213.0 144.48,213.0 144.56,212.9 144.64,212.7 144.72,212.6 144.80,212.4 144.88,212.1 144.96,211.7 145.04,211.1 145.12,210.4 145.20,209.4 145.28,208.1 145.36,206.6 145.44,205.3 145.52,205.0 145.60,205.9 145.68,207.4 145.76,208.8 145.84,210.0 145.92,210.9 146.00,211.6 146.08,212.1 146.16,212.4 146.24,212.7 146.32,212.9 146.40,213.1 146.48,213.2 146.56,213.3 146.64,213.4 146.72,213.5 146.80,213.5 146.88,213.6 146.96,213.6 147.04,213.7 147.12,213.7 147.20,213.7 147.28,213.7 147.36,213.8 147.44,213.8 147.52,213.8 147.60,213.8 147.68,213.8 147.76,213.8 147.84,213.8 147.92,213.8 148.00,213.8 148.08,213.8 148.16,213.8 148.24,213.8 148.32,213.8 148.40,213.8 148.48,213.7 148.56,213.7 148.64,213.7 148.72,213.7 148.80,213.6 148.88,213.6 148.96,213.5 149.04,213.5 149.12,213.4 149.20,213.3 149.28,213.2 149.36,213.1 149.44,213.0 149.52,212.9 149.60,212.7 149.68,212.5 149.76,212.2 149.84,211.9 149.92,211.4 150.00,210.9 150.08,210.2 150.16,209.3 150.24,208.2 150.32,206.5 150.40,204.3 150.48,201.3 150.56,197.4 150.64,192.7 150.72,188.3 150.80,186.5 150.88,188.4 150.96,192.7 151.04,197.4 151.12,201.4 151.20,204.4 151.28,206.6 151.36,208.2 151.44,209.4 151.52,210.3 151.60,211.0 151.68,211.5 151.76,212.0 151.84,212.3 151.92,212.6 152.00,212.8 152.08,213.0 152.16,213.2 152.24,213.3 152.32,213.4 152.40,213.5 152.48,213.6 152.56,213.7 152.64,213.7 152.72,213.8 152.80,213.8 152.88,213.9 152.96,213.9 153.04,213.9 153.12,213.9 153.20,214.0 153.28,214.0 153.36,214.0 153.44,214.0 153.52,214.0 153.60,214.0 153.68,214.0 153.76,213.9 153.84,213.9 153.92,213.9 154.00,213.8 154.08,213.7 154.16,213.6 154.24,213.5 154.32,213.3 154.40,213.1 154.48,212.8 154.56,212.4 154.64,211.8 154.72,211.0 154.80,210.0 154.88,208.9 154.96,208.1 155.04,208.1 155.12,208.9 155.20,210.0 155.28,211.0 155.36,211.8 155.44,212.4 155.52,212.9 155.60,213.2 155.68,213.4 155.76,213.6 155.84,213.8 155.92,213.9 156.00,214.0 156.08,214.0 156.16,214.1 156.24,214.1 156.32,214.2 156.40,214.2 156.48,214.2 156.56,214.2 156.64,214.3 156.72,214.3 156.80,214.3 156.88,214.3 156.96,214.3 157.04,214.3 157.12,214.3 157.20,214.3 157.28,214.3 157.36,214.2 157.44,214.2 157.52,214.2 157.60,214.2 157.68,214.2 157.76,214.1 157.84,214.1 157.92,214.1 158.00,214.0 158.08,213.9 158.16,213.9 158.24,213.8 158.32,213.7 158.40,213.5 158.48,213.4 158.56,213.2 158.64,213.0 158.72,212.7 158.80,212.3 158.88,211.8 158.96,211.1 159.04,210.2 159.12,208.9 159.20,207.3 159.28,205.1 159.36,202.6 159.44,200.6 159.52,200.1 159.60,201.4 159.68,203.8 159.76,206.1 159.84,208.0 159.92,209.4 160.00,210.5 160.08,211.2 160.16,211.7 160.24,212.1 160.32,212.4 160.40,212.7 160.48,212.8 160.56,212.9 160.64,213.0 160.72,213.0 160.80,213.1 160.88,213.1 160.96,213.0 161.04,213.0 161.12,212.9 161.20,212.8 161.28,212.7 161.36,212.6 161.44,212.4 161.52,212.2 161.60,212.0 161.68,211.7 161.76,211.4 161.84,211.0 161.92,210.5 162.00,209.9 162.08,209.2 162.16,208.3 162.24,207.2 162.32,205.8 162.40,203.9 162.48,201.5 162.56,198.3 162.64,193.9 162.72,187.9 162.80,179.7 162.88,169.2 162.96,157.2 163.04,147.3 163.12,144.9 163.20,151.6 163.28,163.2 163.36,174.8 163.44,184.1 163.52,191.2 163.60,196.3 163.68,200.1 163.76,202.9 163.84,205.0 163.92,206.6 164.00,207.9 164.08,208.9 164.16,209.7 164.24,210.4 164.32,210.9 164.40,211.3 164.48,211.7 164.56,212.0 164.64,212.3 164.72,212.5 164.80,212.7 164.88,212.9 164.96,213.0 165.04,213.2 165.12,213.3 165.20,213.3 165.28,213.4 165.36,213.5 165.44,213.5 165.52,213.5 165.60,213.6 165.68,213.6 165.76,213.5 165.84,213.5 165.92,213.5 166.00,213.4 166.08,213.3 166.16,213.2 166.24,213.1 166.32,212.9 166.40,212.7 166.48,212.4 166.56,212.0 166.64,211.4 166.72,210.7 166.80,209.8 166.88,208.5 166.96,206.7 167.04,204.3 167.12,201.3 167.20,198.3 167.28,196.6 167.36,197.2 167.44,199.7 167.52,202.8 167.60,205.5 167.68,207.6 167.76,209.2 167.84,210.3 167.92,211.1 168.00,211.7 168.08,212.1 168.16,212.5 168.24,212.7 168.32,212.9 168.40,213.0 168.48,213.1 168.56,213.2 168.64,213.2 168.72,213.2 168.80,213.2 168.88,213.1 168.96,213.0 169.04,212.8 169.12,212.6 169.20,212.4 169.28,212.0 169.36,211.6 169.44,211.0 169.52,210.3 169.60,209.3 169.68,207.9 169.76,206.1 169.84,203.5 169.92,200.1 170.00,195.8 170.08,191.1 170.16,187.8 170.24,187.8 170.32,191.1 170.40,195.8 170.48,200.2 170.56,203.6 170.64,206.2 170.72,208.1 170.80,209.5 170.88,210.5 170.96,211.3 171.04,211.9 171.12,212.3 171.20,212.7 171.28,213.0 171.36,213.3 171.44,213.5 171.52,213.6 171.60,213.8 171.68,213.9 171.76,214.0 171.84,214.0 171.92,214.1 172.00,214.1 172.08,214.2 172.16,214.2 172.24,214.2 172.32,214.2 172.40,214.2 172.48,214.2 172.56,214.1 172.64,214.0 172.72,213.9 172.80,213.7 172.88,213.5 172.96,213.2 173.04,212.8 173.12,212.2 173.20,211.4 173.28,210.4 173.36,209.2 173.44,208.3 173.52,208.0 173.60,208.7 173.68,209.9 173.76,211.0 173.84,212.0 173.92,212.7 174.00,213.2 174.08,213.5 174.16,213.8 174.24,214.0 174.32,214.2 174.40,214.3 174.48,214.4 174.56,214.5 174.64,214.6 174.72,214.6 174.80,214.6 174.88,214.7 174.96,214.7 175.04,214.7 175.12,214.7 175.20,214.7 175.28,214.7 175.36,214.6 175.44,214.6 175.52,214.5 175.60,214.5 175.68,214.4 175.76,214.2 175.84,214.1 175.92,213.8 176.00,213.5 176.08,213.1 176.16,212.4 176.24,211.6 176.32,210.6 176.40,209.6 176.48,209.0 176.56,209.2 176.64,210.1 176.72,211.2 176.80,212.1 176.88,212.8 176.96,213.4 177.04,213.8 177.12,214.0 177.20,214.3 177.28,214.4 177.36,214.5 177.44,214.6 177.52,214.7 177.60,214.8 177.68,214.8 177.76,214.9 177.84,214.9 177.92,215.0 178.00,215.0 178.08,215.0 178.16,215.0 178.24,215.0 178.32,215.1 178.40,215.1 178.48,215.1 178.56,215.1 178.64,215.1 178.72,215.1 178.80,215.1 178.88,215.1 178.96,215.1 179.04,215.1 179.12,215.1 179.20,215.1 179.28,215.1 179.36,215.1 179.44,215.1 179.52,215.1 179.60,215.1 179.68,215.1 179.76,215.0 179.84,215.0 179.92,215.0 180.00,215.0 180.08,215.0 180.16,214.9 180.24,214.9 180.32,214.9 180.40,214.8 180.48,214.8 180.56,214.7 180.64,214.7 180.72,214.6 180.80,214.5 180.88,214.4 180.96,214.2 181.04,214.1 181.12,213.8 181.20,213.6 181.28,213.2 181.36,212.8 181.44,212.1 181.52,211.3 181.60,210.2 181.68,208.6 181.76,206.6 181.84,204.2 181.92,202.0 182.00,201.0 182.08,202.0 182.16,204.2 182.24,206.6 182.32,208.6 182.40,210.2 182.48,211.3 182.56,212.1 182.64,212.7 182.72,213.2 182.80,213.5 182.88,213.8 182.96,214.0 183.04,214.2 183.12,214.3 183.20,214.4 183.28,214.5 183.36,214.6 183.44,214.7 183.52,214.7 183.60,214.7 183.68,214.8 183.76,214.8 183.84,214.8 183.92,214.8 184.00,214.8 184.08,214.8 184.16,214.8 184.24,214.8 184.32,214.8 184.40,214.7 184.48,214.7 184.56,214.6 184.64,214.5 184.72,214.4 184.80,214.2 184.88,214.0 184.96,213.7 185.04,213.4 185.12,212.8 185.20,212.1 185.28,211.2 185.36,210.1 185.44,209.2 185.52,209.0 185.60,209.6 185.68,210.6 185.76,211.7 185.84,212.5 185.92,213.1 186.00,213.6 186.08,213.9 186.16,214.1 186.24,214.3 186.32,214.4 186.40,214.6 186.48,214.6 186.56,214.7 186.64,214.7 186.72,214.8 186.80,214.8 186.88,214.8 186.96,214.8 187.04,214.8 187.12,214.8 187.20,214.8 187.28,214.8 187.36,214.8 187.44,214.8 187.52,214.7 187.60,214.7 187.68,214.7 187.76,214.6 187.84,214.6 187.92,214.5 188.00,214.4 188.08,214.3 188.16,214.2 188.24,214.1 188.32,213.9 188.40,213.8 188.48,213.5 188.56,213.3 188.64,212.9 188.72,212.5 188.80,212.0 188.88,211.3 188.96,210.5 189.04,209.3 189.12,207.7 189.20,205.5 189.28,202.6 189.36,198.7 189.44,194.1 189.52,189.8 189.60,188.0 189.68,189.8 189.76,194.1 189.84,198.7 189.92,202.6 190.00,205.5 190.08,207.7 190.16,209.2 190.24,210.4 190.32,211.3 190.40,211.9 190.48,212.5 190.56,212.9 190.64,213.2 190.72,213.4 190.80,213.6 190.88,213.8 190.96,213.9 191.04,214.0 191.12,214.1 191.20,214.2 191.28,214.2 191.36,214.2 191.44,214.2 191.52,214.2 191.60,214.1 191.68,214.1 191.76,213.9 191.84,213.7 191.92,213.5 192.00,213.1 192.08,212.6 192.16,211.9 192.24,211.0 192.32,209.9 192.40,208.7 192.48,208.0 192.56,208.3 192.64,209.3 192.72,210.5 192.80,211.6 192.88,212.4 192.96,213.0 193.04,213.5 193.12,213.8 193.20,214.1 193.28,214.2 193.36,214.4 193.44,214.5 193.52,214.6 193.60,214.6 193.68,214.7 193.76,214.7 193.84,214.7 193.92,214.8 194.00,214.8 194.08,214.8 194.16,214.7 194.24,214.7 194.32,214.7 194.40,214.6 194.48,214.6 194.56,214.5 194.64,214.4 194.72,214.3 194.80,214.2 194.88,214.0 194.96,213.7 195.04,213.4 195.12,213.0 195.20,212.5 195.28,211.8 195.36,210.9 195.44,209.6 195.52,207.8 195.60,205.6 195.68,203.2 195.76,201.4 195.84,201.4 195.92,203.2 196.00,205.6 196.08,207.8 196.16,209.6 196.24,210.9 196.32,211.9 196.40,212.6 196.48,213.1 196.56,213.5 196.64,213.8 196.72,214.0 196.80,214.2 196.88,214.4 196.96,214.5 197.04,214.6 197.12,214.7 197.20,214.7 197.28,214.8 197.36,214.9 197.44,214.9 197.52,214.9 197.60,214.9 197.68,215.0 197.76,215.0 197.84,215.0 197.92,215.0 198.00,215.0 198.08,215.0 198.16,214.9 198.24,214.9 198.32,214.9 198.40,214.8 198.48,214.8 198.56,214.7 198.64,214.6 198.72,214.5 198.80,214.3 198.88,214.1 198.96,213.8 199.04,213.4 199.12,212.9 199.20,212.2 199.28,211.2 199.36,210.1 199.44,209.2 199.52,209.0 199.60,209.6 199.68,210.7 199.76,211.7 199.84,212.5 199.92,213.2 200.00,213.6 200.08,213.9 200.16,214.2 200.24,214.4 200.32,214.5 200.40,214.6 200.48,214.7 200.56,214.7 200.64,214.8 200.72,214.8 200.80,214.8 200.88,214.8 200.96,214.8 201.04,214.8 201.12,214.8 201.20,214.7 201.28,214.7 201.36,214.6 201.44,214.6 201.52,214.5 201.60,214.4 201.68,214.2 201.76,214.1 201.84,213.9 201.92,213.6 202.00,213.3 202.08,212.9 202.16,212.4 202.24,211.7 202.32,210.7 202.40,209.4 202.48,207.6 202.56,205.3 202.64,202.5 202.72,199.9 202.80,198.8 202.88,199.9 202.96,202.5 203.04,205.3 203.12,207.6 203.20,209.4 203.28,210.7 203.36,211.6 203.44,212.3 203.52,212.9 203.60,213.3 203.68,213.6 203.76,213.8 203.84,214.0 203.92,214.1 204.00,214.3 204.08,214.4 204.16,214.4 204.24,214.5 204.32,214.5 204.40,214.6 204.48,214.6 204.56,214.6 204.64,214.6 204.72,214.6 204.80,214.6 204.88,214.6 204.96,214.5 205.04,214.5 205.12,214.4 205.20,214.3 205.28,214.1 205.36,213.9 205.44,213.7 205.52,213.3 205.60,212.9 205.68,212.2 205.76,211.4 205.84,210.3 205.92,209.4 206.00,209.0 206.08,209.4 206.16,210.3 206.24,211.3 206.32,212.1 206.40,212.8 206.48,213.2 206.56,213.5 206.64,213.8 206.72,213.9 206.80,214.1 206.88,214.1 206.96,214.2 207.04,214.2 207.12,214.3 207.20,214.3 207.28,214.3 207.36,214.2 207.44,214.2 207.52,214.2 207.60,214.1 207.68,214.1 207.76,214.0 207.84,213.9 207.92,213.8 208.00,213.7 208.08,213.6 208.16,213.5 208.24,213.3 208.32,213.1 208.40,212.8 208.48,212.6 208.56,212.2 208.64,211.8 208.72,211.3 208.80,210.7 208.88,209.9 208.96,209.0 209.04,207.7 209.12,206.1 209.20,203.9 209.28,201.2 209.36,197.9 209.44,194.3 209.52,191.3 209.60,190.0 209.68,191.1 209.76,193.9 209.84,197.2 209.92,200.3 210.00,202.8 210.08,204.6 210.16,206.0 210.24,206.9 210.32,207.5 210.40,207.9 210.48,208.0 210.56,208.0 210.64,207.7 210.72,207.2 210.80,206.5 210.88,205.5 210.96,204.2 211.04,202.3 211.12,199.9 211.20,196.7 211.28,193.0 211.36,189.1 211.44,186.0 211.52,185.0 211.60,186.4 211.68,189.3 211.76,192.4 211.84,195.0 211.92,196.8 212.00,197.9 212.08,198.2 212.16,197.9 212.24,196.9 212.32,195.4 212.40,193.4 212.48,190.7 212.56,187.5 212.64,184.1 212.72,180.8 212.80,178.2 212.88,177.0 212.96,177.6 213.04,179.8 213.12,183.1 213.20,186.8 213.28,190.5 213.36,193.8 213.44,196.6 213.52,199.0 213.60,200.9 213.68,202.5 213.76,203.7 213.84,204.7 213.92,205.4 214.00,205.9 214.08,206.1 214.16,206.2 214.24,206.1 214.32,205.6 214.40,204.9 214.48,203.8 214.56,202.2 214.64,200.0 214.72,197.1 214.80,193.8 214.88,190.4 214.96,188.3 215.04,188.4 215.12,190.8 215.20,194.3 215.28,198.0 215.36,201.1 215.44,203.6 215.52,205.5 215.60,206.9 215.68,208.0 215.76,208.9 215.84,209.5 215.92,210.0 216.00,210.3 216.08,210.6 216.16,210.7 216.24,210.8 216.32,210.8 216.40,210.8 216.48,210.6 216.56,210.4 216.64,210.0 216.72,209.6 216.80,209.0 216.88,208.3 216.96,207.4 217.04,206.3 217.12,205.1 217.20,203.7 217.28,202.2 217.36,201.0 217.44,200.2 217.52,200.0 217.60,200.6 217.68,201.7 217.76,203.1 217.84,204.6 217.92,206.1 218.00,207.3 218.08,208.4 218.16,209.3 218.24,210.0 218.32,210.6 218.40,211.1 218.48,211.5 218.56,211.8 218.64,212.0 218.72,212.2 218.80,212.4 218.88,212.5 218.96,212.5 219.04,212.5 219.12,212.5 219.20,212.4 219.28,212.3 219.36,212.1 219.44,211.9 219.52,211.5 219.60,211.0 219.68,210.4 219.76,209.5 219.84,208.4 219.92,206.8 220.00,204.6 220.08,201.5 220.16,197.5 220.24,192.7 220.32,188.4 220.40,186.5 220.48,188.4 220.56,192.9 220.64,197.7 220.72,201.7 220.80,204.8 220.88,207.1 220.96,208.8 221.04,210.0 221.12,210.9 221.20,211.6 221.28,212.2 221.36,212.6 221.44,213.0 221.52,213.3 221.60,213.5 221.68,213.7 221.76,213.9 221.84,214.0 221.92,214.2 222.00,214.3 222.08,214.3 222.16,214.4 222.24,214.5 222.32,214.5 222.40,214.6 222.48,214.6 222.56,214.7 222.64,214.7 222.72,214.7 222.80,214.7 222.88,214.7 222.96,214.7 223.04,214.7 223.12,214.7 223.20,214.7 223.28,214.6 223.36,214.6 223.44,214.5 223.52,214.5 223.60,214.4 223.68,214.2 223.76,214.0 223.84,213.8 223.92,213.5 224.00,213.1 224.08,212.5 224.16,211.6 224.24,210.5 224.32,209.2 224.40,207.8 224.48,207.0 224.56,207.3 224.64,208.5 224.72,209.9 224.80,211.1 224.88,212.1 224.96,212.8 225.04,213.3 225.12,213.7 225.20,214.0 225.28,214.2 225.36,214.4 225.44,214.5 225.52,214.6 225.60,214.6 225.68,214.7 225.76,214.7 225.84,214.8 225.92,214.8 226.00,214.8 226.08,214.8 226.16,214.8 226.24,214.8 226.32,214.7 226.40,214.7 226.48,214.7 226.56,214.6 226.64,214.5 226.72,214.4 226.80,214.2 226.88,214.0 226.96,213.7 227.04,213.3 227.12,212.8 227.20,212.1 227.28,211.2 227.36,210.1 227.44,209.2 227.52,209.0 227.60,209.6 227.68,210.5 227.76,211.5 227.84,212.3 227.92,212.9 228.00,213.3 228.08,213.5 228.16,213.7 228.24,213.9 228.32,213.9 228.40,214.0 228.48,214.0 228.56,214.0 228.64,213.9 228.72,213.9 228.80,213.8 228.88,213.7 228.96,213.5 229.04,213.4 229.12,213.2 229.20,212.9 229.28,212.7 229.36,212.3 229.44,211.9 229.52,211.4 229.60,210.8 229.68,210.0 229.76,209.0 229.84,207.8 229.92,206.2 230.00,204.1 230.08,201.2 230.16,197.3 230.24,192.0 230.32,184.8 230.40,175.7 230.48,165.9 230.56,159.0 230.64,159.0 230.72,166.0 230.80,175.7 230.88,184.8 230.96,192.0 231.04,197.3 231.12,201.2 231.20,204.1 231.28,206.2 231.36,207.9 231.44,209.1 231.52,210.1 231.60,210.9 231.68,211.5 231.76,212.0 231.84,212.4 231.92,212.8 232.00,213.1 232.08,213.3 232.16,213.5 232.24,213.7 232.32,213.9 232.40,214.0 232.48,214.1 232.56,214.2 232.64,214.3 232.72,214.4 232.80,214.4 232.88,214.5 232.96,214.5 233.04,214.6 233.12,214.6 233.20,214.6 233.28,214.6 233.36,214.6 233.44,214.5 233.52,214.5 233.60,214.4 233.68,214.3 233.76,214.2 233.84,214.0 233.92,213.7 234.00,213.3 234.08,212.8 234.16,212.1 234.24,211.1 234.32,209.9 234.40,208.7 234.48,208.0 234.56,208.3 234.64,209.3 234.72,210.6 234.80,211.7 234.88,212.6 234.96,213.2 235.04,213.7 235.12,214.1 235.20,214.3 235.28,214.5 235.36,214.7 235.44,214.8 235.52,214.9 235.60,215.0 235.68,215.0 235.76,215.1 235.84,215.1 235.92,215.2 236.00,215.2 236.08,215.2 236.16,215.3 236.24,215.3 236.32,215.3 236.40,215.3 236.48,215.3 236.56,215.3 236.64,215.3 236.72,215.4 236.80,215.4 236.88,215.4 236.96,215.4 237.04,215.4 237.12,215.3 237.20,215.3 237.28,215.3 237.36,215.3 237.44,215.3 237.52,215.3 237.60,215.3 237.68,215.3 237.76,215.2 237.84,215.2 237.92,215.2 238.00,215.1 238.08,215.1 238.16,215.0 238.24,215.0 238.32,214.9 238.40,214.8 238.48,214.7 238.56,214.6 238.64,214.4 238.72,214.2 238.80,213.9 238.88,213.6 238.96,213.2 239.04,212.7 239.12,211.9 239.20,211.0 239.28,209.8 239.36,208.4 239.44,206.8 239.52,205.5 239.60,205.0 239.68,205.5 239.76,206.8 239.84,208.4 239.92,209.8 240.00,211.0 240.08,211.9 240.16,212.6 240.24,213.1 240.32,213.6 240.40,213.9 240.48,214.1 240.56,214.3 240.64,214.5 240.72,214.6 240.80,214.7 240.88,214.8 240.96,214.8 241.04,214.9 241.12,214.9 241.20,215.0 241.28,215.0 241.36,215.0 241.44,215.0 241.52,215.0 241.60,215.0 241.68,215.0 241.76,214.9 241.84,214.9 241.92,214.8 242.00,214.7 242.08,214.6 242.16,214.5 242.24,214.3 242.32,214.1 242.40,213.8 242.48,213.5 242.56,213.0 242.64,212.3 242.72,211.5 242.80,210.6 242.88,209.7 242.96,209.1 243.04,209.1 243.12,209.7 243.20,210.6 243.28,211.5 243.36,212.3 243.44,212.9 243.52,213.4 243.60,213.7 243.68,214.0 243.76,214.2 243.84,214.4 243.92,214.5 244.00,214.6 244.08,214.6 244.16,214.7 244.24,214.7 244.32,214.7 244.40,214.7 244.48,214.7 244.56,214.6 244.64,214.6 244.72,214.5 244.80,214.4 244.88,214.3 244.96,214.2 245.04,214.0 245.12,213.7 245.20,213.4 245.28,213.1 245.36,212.6 245.44,212.0 245.52,211.1 245.60,210.1 245.68,208.7 245.76,207.0 245.84,205.2 245.92,203.6 246.00,203.0 246.08,203.6 246.16,205.1 246.24,206.9 246.32,208.6 246.40,210.0 246.48,211.0 246.56,211.8 246.64,212.4 246.72,212.9 246.80,213.2 246.88,213.5 246.96,213.7 247.04,213.8 247.12,213.9 247.20,214.0 247.28,214.1 247.36,214.1 247.44,214.1 247.52,214.0 247.60,214.0 247.68,213.9 247.76,213.8 247.84,213.6 247.92,213.4 248.00,213.2 248.08,212.9 248.16,212.5 248.24,212.0 248.32,211.3 248.40,210.4 248.48,209.3 248.56,207.9 248.64,206.0 248.72,203.6 248.80,200.8 248.88,198.0 248.96,196.3 249.04,196.2 249.12,198.0 249.20,200.8 249.28,203.5 249.36,205.9 249.44,207.8 249.52,209.3 249.60,210.4 249.68,211.2 249.76,211.9 249.84,212.4 249.92,212.7 250.00,213.0 250.08,213.3 250.16,213.5 250.24,213.6 250.32,213.7 250.40,213.7 250.48,213.8 250.56,213.8 250.64,213.8 250.72,213.7 250.80,213.6 250.88,213.5 250.96,213.3 251.04,213.1 251.12,212.8 251.20,212.4 251.28,211.9 251.36,211.2 251.44,210.4 251.52,209.3 251.60,207.8 251.68,205.9 251.76,203.5 251.84,201.0 251.92,198.9 252.00,198.0 252.08,198.9 252.16,201.0 252.24,203.5 252.32,205.9 252.40,207.8 252.48,209.3 252.56,210.4 252.64,211.3 252.72,211.9 252.80,212.4 252.88,212.8 252.96,213.1 253.04,213.3 253.12,213.5 253.20,213.6 253.28,213.7 253.36,213.8 253.44,213.8 253.52,213.8 253.60,213.8 253.68,213.7 253.76,213.6 253.84,213.4 253.92,213.2 254.00,212.9 254.08,212.6 254.16,212.1 254.24,211.4 254.32,210.6 254.40,209.5 254.48,208.0 254.56,206.2 254.64,204.3 254.72,202.7 254.80,202.0 254.88,202.7 254.96,204.3 255.04,206.2 255.12,208.0 255.20,209.4 255.28,210.5 255.36,211.4 255.44,212.0 255.52,212.5 255.60,212.9 255.68,213.1 255.76,213.3 255.84,213.5 255.92,213.6 256.00,213.6 256.08,213.6 256.16,213.6 256.24,213.5 256.32,213.4 256.40,213.2 256.48,212.9 256.56,212.6 256.64,212.2 256.72,211.6 256.80,210.9 256.88,209.9 256.96,208.6 257.04,206.9 257.12,204.8 257.20,202.3 257.28,199.8 257.36,198.2 257.44,198.2 257.52,199.8 257.60,202.3 257.68,204.8 257.76,207.0 257.84,208.7 257.92,210.0 258.00,211.0 258.08,211.8 258.16,212.4 258.24,212.9 258.32,213.2 258.40,213.5 258.48,213.7 258.56,213.9 258.64,214.1 258.72,214.2 258.80,214.3 258.88,214.4 258.96,214.4 259.04,214.4 259.12,214.4 259.20,214.4 259.28,214.4 259.36,214.4 259.44,214.3 259.52,214.2 259.60,214.0 259.68,213.9 259.76,213.6 259.84,213.3 259.92,212.9 260.00,212.3 260.08,211.5 260.16,210.6 260.24,209.3 260.32,208.0 260.40,206.7 260.48,206.0 260.56,206.3 260.64,207.3 260.72,208.7 260.80,210.0 260.88,211.1 260.96,212.0 261.04,212.7 261.12,213.2 261.20,213.6 261.28,213.9 261.36,214.1 261.44,214.3 261.52,214.4 261.60,214.6 261.68,214.6 261.76,214.7 261.84,214.8 261.92,214.8 262.00,214.8 262.08,214.8 262.16,214.8 262.24,214.8 262.32,214.7 262.40,214.7 262.48,214.6 262.56,214.5 262.64,214.4 262.72,214.2 262.80,214.0 262.88,213.7 262.96,213.3 263.04,212.7 263.12,212.1 263.20,211.2 263.28,210.1 263.36,209.0 263.44,208.2 263.52,208.0 263.60,208.6 263.68,209.6 263.76,210.7 263.84,211.6 263.92,212.4 264.00,213.0 264.08,213.4 264.16,213.8 264.24,214.0 264.32,214.2 264.40,214.4 264.48,214.5 264.56,214.6 264.64,214.6 264.72,214.7 264.80,214.7 264.88,214.7 264.96,214.7 265.04,214.7 265.12,214.6 265.20,214.6 265.28,214.5 265.36,214.4 265.44,214.2 265.52,214.1 265.60,213.8 265.68,213.6 265.76,213.2 265.84,212.8 265.92,212.2 266.00,211.4 266.08,210.4 266.16,209.1 266.24,207.5 266.32,205.6 266.40,204.0 266.48,203.0 266.56,203.3 266.64,204.7 266.72,206.5 266.80,208.2 266.88,209.7 266.96,210.8 267.04,211.7 267.12,212.3 267.20,212.8 267.28,213.2 267.36,213.5 267.44,213.7 267.52,213.9 267.60,214.0 267.68,214.1 267.76,214.1 267.84,214.1 267.92,214.1 268.00,214.1 268.08,214.0 268.16,213.9 268.24,213.8 268.32,213.6 268.40,213.4 268.48,213.1 268.56,212.7 268.64,212.2 268.72,211.6 268.80,210.8 268.88,209.7 268.96,208.3 269.04,206.5 269.12,204.2 269.20,201.6 269.28,198.9 269.36,197.2 269.44,197.2 269.52,199.0 269.60,201.6 269.68,204.2 269.76,206.5 269.84,208.4 269.92,209.8 270.00,210.8 270.08,211.7 270.16,212.3 270.24,212.8 270.32,213.2 270.40,213.5 270.48,213.7 270.56,213.9 270.64,214.0 270.72,214.2 270.80,214.3 270.88,214.3 270.96,214.4 271.04,214.4 271.12,214.4 271.20,214.4 271.28,214.4 271.36,214.3 271.44,214.2 271.52,214.1 271.60,213.9 271.68,213.7 271.76,213.4 271.84,213.1 271.92,212.6 272.00,212.0 272.08,211.1 272.16,210.1 272.24,208.7 272.32,207.2 272.40,205.8 272.48,205.0 272.56,205.3 272.64,206.4 272.72,207.9 272.80,209.4 272.88,210.6 272.96,211.6 273.04,212.3 273.12,212.8 273.20,213.2 273.28,213.5 273.36,213.8 273.44,213.9 273.52,214.1 273.60,214.1 273.68,214.2 273.76,214.2 273.84,214.2 273.92,214.1 274.00,214.0 274.08,213.9 274.16,213.7 274.24,213.5 274.32,213.1 274.40,212.7 274.48,212.1 274.56,211.3 274.64,210.3 274.72,209.1 274.80,207.6 274.88,206.1 274.96,205.1 275.04,205.1 275.12,206.1 275.20,207.6 275.28,209.0 275.36,210.3 275.44,211.3 275.52,212.1 275.60,212.7 275.68,213.1 275.76,213.4 275.84,213.7 275.92,213.9 276.00,214.0 276.08,214.1 276.16,214.1 276.24,214.1 276.32,214.1 276.40,214.1 276.48,214.0 276.56,213.9 276.64,213.7 276.72,213.5 276.80,213.3 276.88,212.9 276.96,212.5 277.04,211.9 277.12,211.1 277.20,210.1 277.28,208.8 277.36,207.0 277.44,204.9 277.52,202.5 277.60,200.2 277.68,199.1 277.76,199.5 277.84,201.3 277.92,203.7 278.00,206.1 278.08,208.1 278.16,209.6 278.24,210.8 278.32,211.7 278.40,212.4 278.48,212.9 278.56,213.3 278.64,213.7 278.72,214.0 278.80,214.2 278.88,214.4 278.96,214.5 279.04,214.6 279.12,214.7 279.20,214.8 279.28,214.9 279.36,214.9 279.44,215.0 279.52,215.0 279.60,215.0 279.68,215.0 279.76,215.0 279.84,215.0 279.92,214.9 280.00,214.9 280.08,214.8 280.16,214.7 280.24,214.6 280.32,214.4 280.40,214.2 280.48,213.8 280.56,213.4 280.64,212.9 280.72,212.2 280.80,211.4 280.88,210.6 280.96,210.1 281.04,210.1 281.12,210.6 281.20,211.4 281.28,212.2 281.36,212.9 281.44,213.5 281.52,213.9 281.60,214.3 281.68,214.5 281.76,214.7 281.84,214.9 281.92,215.0 282.00,215.1 282.08,215.2 282.16,215.2 282.24,215.3 282.32,215.3 282.40,215.4 282.48,215.4 282.56,215.4 282.64,215.4 282.72,215.4 282.80,215.4 282.88,215.4 282.96,215.4 283.04,215.4 283.12,215.4 283.20,215.4 283.28,215.3 283.36,215.3 283.44,215.3 283.52,215.2 283.60,215.2 283.68,215.1 283.76,215.0 283.84,214.9 283.92,214.8 284.00,214.7 284.08,214.5 284.16,214.2 284.24,213.9 284.32,213.6 284.40,213.1 284.48,212.5 284.56,211.6 284.64,210.6 284.72,209.2 284.80,207.7 284.88,206.1 284.96,205.1 285.04,205.1 285.12,206.1 285.20,207.7 285.28,209.2 285.36,210.6 285.44,211.6 285.52,212.5 285.60,213.1 285.68,213.6 285.76,213.9 285.84,214.2 285.92,214.4 286.00,214.6 286.08,214.8 286.16,214.9 286.24,215.0 286.32,215.1 286.40,215.1 286.48,215.2 286.56,215.2 286.64,215.2 286.72,215.3 286.80,215.3 286.88,215.3 286.96,215.3 287.04,215.3 287.12,215.2 287.20,215.2 287.28,215.2 287.36,215.1 287.44,215.0 287.52,215.0 287.60,214.8 287.68,214.7 287.76,214.5 287.84,214.3 287.92,214.0 288.00,213.5 288.08,213.0 288.16,212.3 288.24,211.4 288.32,210.4 288.40,209.5 288.48,209.0 288.56,209.2 288.64,209.9 288.72,210.9 288.80,211.9 288.88,212.7 288.96,213.3 289.04,213.8 289.12,214.1 289.20,214.4 289.28,214.6 289.36,214.8 289.44,214.9 289.52,215.0 289.60,215.1 289.68,215.1 289.76,215.2 289.84,215.2 289.92,215.2 290.00,215.3 290.08,215.3 290.16,215.3 290.24,215.3 290.32,215.3 290.40,215.2 290.48,215.2 290.56,215.2 290.64,215.2 290.72,215.1 290.80,215.1 290.88,215.0 290.96,214.9 291.04,214.8 291.12,214.7 291.20,214.6 291.28,214.4 291.36,214.2 291.44,214.0 291.52,213.7 291.60,213.4 291.68,213.0 291.76,212.4 291.84,211.7 291.92,210.8 292.00,209.7 292.08,208.1 292.16,206.2 292.24,203.7 292.32,201.0 292.40,198.4 292.48,197.1 292.56,197.5 292.64,199.6 292.72,202.3 292.80,205.0 292.88,207.2 292.96,208.9 293.04,210.2 293.12,211.2 293.20,212.0 293.28,212.6 293.36,213.1 293.44,213.4 293.52,213.7 293.60,214.0 293.68,214.1 293.76,214.3 293.84,214.4 293.92,214.5 294.00,214.5 294.08,214.6 294.16,214.6 294.24,214.6 294.32,214.6 294.40,214.5 294.48,214.4 294.56,214.3 294.64,214.1 294.72,213.9 294.80,213.6 294.88,213.3 294.96,212.8 295.04,212.1 295.12,211.2 295.20,210.1 295.28,208.7 295.36,207.3 295.44,206.3 295.52,206.0 295.60,206.7 295.68,208.1 295.76,209.5 295.84,210.8 295.92,211.8 296.00,212.6 296.08,213.2 296.16,213.7 296.24,214.0 296.32,214.3 296.40,214.5 296.48,214.7 296.56,214.8 296.64,215.0 296.72,215.0 296.80,215.1 296.88,215.2 296.96,215.2 297.04,215.3 297.12,215.3 297.20,215.3 297.28,215.3 297.36,215.3 297.44,215.3 297.52,215.3 297.60,215.3 297.68,215.3 297.76,215.2 297.84,215.2 297.92,215.1 298.00,215.0 298.08,214.9 298.16,214.8 298.24,214.6 298.32,214.4 298.40,214.1 298.48,213.7 298.56,213.2 298.64,212.5 298.72,211.7 298.80,210.7 298.88,209.7 298.96,209.1 299.04,209.1 299.12,209.7 299.20,210.7 299.28,211.7 299.36,212.6 299.44,213.2 299.52,213.8 299.60,214.2 299.68,214.5 299.76,214.7 299.84,214.9 299.92,215.0 300.00,215.1 300.08,215.2 300.16,215.3 300.24,215.4 300.32,215.4 300.40,215.5 300.48,215.5 300.56,215.5 300.64,215.6 300.72,215.6 300.80,215.6 300.88,215.6 300.96,215.6 301.04,215.6 301.12,215.6 301.20,215.6 301.28,215.6 301.36,215.5 301.44,215.5 301.52,215.5 301.60,215.5 301.68,215.4 301.76,215.4 301.84,215.3 301.92,215.2 302.00,215.1 302.08,215.0 302.16,214.8 302.24,214.6 302.32,214.4 302.40,214.1 302.48,213.7 302.56,213.3 302.64,212.7 302.72,212.0 302.80,211.2 302.88,210.5 302.96,210.1 303.04,210.1 303.12,210.5 303.20,211.2 303.28,211.9 303.36,212.6 303.44,213.2 303.52,213.7 303.60,214.1 303.68,214.4 303.76,214.6 303.84,214.8 303.92,214.9 304.00,215.0 304.08,215.1 304.16,215.2 304.24,215.2 304.32,215.3 304.40,215.3 304.48,215.3 304.56,215.3 304.64,215.3 304.72,215.3 304.80,215.3 304.88,215.2 304.96,215.2 305.04,215.1 305.12,215.0 305.20,214.9 305.28,214.7 305.36,214.5 305.44,214.2 305.52,213.9 305.60,213.4 305.68,212.9 305.76,212.3 305.84,211.7 305.92,211.2 306.00,211.0 306.08,211.2 306.16,211.7 306.24,212.3 306.32,212.9 306.40,213.4 306.48,213.9 306.56,214.2 306.64,214.5 306.72,214.7 306.80,214.9 306.88,215.0 306.96,215.1 307.04,215.2 307.12,215.3 307.20,215.3 307.28,215.4 307.36,215.4 307.44,215.4 307.52,215.4 307.60,215.4 307.68,215.4 307.76,215.4 307.84,215.4 307.92,215.3 308.00,215.3 308.08,215.2 308.16,215.1 308.24,215.0 308.32,214.9 308.40,214.7 308.48,214.5 308.56,214.3 308.64,213.9 308.72,213.5 308.80,213.0 308.88,212.3 308.96,211.6 309.04,210.8 309.12,210.2 309.20,210.0 309.28,210.2 309.36,210.8 309.44,211.6 309.52,212.3 309.60,213.0 309.68,213.5 309.76,214.0 309.84,214.3 309.92,214.6 310.00,214.8 310.08,214.9 310.16,215.1 310.24,215.2 310.32,215.3 310.40,215.4 310.48,215.4 310.56,215.5 310.64,215.5 310.72,215.5 310.80,215.6 310.88,215.6 310.96,215.6 311.04,215.6 311.12,215.6 311.20,215.6 311.28,215.6 311.36,215.6 311.44,215.6 311.52,215.6 311.60,215.5 311.68,215.5 311.76,215.5 311.84,215.4 311.92,215.3 312.00,215.3 312.08,215.2 312.16,215.0 312.24,214.9 312.32,214.7 312.40,214.4 312.48,214.1 312.56,213.7 312.64,213.2 312.72,212.6 312.80,212.0 312.88,211.4 312.96,211.0 313.04,211.0 313.12,211.4 313.20,212.0 313.28,212.6 313.36,213.2 313.44,213.7 313.52,214.1 313.60,214.5 313.68,214.7 313.76,214.9 313.84,215.1 313.92,215.2 314.00,215.3 314.08,215.4 314.16,215.4 314.24,215.5 314.32,215.5 314.40,215.6 314.48,215.6 314.56,215.6 314.64,215.7 314.72,215.7 314.80,215.7 314.88,215.7 314.96,215.7 315.04,215.7 315.12,215.7 315.20,215.7 315.28,215.7 315.36,215.7 315.44,215.6 315.52,215.6 315.60,215.6 315.68,215.5 315.76,215.5 315.84,215.4 315.92,215.4 316.00,215.3 316.08,215.2 316.16,215.1 316.24,214.9 316.32,214.7 316.40,214.5 316.48,214.1 316.56,213.7 316.64,213.2 316.72,212.6 316.80,212.0 316.88,211.4 316.96,211.1 317.04,211.0 317.12,211.4 317.20,212.0 317.28,212.6 317.36,213.2 317.44,213.7 317.52,214.1 317.60,214.4 317.68,214.7 317.76,214.9 317.84,215.0 317.92,215.2 318.00,215.3 318.08,215.3 318.16,215.4 318.24,215.4 318.32,215.5 318.40,215.5 318.48,215.5 318.56,215.6 318.64,215.6 318.72,215.6 318.80,215.6 318.88,215.6 318.96,215.6 319.04,215.6 319.12,215.6 319.20,215.6 319.28,215.5 319.36,215.5 319.44,215.5 319.52,215.4 319.60,215.4 319.68,215.3 319.76,215.3 319.84,215.2 319.92,215.1 320.00,215.0 320.08,214.8 320.16,214.6 320.24,214.4 320.32,214.1 320.40,213.8 320.48,213.3 320.56,212.8 320.64,212.1 320.72,211.3 320.80,210.4 320.88,209.6 320.96,209.1 321.04,209.1 321.12,209.5 321.20,210.3 321.28,211.2 321.36,212.0 321.44,212.7 321.52,213.2 321.60,213.6 321.68,214.0 321.76,214.2 321.84,214.4 321.92,214.5 322.00,214.7 322.08,214.7 322.16,214.8 322.24,214.8 322.32,214.8 322.40,214.8 322.48,214.8 322.56,214.8 322.64,214.7 322.72,214.7 322.80,214.6 322.88,214.5 322.96,214.3 323.04,214.1 323.12,213.9 323.20,213.6 323.28,213.2 323.36,212.7 323.44,212.1 323.52,211.3 323.60,210.4 323.68,209.2 323.76,207.9 323.84,206.5 323.92,205.4 324.00,205.0 324.08,205.4 324.16,206.4 324.24,207.8 324.32,209.1 324.40,210.2 324.48,211.1 324.56,211.9 324.64,212.4 324.72,212.9 324.80,213.2 324.88,213.4 324.96,213.6 325.04,213.8 325.12,213.8 325.20,213.9 325.28,213.9 325.36,213.8 325.44,213.7 325.52,213.6 325.60,213.5 325.68,213.2 325.76,212.9 325.84,212.6 325.92,212.1 326.00,211.5 326.08,210.7 326.16,209.7 326.24,208.5 326.32,206.9 326.40,205.0 326.48,202.9 326.56,200.8 326.64,199.4 326.72,199.0 326.80,200.0 326.88,201.8 326.96,204.0 327.04,206.0 327.12,207.8 327.20,209.2 327.28,210.4 327.36,211.3 327.44,212.0 327.52,212.5 327.60,213.0 327.68,213.3 327.76,213.6 327.84,213.9 327.92,214.1 328.00,214.2 328.08,214.3 328.16,214.4 328.24,214.5 328.32,214.6 328.40,214.6 328.48,214.6 328.56,214.6 328.64,214.6 328.72,214.6 328.80,214.5 328.88,214.5 328.96,214.4 329.04,214.2 329.12,214.1 329.20,213.8 329.28,213.5 329.36,213.2 329.44,212.7 329.52,212.1 329.60,211.3 329.68,210.4 329.76,209.3 329.84,208.2 329.92,207.3 330.00,207.0 330.08,207.3 330.16,208.2 330.24,209.3 330.32,210.4 330.40,211.3 330.48,212.1 330.56,212.7 330.64,213.2 330.72,213.6 330.80,213.9 330.88,214.1 330.96,214.3 331.04,214.4 331.12,214.5 331.20,214.6 331.28,214.6 331.36,214.7 331.44,214.7 331.52,214.7 331.60,214.7 331.68,214.6 331.76,214.5 331.84,214.5 331.92,214.4 332.00,214.2 332.08,214.1 332.16,213.8 332.24,213.6 332.32,213.2 332.40,212.8 332.48,212.3 332.56,211.7 332.64,210.8 332.72,209.8 332.80,208.4 332.88,206.8 332.96,204.9 333.04,203.0 333.12,201.6 333.20,201.0 333.28,201.6 333.36,203.0 333.44,204.9 333.52,206.8 333.60,208.4 333.68,209.8 333.76,210.8 333.84,211.7 333.92,212.3 334.00,212.8 334.08,213.2 334.16,213.6 334.24,213.8 334.32,214.0 334.40,214.2 334.48,214.3 334.56,214.4 334.64,214.4 334.72,214.5 334.80,214.5 334.88,214.5 334.96,214.4 335.04,214.3 335.12,214.2 335.20,214.0 335.28,213.8 335.36,213.5 335.44,213.0 335.52,212.5 335.60,211.8 335.68,211.0 335.76,210.0 335.84,209.0 335.92,208.3 336.00,208.0 336.08,208.3 336.16,209.1 336.24,210.1 336.32,211.1 336.40,212.0 336.48,212.7 336.56,213.3 336.64,213.8 336.72,214.1 336.80,214.4 336.88,214.7 336.96,214.9 337.04,215.0 337.12,215.2 337.20,215.3 337.28,215.4 337.36,215.4 337.44,215.5 337.52,215.6 337.60,215.6 337.68,215.7 337.76,215.7 337.84,215.8 337.92,215.8" fill="none" stroke="#f00" stroke-width="2.7" stroke-linejoin="round"/>
<g fill="#178a8a"><rect x="31.3" y="224" width="1" height="10.5"/><rect x="49.1" y="224" width="1" height="10.5"/><rect x="58.3" y="224" width="1" height="10.5"/><rect x="67.4" y="224" width="1" height="10.5"/><rect x="75.0" y="224" width="1" height="10.5"/><rect x="80.3" y="224" width="1" height="10.5"/><rect x="81.3" y="224" width="1" height="10.5"/><rect x="82.3" y="224" width="1" height="10.5"/><rect x="88.3" y="224" width="1" height="10.5"/><rect x="98.1" y="224" width="1" height="10.5"/><rect x="100.7" y="224" width="1" height="10.5"/><rect x="101.8" y="224" width="1" height="10.5"/><rect x="102.9" y="224" width="1" height="10.5"/><rect x="111.4" y="224" width="1" height="10.5"/><rect x="113.2" y="224" width="1" height="10.5"/><rect x="114.8" y="224" width="1" height="10.5"/><rect x="118.5" y="224" width="1" height="10.5"/><rect x="120.1" y="224" width="1" height="10.5"/><rect x="124.8" y="224" width="1" height="10.5"/><rect x="125.8" y="224" width="1" height="10.5"/><rect x="126.8" y="224" width="1" height="10.5"/><rect x="127.8" y="224" width="1" height="10.5"/><rect x="128.8" y="224" width="1" height="10.5"/><rect x="130.7" y="224" width="1" height="10.5"/><rect x="134.2" y="224" width="1" height="10.5"/><rect x="136.9" y="224" width="1" height="10.5"/><rect x="141.8" y="224" width="1" height="10.5"/><rect x="149.1" y="224" width="1" height="10.5"/><rect x="150.5" y="224" width="1" height="10.5"/><rect x="158.9" y="224" width="1" height="10.5"/><rect x="162.6" y="224" width="1" height="10.5"/><rect x="165.5" y="224" width="1" height="10.5"/><rect x="166.3" y="224" width="1" height="10.5"/><rect x="167.5" y="224" width="1" height="10.5"/><rect x="168.7" y="224" width="1" height="10.5"/><rect x="169.5" y="224" width="1" height="10.5"/><rect x="170.4" y="224" width="1" height="10.5"/><rect x="171.6" y="224" width="1" height="10.5"/><rect x="172.6" y="224" width="1" height="10.5"/><rect x="173.4" y="224" width="1" height="10.5"/><rect x="174.6" y="224" width="1" height="10.5"/><rect x="175.3" y="224" width="1" height="10.5"/><rect x="176.5" y="224" width="1" height="10.5"/><rect x="177.2" y="224" width="1" height="10.5"/><rect x="178.2" y="224" width="1" height="10.5"/><rect x="179.1" y="224" width="1" height="10.5"/><rect x="181.1" y="224" width="1" height="10.5"/><rect x="181.9" y="224" width="1" height="10.5"/><rect x="182.7" y="224" width="1" height="10.5"/><rect x="183.7" y="224" width="1" height="10.5"/><rect x="184.9" y="224" width="1" height="10.5"/><rect x="186.1" y="224" width="1" height="10.5"/><rect x="187.1" y="224" width="1" height="10.5"/><rect x="188.1" y="224" width="1" height="10.5"/><rect x="188.9" y="224" width="1" height="10.5"/><rect x="189.7" y="224" width="1" height="10.5"/><rect x="190.5" y="224" width="1" height="10.5"/><rect x="191.3" y="224" width="1" height="10.5"/><rect x="192.1" y="224" width="1" height="10.5"/><rect x="193.3" y="224" width="1" height="10.5"/><rect x="194.3" y="224" width="1" height="10.5"/><rect x="195.1" y="224" width="1" height="10.5"/><rect x="195.8" y="224" width="1" height="10.5"/><rect x="196.6" y="224" width="1" height="10.5"/><rect x="200.0" y="224" width="1" height="10.5"/><rect x="202.5" y="224" width="1" height="10.5"/><rect x="206.5" y="224" width="1" height="10.5"/><rect x="207.3" y="224" width="1" height="10.5"/><rect x="208.3" y="224" width="1" height="10.5"/><rect x="209.3" y="224" width="1" height="10.5"/><rect x="210.1" y="224" width="1" height="10.5"/><rect x="211.3" y="224" width="1" height="10.5"/><rect x="212.3" y="224" width="1" height="10.5"/><rect x="213.1" y="224" width="1" height="10.5"/><rect x="214.0" y="224" width="1" height="10.5"/><rect x="214.7" y="224" width="1" height="10.5"/><rect x="215.4" y="224" width="1" height="10.5"/><rect x="216.2" y="224" width="1" height="10.5"/><rect x="217.2" y="224" width="1" height="10.5"/><rect x="218.0" y="224" width="1" height="10.5"/><rect x="220.7" y="224" width="1" height="10.5"/><rect x="221.5" y="224" width="1" height="10.5"/><rect x="222.4" y="224" width="1" height="10.5"/><rect x="224.6" y="224" width="1" height="10.5"/><rect x="225.6" y="224" width="1" height="10.5"/><rect x="226.8" y="224" width="1" height="10.5"/><rect x="227.7" y="224" width="1" height="10.5"/><rect x="228.9" y="224" width="1" height="10.5"/><rect x="230.1" y="224" width="1" height="10.5"/><rect x="231.1" y="224" width="1" height="10.5"/><rect x="234.0" y="224" width="1" height="10.5"/><rect x="234.8" y="224" width="1" height="10.5"/><rect x="235.5" y="224" width="1" height="10.5"/><rect x="236.4" y="224" width="1" height="10.5"/><rect x="237.6" y="224" width="1" height="10.5"/><rect x="238.4" y="224" width="1" height="10.5"/><rect x="239.2" y="224" width="1" height="10.5"/><rect x="240.0" y="224" width="1" height="10.5"/><rect x="240.8" y="224" width="1" height="10.5"/><rect x="241.7" y="224" width="1" height="10.5"/><rect x="242.9" y="224" width="1" height="10.5"/><rect x="245.3" y="224" width="1" height="10.5"/><rect x="246.0" y="224" width="1" height="10.5"/><rect x="246.8" y="224" width="1" height="10.5"/><rect x="247.6" y="224" width="1" height="10.5"/><rect x="248.4" y="224" width="1" height="10.5"/><rect x="249.2" y="224" width="1" height="10.5"/><rect x="250.4" y="224" width="1" height="10.5"/><rect x="251.3" y="224" width="1" height="10.5"/><rect x="252.2" y="224" width="1" height="10.5"/><rect x="252.9" y="224" width="1" height="10.5"/><rect x="253.6" y="224" width="1" height="10.5"/><rect x="254.6" y="224" width="1" height="10.5"/><rect x="255.4" y="224" width="1" height="10.5"/><rect x="256.4" y="224" width="1" height="10.5"/><rect x="257.1" y="224" width="1" height="10.5"/><rect x="258.0" y="224" width="1" height="10.5"/><rect x="258.7" y="224" width="1" height="10.5"/><rect x="261.2" y="224" width="1" height="10.5"/><rect x="262.1" y="224" width="1" height="10.5"/><rect x="263.1" y="224" width="1" height="10.5"/><rect x="264.1" y="224" width="1" height="10.5"/><rect x="264.8" y="224" width="1" height="10.5"/><rect x="265.5" y="224" width="1" height="10.5"/><rect x="266.7" y="224" width="1" height="10.5"/><rect x="267.9" y="224" width="1" height="10.5"/><rect x="268.6" y="224" width="1" height="10.5"/><rect x="269.6" y="224" width="1" height="10.5"/><rect x="270.4" y="224" width="1" height="10.5"/><rect x="271.6" y="224" width="1" height="10.5"/><rect x="272.5" y="224" width="1" height="10.5"/><rect x="273.7" y="224" width="1" height="10.5"/><rect x="274.6" y="224" width="1" height="10.5"/><rect x="275.8" y="224" width="1" height="10.5"/><rect x="276.6" y="224" width="1" height="10.5"/><rect x="277.3" y="224" width="1" height="10.5"/><rect x="278.2" y="224" width="1" height="10.5"/><rect x="278.9" y="224" width="1" height="10.5"/><rect x="279.6" y="224" width="1" height="10.5"/><rect x="281.5" y="224" width="1" height="10.5"/><rect x="282.7" y="224" width="1" height="10.5"/><rect x="283.4" y="224" width="1" height="10.5"/><rect x="284.2" y="224" width="1" height="10.5"/><rect x="285.2" y="224" width="1" height="10.5"/><rect x="286.1" y="224" width="1" height="10.5"/><rect x="287.3" y="224" width="1" height="10.5"/><rect x="288.2" y="224" width="1" height="10.5"/><rect x="289.0" y="224" width="1" height="10.5"/><rect x="289.8" y="224" width="1" height="10.5"/><rect x="290.5" y="224" width="1" height="10.5"/><rect x="291.4" y="224" width="1" height="10.5"/><rect x="292.3" y="224" width="1" height="10.5"/><rect x="293.2" y="224" width="1" height="10.5"/><rect x="294.0" y="224" width="1" height="10.5"/><rect x="295.0" y="224" width="1" height="10.5"/><rect x="296.0" y="224" width="1" height="10.5"/><rect x="297.0" y="224" width="1" height="10.5"/><rect x="298.2" y="224" width="1" height="10.5"/><rect x="299.2" y="224" width="1" height="10.5"/><rect x="300.0" y="224" width="1" height="10.5"/><rect x="301.2" y="224" width="1" height="10.5"/><rect x="302.0" y="224" width="1" height="10.5"/><rect x="305.1" y="224" width="1" height="10.5"/><rect x="306.3" y="224" width="1" height="10.5"/><rect x="307.2" y="224" width="1" height="10.5"/><rect x="308.2" y="224" width="1" height="10.5"/><rect x="309.0" y="224" width="1" height="10.5"/><rect x="309.8" y="224" width="1" height="10.5"/><rect x="310.6" y="224" width="1" height="10.5"/><rect x="311.4" y="224" width="1" height="10.5"/><rect x="312.3" y="224" width="1" height="10.5"/><rect x="313.3" y="224" width="1" height="10.5"/><rect x="314.2" y="224" width="1" height="10.5"/><rect x="317.5" y="224" width="1" height="10.5"/><rect x="318.4" y="224" width="1" height="10.5"/><rect x="319.1" y="224" width="1" height="10.5"/><rect x="320.1" y="224" width="1" height="10.5"/><rect x="321.3" y="224" width="1" height="10.5"/><rect x="322.2" y="224" width="1" height="10.5"/><rect x="322.9" y="224" width="1" height="10.5"/><rect x="323.9" y="224" width="1" height="10.5"/><rect x="325.1" y="224" width="1" height="10.5"/><rect x="326.3" y="224" width="1" height="10.5"/><rect x="327.1" y="224" width="1" height="10.5"/><rect x="327.9" y="224" width="1" height="10.5"/><rect x="328.6" y="224" width="1" height="10.5"/><rect x="329.4" y="224" width="1" height="10.5"/><rect x="330.2" y="224" width="1" height="10.5"/><rect x="331.1" y="224" width="1" height="10.5"/><rect x="332.1" y="224" width="1" height="10.5"/><rect x="333.0" y="224" width="1" height="10.5"/><rect x="333.8" y="224" width="1" height="10.5"/><rect x="334.7" y="224" width="1" height="10.5"/><rect x="335.9" y="224" width="1" height="10.5"/></g>
<polyline points="23.80,256.5 24.10,256.7 24.40,257.4 24.70,256.5 25.00,256.6 25.30,256.8 25.60,256.0 25.90,256.6 26.20,256.8 26.50,257.1 26.80,255.9 27.10,256.2 27.40,255.9 27.70,257.2 28.00,256.9 28.30,255.8 28.60,257.5 28.90,257.4 29.20,256.9 29.50,256.8 29.80,256.0 30.10,255.7 30.40,256.7 30.70,255.8 31.00,256.0 31.30,256.1 31.44,253.6 31.56,261.1 31.60,255.8 31.90,256.5 32.20,256.5 32.50,257.2 32.80,256.6 33.10,256.9 33.40,256.6 33.70,256.9 34.00,256.5 34.30,256.2 34.60,257.5 34.90,257.5 35.20,257.2 35.50,257.0 35.80,256.3 36.10,256.1 36.40,256.2 36.70,255.8 37.00,257.1 37.30,256.4 37.60,257.2 37.90,256.4 38.20,257.4 38.50,257.2 38.80,255.7 39.10,256.1 39.40,257.3 39.70,256.5 40.00,257.5 40.30,256.4 40.60,255.8 40.90,256.8 41.20,257.1 41.50,256.2 41.80,255.9 42.10,256.3 42.40,257.4 42.70,257.1 43.00,255.9 43.30,256.1 43.60,255.9 43.90,255.8 44.20,257.1 44.50,256.0 44.80,256.7 45.10,256.5 45.40,256.0 45.70,257.0 46.00,255.9 46.30,256.9 46.60,255.9 46.90,256.5 47.20,256.1 47.50,256.2 47.80,257.4 48.10,257.1 48.40,256.2 48.70,257.3 49.00,256.1 49.30,256.4 49.60,257.2 49.84,241.6 49.90,256.9 49.96,268.6 50.20,255.9 50.50,257.5 50.80,256.1 51.10,256.2 51.40,257.1 51.70,256.3 52.00,256.2 52.30,255.8 52.60,255.9 52.90,256.7 53.20,256.1 53.50,256.8 53.80,256.4 54.10,256.5 54.40,257.4 54.70,256.6 55.00,256.7 55.30,257.3 55.60,256.0 55.90,256.0 56.20,257.3 56.50,257.2 56.80,256.1 57.10,256.0 57.40,257.0 57.70,257.4 58.00,256.1 58.30,257.4 58.60,257.3 58.90,256.8 58.94,250.1 59.06,260.6 59.20,256.5 59.50,255.9 59.80,255.8 60.10,257.4 60.40,256.1 60.70,257.0 61.00,256.2 61.30,257.2 61.60,256.8 61.90,256.2 62.20,256.0 62.50,257.0 62.80,255.8 63.10,256.1 63.40,256.7 63.70,257.2 64.00,256.8 64.30,256.2 64.60,257.4 64.90,256.1 65.20,255.7 65.50,256.2 65.80,256.5 66.10,255.8 66.40,256.0 66.70,256.4 67.00,256.7 67.30,255.9 67.60,256.4 67.90,257.3 67.94,252.0 68.20,257.5 68.50,256.9 68.80,256.9 69.10,256.8 69.40,256.0 69.70,255.8 70.00,255.7 70.30,257.3 70.60,257.0 70.90,257.4 71.20,255.7 71.50,256.8 71.80,256.6 72.10,257.0 72.40,256.3 72.70,257.5 73.00,255.8 73.30,256.7 73.60,257.0 73.90,257.3 74.20,257.0 74.50,257.0 74.80,257.1 75.10,257.3 75.40,256.3 75.70,256.9 76.00,257.3 76.30,257.3 76.60,256.5 76.90,257.1 77.20,257.3 77.50,256.7 77.80,256.8 78.10,256.4 78.40,256.7 78.70,256.8 79.00,255.8 79.30,256.9 79.60,257.5 79.90,257.3 80.20,257.0 80.50,256.4 80.80,257.0 80.94,251.6 81.10,256.7 81.40,256.5 81.70,257.2 82.00,255.9 82.30,257.1 82.60,255.8 82.90,256.8 83.20,256.6 83.50,256.1 83.80,257.0 84.10,256.6 84.40,256.8 84.70,257.4 85.00,256.2 85.30,255.7 85.60,256.2 85.90,256.9 86.20,256.1 86.50,256.0 86.80,257.3 87.10,256.9 87.40,256.5 87.70,257.3 88.00,256.3 88.30,256.9 88.54,242.1 88.60,256.1 88.66,269.6 88.90,256.5 89.20,257.2 89.50,257.3 89.64,242.6 89.80,257.3 90.10,256.4 90.40,256.7 90.70,256.3 91.00,255.9 91.30,256.6 91.60,257.2 91.90,257.2 92.00,252.4 92.20,257.0 92.50,257.4 92.80,256.2 93.10,256.0 93.40,256.5 93.70,256.2 94.00,256.1 94.30,256.4 94.33,259.6 94.60,256.8 94.90,256.6 95.20,256.1 95.50,257.5 95.80,257.9 96.08,253.1 96.10,256.5 96.40,255.4 96.70,255.3 97.00,257.6 97.30,255.3 97.60,257.2 97.90,256.8 98.20,256.1 98.44,238.6 98.46,252.0 98.50,257.4 98.56,270.6 98.80,255.3 99.10,255.6 99.40,256.5 99.70,255.3 100.00,257.5 100.30,255.9 100.60,255.6 100.79,259.6 100.90,255.3 101.20,257.0 101.50,256.5 101.80,257.0 101.84,240.6 101.96,264.6 102.10,257.0 102.11,262.3 102.40,257.5 102.70,257.9 103.00,257.1 103.24,247.6 103.30,255.8 103.60,256.5 103.90,255.7 104.20,255.2 104.50,256.5 104.75,253.8 104.80,257.2 105.10,255.7 105.40,256.0 105.70,256.2 106.00,257.2 106.30,256.7 106.42,252.7 106.60,256.9 106.90,257.3 107.20,256.3 107.46,253.9 107.50,257.4 107.80,257.7 108.10,255.4 108.40,257.8 108.70,257.2 109.00,255.6 109.30,256.5 109.48,253.8 109.60,257.0 109.90,257.7 110.20,256.3 110.50,256.8 110.80,257.7 111.10,257.4 111.40,257.8 111.70,256.5 112.00,257.0 112.24,252.1 112.30,255.8 112.36,266.6 112.37,259.5 112.60,257.2 112.90,257.5 113.20,257.0 113.50,257.2 113.64,253.0 113.80,255.8 114.10,257.7 114.40,257.9 114.70,257.9 114.97,261.5 115.00,256.7 115.30,257.4 115.60,256.1 115.86,263.1 115.90,257.7 116.20,257.6 116.31,262.0 116.50,256.2 116.80,255.4 117.10,256.4 117.40,256.7 117.70,257.4 118.00,256.6 118.15,261.2 118.30,255.3 118.60,257.5 118.74,241.1 118.90,255.4 119.20,257.4 119.50,255.7 119.80,256.1 119.92,254.0 120.10,257.4 120.40,255.6 120.70,255.6 121.00,256.6 121.30,257.2 121.60,257.6 121.90,257.1 122.20,257.8 122.50,256.6 122.80,257.9 122.85,250.7 123.10,255.4 123.40,255.8 123.70,256.7 124.00,256.0 124.30,257.2 124.56,252.8 124.60,257.0 124.90,256.7 125.20,257.6 125.50,256.8 125.64,246.6 125.76,263.1 125.80,256.1 126.10,256.3 126.40,257.6 126.70,257.7 126.91,259.5 127.00,255.8 127.30,257.6 127.60,257.9 127.90,256.7 128.20,256.8 128.50,255.8 128.64,252.3 128.80,256.7 128.96,264.6 129.10,256.6 129.40,256.9 129.70,255.3 130.00,257.9 130.30,256.6 130.60,256.3 130.64,254.0 130.90,257.4 131.20,256.8 131.50,256.6 131.80,257.1 132.10,255.4 132.34,241.1 132.40,256.7 132.46,267.6 132.50,260.9 132.70,256.4 133.00,257.9 133.30,257.8 133.60,256.0 133.90,256.5 134.20,255.6 134.35,252.7 134.50,256.4 134.80,257.5 135.10,257.7 135.40,256.5 135.56,261.0 135.70,256.1 136.00,255.7 136.30,256.9 136.60,257.8 136.90,255.6 137.14,243.1 137.20,257.4 137.26,263.1 137.50,255.3 137.80,255.7 137.95,259.2 138.10,255.8 138.40,257.1 138.70,256.1 139.00,256.2 139.30,256.9 139.60,255.5 139.64,261.3 139.90,257.2 140.20,255.5 140.50,256.6 140.80,255.9 141.10,255.8 141.40,256.7 141.56,259.8 141.70,256.4 141.94,247.6 142.00,256.3 142.30,256.4 142.60,256.7 142.90,255.6 143.20,255.8 143.50,257.0 143.51,262.5 143.80,257.0 144.10,256.7 144.40,257.6 144.70,256.9 145.00,257.6 145.30,255.9 145.60,257.3 145.90,257.5 146.20,257.7 146.42,253.5 146.50,256.1 146.80,256.1 147.10,257.8 147.40,255.8 147.70,258.0 148.00,257.7 148.15,253.4 148.30,255.6 148.60,255.9 148.90,257.2 149.20,255.9 149.50,255.5 149.80,257.5 150.10,256.4 150.40,257.4 150.70,255.6 150.94,239.6 150.97,259.1 151.00,256.3 151.06,264.1 151.30,257.1 151.60,255.2 151.90,255.8 152.20,257.1 152.50,257.8 152.80,257.9 153.10,255.5 153.40,256.6 153.52,260.3 153.70,257.3 154.00,256.6 154.30,257.1 154.53,254.0 154.60,255.7 154.90,255.4 155.20,255.5 155.50,255.3 155.80,256.7 156.10,256.6 156.40,256.8 156.70,255.6 157.00,255.7 157.30,255.8 157.50,250.6 157.60,257.6 157.90,258.0 158.20,257.8 158.50,255.5 158.55,253.0 158.80,255.4 159.10,257.9 159.40,256.5 159.70,257.3 160.00,256.1 160.30,256.5 160.60,256.6 160.90,256.4 161.20,256.9 161.21,261.3 161.50,255.2 161.80,257.2 162.10,257.6 162.40,255.7 162.70,256.5 162.74,241.6 162.86,264.1 163.00,257.3 163.27,252.4 163.30,256.3 163.60,255.7 163.90,255.7 164.20,256.6 164.50,255.2 164.79,250.8 164.80,257.7 165.10,257.4 165.40,257.2 165.70,257.6 166.00,257.0 166.12,253.1 166.30,256.3 166.60,256.9 166.90,256.6 166.94,251.6 167.20,258.0 167.50,257.5 167.67,250.8 167.80,255.9 168.10,257.8 168.40,257.3 168.70,257.4 169.00,257.5 169.30,256.3 169.60,257.7 169.90,257.7 170.07,261.6 170.20,257.1 170.34,248.6 170.50,257.3 170.80,257.3 171.10,256.3 171.40,257.2 171.64,253.2 171.70,255.4 172.00,256.2 172.30,256.5 172.60,255.2 172.90,256.2 173.20,257.0 173.50,256.9 173.80,255.8 174.02,253.6 174.10,257.8 174.40,257.1 174.70,256.1 175.00,257.0 175.30,256.8 175.60,256.7 175.86,259.9 175.90,256.3 176.20,258.0 176.50,257.0 176.80,257.2 177.10,257.3 177.40,257.9 177.70,255.3 178.00,256.9 178.30,257.3 178.60,255.9 178.82,252.1 178.90,256.3 179.20,255.3 179.50,255.7 179.80,256.3 180.10,255.5 180.40,255.9 180.70,257.7 181.00,256.7 181.30,256.6 181.60,257.9 181.66,250.7 181.90,256.8 182.20,258.0 182.50,257.0 182.80,257.5 183.10,255.4 183.40,256.9 183.50,252.0 183.70,257.3 184.00,255.3 184.30,257.8 184.60,255.6 184.90,256.5 185.20,255.7 185.50,256.6 185.80,256.9 186.08,261.1 186.10,255.4 186.40,257.8 186.70,256.4 187.00,256.7 187.30,256.9 187.60,256.2 187.81,251.5 187.90,256.0 188.20,257.0 188.50,256.8 188.80,256.0 188.85,251.6 189.10,257.2 189.34,252.6 189.40,256.0 189.46,262.6 189.70,255.2 190.00,255.9 190.30,255.3 190.60,255.6 190.90,257.3 191.20,256.3 191.44,251.0 191.50,257.7 191.80,257.3 192.10,255.3 192.40,258.0 192.70,257.8 193.00,255.4 193.30,257.7 193.51,261.9 193.60,256.4 193.90,256.5 194.20,257.9 194.50,255.9 194.71,260.3 194.80,256.7 195.10,257.8 195.40,257.2 195.66,263.6 195.70,256.5 196.00,257.9 196.30,257.5 196.60,256.9 196.90,255.5 197.20,256.9 197.50,256.5 197.58,251.7 197.80,255.8 198.10,255.3 198.40,256.7 198.70,255.5 199.00,256.4 199.30,257.1 199.60,256.5 199.82,253.7 199.90,255.9 200.20,256.8 200.50,256.4 200.80,257.4 201.10,256.7 201.40,258.0 201.70,257.9 202.00,257.3 202.22,260.5 202.30,255.9 202.60,255.5 202.90,257.7 202.94,249.6 203.20,257.4 203.50,256.9 203.80,256.2 204.04,253.0 204.10,256.0 204.40,257.1 204.70,256.8 205.00,256.9 205.30,257.0 205.32,259.4 205.60,257.3 205.90,255.7 206.20,255.9 206.50,257.9 206.80,257.8 207.10,257.7 207.40,255.3 207.70,255.4 207.71,251.4 208.00,256.0 208.30,256.4 208.60,256.9 208.90,255.5 209.20,256.7 209.50,255.4 209.80,255.4 210.10,257.1 210.40,256.7 210.58,260.4 210.70,257.0 211.00,256.2 211.30,256.5 211.44,244.1 211.56,262.1 211.60,255.8 211.90,256.2 212.20,257.3 212.50,257.5 212.56,260.7 212.80,255.4 213.10,255.5 213.14,247.6 213.26,262.6 213.40,257.5 213.70,256.9 214.00,257.4 214.30,255.8 214.60,256.4 214.89,260.3 214.90,255.9 214.94,245.6 215.06,264.1 215.20,257.5 215.50,256.2 215.80,257.0 216.10,258.0 216.40,256.1 216.55,262.4 216.70,256.7 217.00,257.3 217.30,257.8 217.60,256.4 217.90,256.2 218.20,255.5 218.27,260.1 218.50,257.7 218.80,255.4 219.10,255.4 219.40,256.8 219.70,256.6 220.00,257.1 220.13,253.3 220.30,256.0 220.60,257.4 220.90,255.4 221.14,251.6 221.20,255.8 221.50,257.1 221.80,255.4 222.10,256.1 222.13,261.5 222.40,257.2 222.70,257.1 223.00,256.0 223.30,255.6 223.60,256.2 223.90,257.2 224.06,252.0 224.20,256.2 224.50,255.5 224.80,257.2 225.10,256.8 225.40,257.8 225.56,252.5 225.70,257.8 226.00,257.8 226.30,256.4 226.60,257.4 226.90,256.1 227.20,256.1 227.50,256.3 227.80,257.8 228.10,257.7 228.23,253.3 228.40,255.9 228.70,256.2 229.00,256.2 229.30,256.2 229.60,256.3 229.90,256.3 230.20,255.7 230.50,256.8 230.75,252.7 230.80,257.4 230.94,251.1 231.06,263.1 231.10,256.7 231.40,257.5 231.70,256.8 232.00,255.7 232.30,257.3 232.60,257.7 232.90,256.0 233.08,250.7 233.20,255.3 233.50,256.6 233.80,256.7 234.10,256.8 234.40,257.9 234.70,257.0 235.00,257.5 235.30,255.4 235.44,252.9 235.60,256.7 235.90,257.4 236.20,255.4 236.50,255.4 236.80,257.3 237.08,260.8 237.10,257.7 237.40,255.4 237.70,257.0 238.00,255.6 238.30,257.3 238.60,257.0 238.70,259.6 238.90,255.9 239.20,255.8 239.24,250.1 239.50,257.3 239.80,256.7 240.10,257.2 240.40,256.4 240.70,256.2 240.79,260.0 241.00,257.6 241.30,257.0 241.60,256.6 241.90,256.7 242.20,257.1 242.50,257.1 242.80,257.5 243.10,256.4 243.39,253.1 243.40,257.3 243.70,257.0 244.00,257.4 244.30,257.3 244.60,257.3 244.90,257.5 245.00,254.3 245.20,257.6 245.50,256.9 245.80,256.7 246.10,257.1 246.40,257.3 246.70,256.4 247.00,256.4 247.30,255.8 247.60,257.1 247.90,257.7 248.20,256.3 248.50,255.9 248.80,255.9 249.10,256.4 249.40,256.1 249.69,258.7 249.70,257.6 250.00,255.6 250.30,256.2 250.60,255.8 250.90,256.9 251.20,257.2 251.50,255.9 251.80,255.6 252.10,256.5 252.40,256.8 252.70,257.5 253.00,255.6 253.30,255.7 253.60,255.9 253.61,253.4 253.90,256.0 254.20,256.0 254.50,257.1 254.80,256.8 255.10,256.0 255.40,255.9 255.70,256.1 256.00,255.9 256.30,257.2 256.60,256.2 256.90,256.7 257.20,257.3 257.50,256.6 257.80,256.1 257.97,254.3 258.10,257.5 258.40,257.5 258.70,256.3 259.00,256.7 259.30,257.6 259.60,256.6 259.90,256.0 260.20,255.6 260.50,257.6 260.76,258.9 260.80,257.3 261.10,256.3 261.40,256.7 261.70,256.6 262.00,256.1 262.30,257.7 262.60,256.9 262.90,256.0 263.20,255.5 263.50,256.5 263.80,256.3 263.91,254.3 264.10,257.3 264.40,257.1 264.70,256.8 265.00,255.8 265.30,255.8 265.60,256.2 265.90,256.1 266.20,257.4 266.42,258.5 266.50,256.6 266.80,256.9 267.10,257.7 267.40,256.1 267.70,256.7 268.00,255.8 268.30,257.2 268.60,255.5 268.90,257.3 269.20,257.4 269.50,257.3 269.80,255.7 270.10,256.1 270.40,257.1 270.70,255.7 271.00,256.6 271.30,256.5 271.33,259.1 271.60,257.6 271.90,256.8 272.20,257.4 272.50,256.2 272.80,257.2 273.10,256.4 273.40,257.5 273.70,255.7 274.00,257.3 274.30,256.0 274.60,256.7 274.90,256.7 275.20,255.8 275.50,257.3 275.80,256.2 275.84,253.4 276.10,256.2 276.40,255.7 276.70,256.2 277.00,256.5 277.30,257.1 277.60,256.3 277.90,257.0 278.20,255.7 278.50,256.4 278.80,256.5 278.92,259.6 279.10,257.6 279.40,257.3 279.70,256.9 280.00,255.5 280.30,256.3 280.60,257.1 280.90,256.0 281.20,256.7 281.33,253.4 281.50,256.5 281.80,255.5 282.10,257.7 282.40,257.3 282.70,256.0 283.00,256.9 283.30,256.1 283.60,256.3 283.90,256.7 283.96,259.9 284.20,256.2 284.50,256.2 284.80,256.4 285.10,257.0 285.40,256.1 285.70,255.9 286.00,257.1 286.30,256.2 286.60,257.6 286.89,258.1 286.90,256.7 287.20,257.1 287.50,256.2 287.80,257.3 288.10,255.7 288.40,255.8 288.70,255.7 289.00,257.0 289.30,257.1 289.38,259.5 289.60,255.9 289.90,256.4 290.20,257.3 290.50,256.8 290.80,255.7 291.10,256.0 291.40,255.8 291.70,255.8 291.95,258.5 292.00,256.4 292.30,255.7 292.60,257.5 292.90,256.4 292.94,249.6 293.20,256.6 293.50,256.9 293.80,257.2 294.10,257.3 294.40,256.3 294.70,256.2 295.00,256.4 295.30,255.5 295.60,256.4 295.90,257.0 296.20,257.7 296.50,257.2 296.53,259.3 296.80,257.0 297.10,256.8 297.40,255.5 297.70,256.2 298.00,256.3 298.30,256.9 298.60,255.7 298.90,256.3 299.20,256.6 299.50,257.2 299.80,257.3 300.10,256.8 300.40,255.8 300.59,259.2 300.70,257.2 301.00,257.5 301.30,256.7 301.60,256.3 301.90,256.6 302.20,255.8 302.50,257.1 302.80,257.7 303.10,256.6 303.40,257.1 303.70,257.3 304.00,255.9 304.17,253.8 304.30,257.6 304.60,256.9 304.90,255.9 305.20,255.7 305.50,256.0 305.80,256.8 306.10,257.0 306.40,256.2 306.70,257.5 307.00,256.3 307.30,256.5 307.60,255.8 307.69,259.4 307.90,257.6 308.20,255.8 308.50,257.5 308.80,256.7 309.10,256.7 309.40,256.7 309.70,256.1 310.00,257.5 310.30,257.7 310.60,257.3 310.90,256.8 311.20,255.8 311.50,257.3 311.59,258.9 311.80,256.1 312.10,257.5 312.40,256.0 312.70,256.8 313.00,257.3 313.30,255.9 313.60,256.7 313.90,255.7 314.20,255.6 314.50,255.9 314.80,257.7 315.10,257.6 315.14,259.5 315.40,256.9 315.70,256.2 316.00,257.0 316.30,257.1 316.60,256.3 316.90,256.8 317.20,257.3 317.50,255.5 317.80,255.9 318.10,256.5 318.40,255.8 318.70,256.4 319.00,256.8 319.30,255.9 319.60,256.6 319.90,256.1 319.91,254.1 320.20,256.7 320.50,256.2 320.80,256.9 321.10,255.6 321.40,257.0 321.70,255.8 322.00,257.6 322.30,256.8 322.60,256.5 322.90,256.4 323.20,256.9 323.50,257.0 323.80,257.2 323.98,253.2 324.10,257.2 324.40,256.6 324.70,257.7 325.00,257.3 325.30,257.4 325.60,256.4 325.90,256.5 326.20,256.7 326.50,257.5 326.80,256.7 327.10,256.7 327.27,254.3 327.40,256.5 327.70,257.5 328.00,256.2 328.30,255.6 328.46,261.1 328.60,257.1 328.90,257.5 329.20,257.1 329.50,256.8 329.80,257.2 330.10,256.2 330.40,256.8 330.70,255.7 331.00,255.8 331.30,256.5 331.53,259.8 331.60,256.6 331.90,256.4 332.20,255.6 332.50,257.0 332.80,256.7 333.10,256.0 333.40,256.2 333.70,256.4 333.71,258.3 334.00,256.0 334.30,255.7 334.60,257.5 334.90,257.6 335.20,257.0 335.50,257.4 335.80,256.4 335.88,258.1 336.10,257.3 336.40,256.0 336.70,257.1 337.00,256.7 337.30,257.5" fill="none" stroke="#00f" stroke-width="1.2" stroke-linejoin="round"/>
</g></g>

<g style="filter:blur(0.25px)">

<g stroke="#000" fill="none">
 <path d="M23.6,0 V273.6 H338.2 V0" stroke-width="1.5"/>
 <path d="M23.6,0.6 H338.2" stroke-width="1.6"/>
</g>
<g stroke="#000" stroke-width="1.3">
 <path d="M58.6,273 V267 M128.4,273 V267 M198.4,273 V267 M268.2,273 V267"/>
 <path d="M93.5,273 V270 M163.3,273 V270 M233.3,273 V270 M303,273 V270"/>
</g>
<g font-family='"Liberation Sans", sans-serif' font-size="17.5" fill="#000" text-anchor="middle">
 <text x="58.4" y="294.2">20</text>
 <text x="128.2" y="294.2">40</text>
 <text x="198.1" y="294.2">60</text>
 <text x="268" y="294.2">80</text>
 <text x="338.3" y="294.2">100</text>
</g>
<g font-family='"Liberation Sans", sans-serif' font-size="18"><text x="131.5" y="321">2</text><text x="142.5" y="321" font-size="18" font-family='"Liberation Serif", serif'>&#920;</text><text x="154.6" y="321" xml:space="preserve"> (degree)</text></g>
<text transform="translate(13.3,211.7) rotate(-90)" font-family='"Liberation Sans", sans-serif' font-size="18.3">Intensity (arb.unit)</text>
<text x="273.6" y="27.6" font-family='"Liberation Sans", sans-serif' font-size="14.5" font-weight="bold" stroke="#000" stroke-width="0.3">(a)</text>


<circle cx="172.9" cy="29.2" r="3.5" fill="none" stroke="#222" stroke-width="0.9"/>
<g font-family='"Liberation Sans", sans-serif' fill="#000">
<text x="194.7" y="34.2" font-size="16.5">Y</text><text x="204.8" y="40.4" font-size="9.5">obs</text>
<text x="194.7" y="58.8" font-size="16.5">Y</text><text x="204.8" y="65.2" font-size="9.5">cal</text>
<text x="194.7" y="83.6" font-size="16.5">Y</text><text x="204.8" y="89.7" font-size="9.5">obs</text>
<text x="219.4" y="83.6" font-size="16.5">-Y</text><text x="235.6" y="89.7" font-size="9.5">cal</text>
<text x="194.8" y="107.9" font-size="15.4">Bragg's position</text>
</g>
<path d="M154,53.9 H191.7" stroke="#f00" stroke-width="2.6"/>
<path d="M154.7,78.2 H190.9" stroke="#00f" stroke-width="1.3"/>
<rect x="172.4" y="97.8" width="1.2" height="10.4" fill="#7cc4c4"/>


<defs>
<radialGradient id="gSb1" cx="0.52" cy="0.52" r="0.55" fx="0.6" fy="0.56"><stop offset="0" stop-color="#fbeaa0"/><stop offset="0.18" stop-color="#f4b050"/><stop offset="0.7" stop-color="#e58a22"/><stop offset="1" stop-color="#c46a10"/></radialGradient>
<radialGradient id="gSb2" cx="0.52" cy="0.52" r="0.55" fx="0.6" fy="0.56"><stop offset="0" stop-color="#fcc8e4"/><stop offset="0.18" stop-color="#ea5aa4"/><stop offset="0.7" stop-color="#d6207e"/><stop offset="1" stop-color="#b01466"/></radialGradient>
<radialGradient id="gTa" cx="0.52" cy="0.52" r="0.55" fx="0.6" fy="0.56"><stop offset="0" stop-color="#f0ffff"/><stop offset="0.22" stop-color="#b4ecec"/><stop offset="0.7" stop-color="#84d6d8"/><stop offset="1" stop-color="#5cb6ba"/></radialGradient>
</defs>
<path d="M366.0,75.0 L501.0,63.4 M501.0,63.4 L651.0,88.5 M365.4,143.0 L500.4,131.4 M500.4,131.4 L650.4,156.5 M366.0,75.0 L365.4,143.0 M501.0,63.4 L500.4,131.4 M651.0,88.5 L650.4,156.5 " stroke="#333" stroke-width="0.9" fill="none"/>
<ellipse cx="498.3" cy="69.5" rx="10.3" ry="10.6" fill="url(#gTa)" stroke="#4a9498" stroke-width="0.8"/><ellipse cx="451.6" cy="72.9" rx="9.4" ry="10.4" fill="url(#gSb1)" stroke="#9a5410" stroke-width="0.8"/><ellipse cx="547.0" cy="75.2" rx="9.4" ry="10.4" fill="url(#gSb2)" stroke="#8a0c50" stroke-width="0.8"/><ellipse cx="471.5" cy="88.0" rx="9.4" ry="10.4" fill="url(#gSb2)" stroke="#8a0c50" stroke-width="0.8"/><ellipse cx="567.3" cy="90.5" rx="9.4" ry="10.4" fill="url(#gSb1)" stroke="#9a5410" stroke-width="0.8"/><ellipse cx="520.1" cy="94.1" rx="10.3" ry="10.6" fill="url(#gTa)" stroke="#4a9498" stroke-width="0.8"/><ellipse cx="394.6" cy="110.0" rx="9.4" ry="10.4" fill="url(#gSb2)" stroke="#8a0c50" stroke-width="0.8"/><ellipse cx="490.3" cy="112.1" rx="9.4" ry="10.4" fill="url(#gSb1)" stroke="#9a5410" stroke-width="0.8"/><ellipse cx="443.7" cy="115.3" rx="10.3" ry="10.6" fill="url(#gTa)" stroke="#4a9498" stroke-width="0.8"/><ellipse cx="573.2" cy="116.3" rx="10.3" ry="10.6" fill="url(#gTa)" stroke="#4a9498" stroke-width="0.8"/><ellipse cx="527.5" cy="119.5" rx="9.4" ry="10.4" fill="url(#gSb1)" stroke="#9a5410" stroke-width="0.8"/><ellipse cx="621.0" cy="122.0" rx="9.4" ry="10.4" fill="url(#gSb2)" stroke="#8a0c50" stroke-width="0.8"/><ellipse cx="496.8" cy="138.1" rx="10.3" ry="10.6" fill="url(#gTa)" stroke="#4a9498" stroke-width="0.8"/><ellipse cx="450.0" cy="141.9" rx="9.4" ry="10.4" fill="url(#gSb1)" stroke="#9a5410" stroke-width="0.8"/><ellipse cx="546.0" cy="143.0" rx="9.4" ry="10.4" fill="url(#gSb2)" stroke="#8a0c50" stroke-width="0.8"/><ellipse cx="470.5" cy="157.0" rx="9.4" ry="10.4" fill="url(#gSb2)" stroke="#8a0c50" stroke-width="0.8"/><ellipse cx="566.0" cy="159.0" rx="9.4" ry="10.4" fill="url(#gSb1)" stroke="#9a5410" stroke-width="0.8"/><ellipse cx="519.4" cy="161.9" rx="10.3" ry="10.6" fill="url(#gTa)" stroke="#4a9498" stroke-width="0.8"/>
<path d="M517.0,99.4 L516.4,167.4 M366.0,75.0 L517.0,99.4 M517.0,99.4 L651.0,88.5 M365.4,143.0 L516.4,167.4 M516.4,167.4 L650.4,156.5 " stroke="#333" stroke-width="0.9" fill="none"/>
<g font-family='"Liberation Sans", sans-serif' font-weight="bold" font-size="14" text-anchor="middle" fill="none" stroke="#fff" stroke-width="1.6" stroke-opacity="0.45"><text transform="translate(451.6,77.2) scale(0.93,1)">Sb1</text><text transform="translate(490.3,116.4) scale(0.93,1)">Sb1</text><text transform="translate(527.5,123.8) scale(0.93,1)">Sb1</text><text transform="translate(450.0,146.2) scale(0.93,1)">Sb1</text><text transform="translate(567.3,94.8) scale(0.93,1)">Sb1</text><text transform="translate(566.0,163.3) scale(0.93,1)">Sb1</text><text transform="translate(471.5,92.3) scale(0.93,1)">Sb2</text><text transform="translate(394.6,114.3) scale(0.93,1)">Sb2</text><text transform="translate(547.0,79.5) scale(0.93,1)">Sb2</text><text transform="translate(470.5,161.3) scale(0.93,1)">Sb2</text><text transform="translate(546.0,147.3) scale(0.93,1)">Sb2</text><text transform="translate(621.0,126.3) scale(0.93,1)">Sb2</text><text transform="translate(498.3,73.8) scale(0.93,1)">Ta</text><text transform="translate(520.1,98.4) scale(0.93,1)">Ta</text><text transform="translate(443.7,119.6) scale(0.93,1)">Ta</text><text transform="translate(573.2,120.6) scale(0.93,1)">Ta</text><text transform="translate(496.8,142.4) scale(0.93,1)">Ta</text><text transform="translate(519.4,166.2) scale(0.93,1)">Ta</text></g>
<g font-family='"Liberation Sans", sans-serif' font-weight="bold" font-size="14" text-anchor="middle" fill="#000" stroke="#000" stroke-width="0.15"><text transform="translate(451.6,77.2) scale(0.93,1)">Sb1</text><text transform="translate(490.3,116.4) scale(0.93,1)">Sb1</text><text transform="translate(527.5,123.8) scale(0.93,1)">Sb1</text><text transform="translate(450.0,146.2) scale(0.93,1)">Sb1</text><text transform="translate(567.3,94.8) scale(0.93,1)">Sb1</text><text transform="translate(566.0,163.3) scale(0.93,1)">Sb1</text><text transform="translate(471.5,92.3) scale(0.93,1)">Sb2</text><text transform="translate(394.6,114.3) scale(0.93,1)">Sb2</text><text transform="translate(547.0,79.5) scale(0.93,1)">Sb2</text><text transform="translate(470.5,161.3) scale(0.93,1)">Sb2</text><text transform="translate(546.0,147.3) scale(0.93,1)">Sb2</text><text transform="translate(621.0,126.3) scale(0.93,1)">Sb2</text><text transform="translate(498.3,73.8) scale(0.93,1)">Ta</text><text transform="translate(520.1,98.4) scale(0.93,1)">Ta</text><text transform="translate(443.7,119.6) scale(0.93,1)">Ta</text><text transform="translate(573.2,120.6) scale(0.93,1)">Ta</text><text transform="translate(496.8,142.4) scale(0.93,1)">Ta</text><text transform="translate(519.4,166.2) scale(0.93,1)">Ta</text></g>
<text x="611.2" y="21.8" font-family='"Liberation Sans", sans-serif' font-size="15.5" font-weight="bold" stroke="#000" stroke-width="0.3">(b)</text>
<g>
 <path d="M397.8,217 V199" stroke="#22c822" stroke-width="2.2"/>
 <path d="M397.8,190.5 L394.2,199.8 L401.4,199.8 Z" fill="#22c822"/>
 <path d="M399.5,219.2 L412.8,221.2" stroke="#cc1414" stroke-width="2.4"/>
 <path d="M420.2,222.2 L412.2,217.4 L411.6,224.8 Z" fill="#cc1414"/>
 <path d="M396,219.1 L382,220.2" stroke="#1414cc" stroke-width="2.4"/>
 <path d="M373.6,220.7 L382.2,216.5 L382.6,224 Z" fill="#1414cc"/>
 <circle cx="397.8" cy="218.9" r="2.8" fill="#c8c8c8" stroke="#777" stroke-width="0.6"/>
 <g font-family='"Liberation Sans", sans-serif' font-weight="bold" font-size="13.5" fill="#000" stroke="#000" stroke-width="0.3">
  <text x="394.3" y="189">b</text><text x="422" y="227.3">a</text><text x="364.8" y="225.3">c</text>
 </g>
</g>

</g>
</svg>
</body></html>
